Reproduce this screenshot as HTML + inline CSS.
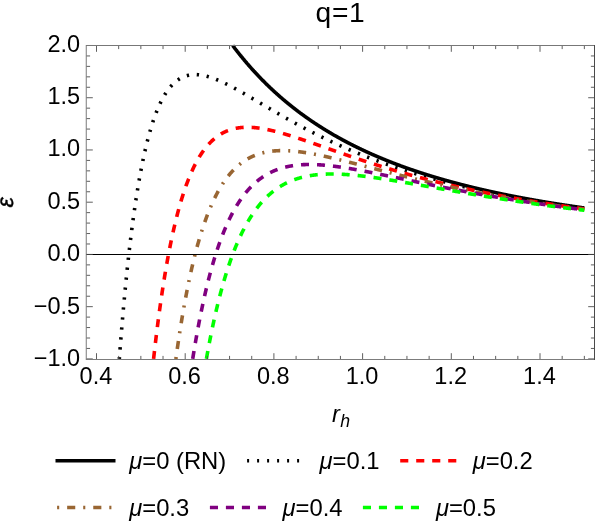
<!DOCTYPE html>
<html><head><meta charset="utf-8"><style>
html,body{margin:0;padding:0;background:#fff;}
svg{display:block;will-change:transform;}
text{font-family:"Liberation Sans",sans-serif;fill:#000;}
</style></head><body>
<svg width="595" height="522" viewBox="0 0 595 522">
<rect width="595" height="522" fill="#fff"/>
<defs><clipPath id="c"><rect x="86.5" y="45.5" width="508.0" height="314.0"/></clipPath></defs>
<g>
<path d="M232.70,45.49 L232.94,45.80 L233.17,46.11 L233.41,46.42 L233.64,46.73 L233.87,47.04 L234.11,47.35 L234.34,47.66 L234.58,47.97 L234.81,48.28 L235.05,48.58 L235.28,48.89 L235.52,49.19 L235.75,49.50 L235.99,49.80 L236.22,50.10 L236.46,50.40 L236.69,50.70 L236.92,51.01 L237.16,51.31 L237.39,51.60 L237.63,51.90 L237.86,52.20 L238.10,52.50 L238.33,52.79 L238.57,53.09 L238.80,53.39 L239.04,53.68 L239.27,53.98 L239.50,54.27 L239.74,54.56 L239.97,54.85 L240.21,55.14 L240.44,55.44 L240.68,55.73 L240.91,56.02 L241.15,56.30 L241.38,56.59 L241.62,56.88 L241.85,57.17 L242.09,57.45 L242.32,57.74 L242.55,58.03 L242.79,58.31 L243.02,58.59 L243.26,58.88 L243.49,59.16 L243.73,59.44 L243.96,59.72 L244.20,60.00 L244.43,60.28 L244.67,60.56 L244.90,60.84 L245.14,61.12 L245.37,61.40 L245.60,61.68 L245.84,61.95 L246.07,62.23 L246.31,62.51 L246.54,62.78 L246.78,63.05 L247.01,63.33 L247.25,63.60 L247.48,63.87 L247.72,64.15 L247.95,64.42 L248.18,64.69 L248.42,64.96 L248.65,65.23 L248.89,65.50 L249.12,65.77 L249.36,66.03 L249.59,66.30 L249.83,66.57 L250.06,66.83 L250.30,67.10 L250.53,67.36 L250.77,67.63 L251.00,67.89 L251.23,68.16 L251.47,68.42 L251.70,68.68 L251.94,68.94 L252.17,69.20 L252.41,69.47 L252.64,69.73 L252.88,69.98 L253.11,70.24 L253.35,70.50 L253.58,70.76 L253.81,71.02 L254.05,71.27 L254.28,71.53 L254.52,71.79 L254.75,72.04 L254.99,72.30 L255.22,72.55 L255.46,72.80 L255.69,73.06 L255.93,73.31 L256.16,73.56 L256.40,73.81 L256.63,74.06 L256.86,74.31 L257.10,74.56 L257.33,74.81 L257.57,75.06 L257.80,75.31 L258.04,75.56 L258.27,75.81 L258.51,76.05 L258.74,76.30 L258.98,76.55 L259.21,76.79 L259.44,77.04 L259.68,77.28 L259.91,77.52 L260.15,77.77 L260.38,78.01 L260.62,78.25 L260.85,78.49 L261.09,78.73 L261.32,78.98 L261.56,79.22 L261.79,79.46 L262.03,79.70 L262.26,79.93 L262.49,80.17 L262.73,80.41 L262.96,80.65 L263.20,80.88 L263.43,81.12 L263.67,81.36 L263.90,81.59 L264.14,81.83 L264.37,82.06 L264.61,82.30 L264.84,82.53 L265.08,82.76 L265.31,82.99 L265.54,83.23 L265.78,83.46 L266.01,83.69 L266.25,83.92 L266.48,84.15 L266.72,84.38 L266.95,84.61 L267.19,84.84 L267.42,85.07 L267.66,85.29 L267.89,85.52 L268.12,85.75 L268.36,85.98 L268.59,86.20 L268.83,86.43 L269.06,86.65 L269.30,86.88 L269.53,87.10 L269.77,87.32 L270.00,87.55 L270.24,87.77 L270.47,87.99 L270.71,88.22 L270.94,88.44 L271.17,88.66 L271.41,88.88 L271.64,89.10 L271.88,89.32 L272.11,89.54 L272.35,89.76 L272.58,89.98 L272.82,90.19 L273.05,90.41 L273.29,90.63 L273.52,90.85 L273.75,91.06 L273.99,91.28 L274.22,91.49 L274.46,91.71 L274.69,91.92 L274.93,92.14 L275.16,92.35 L275.40,92.56 L275.63,92.78 L275.87,92.99 L276.10,93.20 L276.34,93.41 L276.57,93.62 L276.80,93.84 L277.04,94.05 L277.27,94.26 L277.51,94.47 L277.74,94.67 L277.98,94.88 L278.21,95.09 L278.45,95.30 L278.68,95.51 L278.92,95.71 L279.15,95.92 L279.38,96.13 L279.62,96.33 L279.85,96.54 L280.09,96.74 L280.32,96.95 L280.56,97.15 L280.79,97.36 L281.03,97.56 L281.26,97.76 L281.50,97.97 L281.73,98.17 L281.97,98.37 L282.20,98.57 L282.43,98.77 L282.67,98.98 L282.90,99.18 L283.14,99.38 L283.37,99.58 L283.61,99.77 L283.84,99.97 L284.08,100.17 L284.31,100.37 L284.55,100.57 L284.78,100.76 L285.02,100.96 L285.25,101.16 L285.48,101.35 L285.72,101.55 L285.95,101.75 L286.19,101.94 L286.42,102.14 L286.66,102.33 L286.89,102.52 L287.13,102.72 L287.36,102.91 L287.60,103.10 L287.83,103.30 L288.06,103.49 L288.30,103.68 L288.53,103.87 L288.77,104.06 L289.00,104.25 L289.24,104.44 L289.47,104.63 L289.71,104.82 L289.94,105.01 L290.18,105.20 L290.41,105.39 L290.65,105.58 L290.88,105.77 L291.11,105.95 L291.35,106.14 L291.58,106.33 L291.82,106.51 L292.05,106.70 L292.29,106.88 L292.52,107.07 L292.76,107.26 L292.99,107.44 L293.23,107.62 L293.46,107.81 L293.69,107.99 L293.93,108.17 L294.16,108.36 L294.40,108.54 L294.63,108.72 L294.87,108.90 L295.10,109.09 L295.34,109.27 L295.57,109.45 L295.81,109.63 L296.04,109.81 L296.28,109.99 L296.51,110.17 L296.74,110.35 L296.98,110.53 L297.21,110.70 L297.45,110.88 L297.68,111.06 L297.92,111.24 L298.15,111.42 L298.39,111.59 L298.62,111.77 L298.86,111.94 L299.09,112.12 L299.32,112.30 L299.56,112.47 L299.79,112.65 L300.03,112.82 L300.26,113.00 L300.50,113.17 L300.73,113.34 L300.97,113.52 L301.20,113.69 L301.44,113.86 L301.67,114.03 L301.91,114.21 L302.14,114.38 L302.37,114.55 L302.61,114.72 L302.84,114.89 L303.08,115.06 L303.31,115.23 L303.55,115.40 L303.78,115.57 L304.02,115.74 L304.25,115.91 L304.49,116.08 L304.72,116.25 L304.96,116.41 L305.19,116.58 L305.42,116.75 L305.66,116.92 L305.89,117.08 L306.13,117.25 L306.36,117.42 L306.60,117.58 L306.83,117.75 L307.07,117.91 L307.30,118.08 L307.54,118.24 L307.77,118.41 L308.00,118.57 L308.24,118.73 L308.47,118.90 L308.71,119.06 L308.94,119.22 L309.18,119.39 L309.41,119.55 L309.65,119.71 L309.88,119.87 L310.12,120.03 L310.35,120.19 L310.59,120.35 L310.82,120.52 L311.05,120.68 L311.29,120.84 L311.52,121.00 L311.76,121.15 L311.99,121.31 L312.23,121.47 L312.46,121.63 L312.70,121.79 L312.93,121.95 L313.17,122.11 L313.40,122.26 L313.63,122.42 L313.87,122.58 L314.10,122.73 L314.34,122.89 L314.57,123.05 L314.81,123.20 L315.04,123.36 L315.28,123.51 L315.51,123.67 L315.75,123.82 L315.98,123.98 L316.22,124.13 L316.45,124.28 L316.68,124.44 L316.92,124.59 L317.15,124.74 L317.39,124.90 L317.62,125.05 L317.86,125.20 L318.09,125.35 L318.33,125.50 L318.56,125.66 L318.80,125.81 L319.03,125.96 L319.27,126.11 L319.50,126.26 L319.73,126.41 L319.97,126.56 L320.20,126.71 L320.44,126.86 L320.67,127.01 L320.91,127.15 L321.14,127.30 L321.38,127.45 L321.61,127.60 L321.85,127.75 L322.08,127.89 L322.31,128.04 L322.55,128.19 L322.78,128.34 L323.02,128.48 L323.25,128.63 L323.49,128.77 L323.72,128.92 L323.96,129.07 L324.19,129.21 L324.43,129.36 L324.66,129.50 L324.90,129.64 L325.13,129.79 L325.36,129.93 L325.60,130.08 L325.83,130.22 L326.07,130.36 L326.30,130.51 L326.54,130.65 L326.77,130.79 L327.01,130.93 L327.24,131.07 L327.48,131.22 L327.71,131.36 L327.94,131.50 L328.18,131.64 L328.41,131.78 L328.65,131.92 L328.88,132.06 L329.12,132.20 L329.35,132.34 L329.59,132.48 L329.82,132.62 L330.06,132.76 L330.29,132.90 L330.53,133.04 L330.76,133.17 L330.99,133.31 L331.23,133.45 L331.46,133.59 L331.70,133.73 L331.93,133.86 L332.17,134.00 L332.40,134.14 L332.64,134.27 L332.87,134.41 L333.11,134.54 L333.34,134.68 L333.57,134.82 L333.81,134.95 L334.04,135.09 L334.28,135.22 L334.51,135.36 L334.75,135.49 L334.98,135.62 L335.22,135.76 L335.45,135.89 L335.69,136.03 L335.92,136.16 L336.16,136.29 L336.39,136.42 L336.62,136.56 L336.86,136.69 L337.09,136.82 L337.33,136.95 L337.56,137.08 L337.80,137.22 L338.03,137.35 L338.27,137.48 L338.50,137.61 L338.74,137.74 L338.97,137.87 L339.21,138.00 L339.44,138.13 L339.67,138.26 L339.91,138.39 L340.14,138.52 L340.38,138.65 L340.61,138.78 L340.85,138.91 L341.08,139.03 L341.32,139.16 L341.55,139.29 L341.79,139.42 L342.02,139.55 L342.25,139.67 L342.49,139.80 L342.72,139.93 L342.96,140.05 L343.19,140.18 L343.43,140.31 L343.66,140.43 L343.90,140.56 L344.13,140.68 L344.37,140.81 L344.60,140.93 L344.84,141.06 L345.07,141.18 L345.30,141.31 L345.54,141.43 L345.77,141.56 L346.01,141.68 L346.24,141.81 L346.48,141.93 L346.71,142.05 L346.95,142.18 L347.18,142.30 L347.42,142.42 L347.65,142.54 L347.88,142.67 L348.12,142.79 L348.35,142.91 L348.59,143.03 L348.82,143.15 L349.06,143.28 L349.29,143.40 L349.53,143.52 L349.76,143.64 L350.00,143.76 L350.23,143.88 L350.47,144.00 L350.70,144.12 L350.93,144.24 L351.17,144.36 L351.40,144.48 L351.64,144.60 L351.87,144.72 L352.11,144.84 L352.34,144.95 L352.58,145.07 L352.81,145.19 L353.05,145.31 L353.28,145.43 L353.51,145.54 L353.75,145.66 L353.98,145.78 L354.22,145.90 L354.45,146.01 L354.69,146.13 L354.92,146.25 L355.16,146.36 L355.39,146.48 L355.63,146.60 L355.86,146.71 L356.10,146.83 L356.33,146.94 L356.56,147.06 L356.80,147.17 L357.03,147.29 L357.27,147.40 L357.50,147.52 L357.74,147.63 L357.97,147.75 L358.21,147.86 L358.44,147.97 L358.68,148.09 L358.91,148.20 L359.15,148.31 L359.38,148.43 L359.61,148.54 L359.85,148.65 L360.08,148.76 L360.32,148.88 L360.55,148.99 L360.79,149.10 L361.02,149.21 L361.26,149.32 L361.49,149.44 L361.73,149.55 L361.96,149.66 L362.19,149.77 L362.43,149.88 L362.66,149.99 L362.90,150.10 L363.13,150.21 L363.37,150.32 L363.60,150.43 L363.84,150.54 L364.07,150.65 L364.31,150.76 L364.54,150.87 L364.78,150.98 L365.01,151.09 L365.24,151.19 L365.48,151.30 L365.71,151.41 L365.95,151.52 L366.18,151.63 L366.42,151.74 L366.65,151.84 L366.89,151.95 L367.12,152.06 L367.36,152.16 L367.59,152.27 L367.82,152.38 L368.06,152.49 L368.29,152.59 L368.53,152.70 L368.76,152.80 L369.00,152.91 L369.23,153.02 L369.47,153.12 L369.70,153.23 L369.94,153.33 L370.17,153.44 L370.41,153.54 L370.64,153.65 L370.87,153.75 L371.11,153.86 L371.34,153.96 L371.58,154.06 L371.81,154.17 L372.05,154.27 L372.28,154.38 L372.52,154.48 L372.75,154.58 L372.99,154.69 L373.22,154.79 L373.45,154.89 L373.69,154.99 L373.92,155.10 L374.16,155.20 L374.39,155.30 L374.63,155.40 L374.86,155.51 L375.10,155.61 L375.33,155.71 L375.57,155.81 L375.80,155.91 L376.04,156.01 L376.27,156.11 L376.50,156.22 L376.74,156.32 L376.97,156.42 L377.21,156.52 L377.44,156.62 L377.68,156.72 L377.91,156.82 L378.15,156.92 L378.38,157.02 L378.62,157.12 L378.85,157.21 L379.09,157.31 L379.32,157.41 L379.55,157.51 L379.79,157.61 L380.02,157.71 L380.26,157.81 L380.49,157.91 L380.73,158.00 L380.96,158.10 L381.20,158.20 L381.43,158.30 L381.67,158.39 L381.90,158.49 L382.13,158.59 L382.37,158.69 L382.60,158.78 L382.84,158.88 L383.07,158.98 L383.31,159.07 L383.54,159.17 L383.78,159.27 L384.01,159.36 L384.25,159.46 L384.48,159.55 L384.72,159.65 L384.95,159.74 L385.18,159.84 L385.42,159.93 L385.65,160.03 L385.89,160.12 L386.12,160.22 L386.36,160.31 L386.59,160.41 L386.83,160.50 L387.06,160.60 L387.30,160.69 L387.53,160.78 L387.76,160.88 L388.00,160.97 L388.23,161.06 L388.47,161.16 L388.70,161.25 L388.94,161.34 L389.17,161.44 L389.41,161.53 L389.64,161.62 L389.88,161.72 L390.11,161.81 L390.35,161.90 L390.58,161.99 L390.81,162.08 L391.05,162.18 L391.28,162.27 L391.52,162.36 L391.75,162.45 L391.99,162.54 L392.22,162.63 L392.46,162.72 L392.69,162.81 L392.93,162.90 L393.16,163.00 L393.39,163.09 L393.63,163.18 L393.86,163.27 L394.10,163.36 L394.33,163.45 L394.57,163.54 L394.80,163.63 L395.04,163.71 L395.27,163.80 L395.51,163.89 L395.74,163.98 L395.98,164.07 L396.21,164.16 L396.44,164.25 L396.68,164.34 L396.91,164.43 L397.15,164.51 L397.38,164.60 L397.62,164.69 L397.85,164.78 L398.09,164.87 L398.32,164.95 L398.56,165.04 L398.79,165.13 L399.03,165.22 L399.26,165.30 L399.49,165.39 L399.73,165.48 L399.96,165.56 L400.20,165.65 L400.43,165.74 L400.67,165.82 L400.90,165.91 L401.14,166.00 L401.37,166.08 L401.61,166.17 L401.84,166.25 L402.07,166.34 L402.31,166.42 L402.54,166.51 L402.78,166.60 L403.01,166.68 L403.25,166.77 L403.48,166.85 L403.72,166.94 L403.95,167.02 L404.19,167.10 L404.42,167.19 L404.66,167.27 L404.89,167.36 L405.12,167.44 L405.36,167.53 L405.59,167.61 L405.83,167.69 L406.06,167.78 L406.30,167.86 L406.53,167.94 L406.77,168.03 L407.00,168.11 L407.24,168.19 L407.47,168.28 L407.70,168.36 L407.94,168.44 L408.17,168.52 L408.41,168.61 L408.64,168.69 L408.88,168.77 L409.11,168.85 L409.35,168.93 L409.58,169.02 L409.82,169.10 L410.05,169.18 L410.29,169.26 L410.52,169.34 L410.75,169.42 L410.99,169.50 L411.22,169.58 L411.46,169.67 L411.69,169.75 L411.93,169.83 L412.16,169.91 L412.40,169.99 L412.63,170.07 L412.87,170.15 L413.10,170.23 L413.33,170.31 L413.57,170.39 L413.80,170.47 L414.04,170.55 L414.27,170.63 L414.51,170.71 L414.74,170.78 L414.98,170.86 L415.21,170.94 L415.45,171.02 L415.68,171.10 L415.92,171.18 L416.15,171.26 L416.38,171.34 L416.62,171.41 L416.85,171.49 L417.09,171.57 L417.32,171.65 L417.56,171.73 L417.79,171.80 L418.03,171.88 L418.26,171.96 L418.50,172.04 L418.73,172.11 L418.97,172.19 L419.20,172.27 L419.43,172.35 L419.67,172.42 L419.90,172.50 L420.14,172.58 L420.37,172.65 L420.61,172.73 L420.84,172.81 L421.08,172.88 L421.31,172.96 L421.55,173.03 L421.78,173.11 L422.01,173.19 L422.25,173.26 L422.48,173.34 L422.72,173.41 L422.95,173.49 L423.19,173.56 L423.42,173.64 L423.66,173.71 L423.89,173.79 L424.13,173.86 L424.36,173.94 L424.60,174.01 L424.83,174.09 L425.06,174.16 L425.30,174.24 L425.53,174.31 L425.77,174.39 L426.00,174.46 L426.24,174.53 L426.47,174.61 L426.71,174.68 L426.94,174.75 L427.18,174.83 L427.41,174.90 L427.64,174.98 L427.88,175.05 L428.11,175.12 L428.35,175.19 L428.58,175.27 L428.82,175.34 L429.05,175.41 L429.29,175.49 L429.52,175.56 L429.76,175.63 L429.99,175.70 L430.23,175.78 L430.46,175.85 L430.69,175.92 L430.93,175.99 L431.16,176.06 L431.40,176.14 L431.63,176.21 L431.87,176.28 L432.10,176.35 L432.34,176.42 L432.57,176.49 L432.81,176.56 L433.04,176.63 L433.28,176.71 L433.51,176.78 L433.74,176.85 L433.98,176.92 L434.21,176.99 L434.45,177.06 L434.68,177.13 L434.92,177.20 L435.15,177.27 L435.39,177.34 L435.62,177.41 L435.86,177.48 L436.09,177.55 L436.32,177.62 L436.56,177.69 L436.79,177.76 L437.03,177.83 L437.26,177.90 L437.50,177.97 L437.73,178.04 L437.97,178.10 L438.20,178.17 L438.44,178.24 L438.67,178.31 L438.91,178.38 L439.14,178.45 L439.37,178.52 L439.61,178.59 L439.84,178.65 L440.08,178.72 L440.31,178.79 L440.55,178.86 L440.78,178.93 L441.02,178.99 L441.25,179.06 L441.49,179.13 L441.72,179.20 L441.95,179.26 L442.19,179.33 L442.42,179.40 L442.66,179.47 L442.89,179.53 L443.13,179.60 L443.36,179.67 L443.60,179.73 L443.83,179.80 L444.07,179.87 L444.30,179.93 L444.54,180.00 L444.77,180.07 L445.00,180.13 L445.24,180.20 L445.47,180.27 L445.71,180.33 L445.94,180.40 L446.18,180.46 L446.41,180.53 L446.65,180.60 L446.88,180.66 L447.12,180.73 L447.35,180.79 L447.58,180.86 L447.82,180.92 L448.05,180.99 L448.29,181.05 L448.52,181.12 L448.76,181.18 L448.99,181.25 L449.23,181.31 L449.46,181.38 L449.70,181.44 L449.93,181.51 L450.17,181.57 L450.40,181.64 L450.63,181.70 L450.87,181.76 L451.10,181.83 L451.34,181.89 L451.57,181.96 L451.81,182.02 L452.04,182.08 L452.28,182.15 L452.51,182.21 L452.75,182.27 L452.98,182.34 L453.22,182.40 L453.45,182.46 L453.68,182.53 L453.92,182.59 L454.15,182.65 L454.39,182.72 L454.62,182.78 L454.86,182.84 L455.09,182.90 L455.33,182.97 L455.56,183.03 L455.80,183.09 L456.03,183.15 L456.26,183.22 L456.50,183.28 L456.73,183.34 L456.97,183.40 L457.20,183.46 L457.44,183.53 L457.67,183.59 L457.91,183.65 L458.14,183.71 L458.38,183.77 L458.61,183.83 L458.85,183.90 L459.08,183.96 L459.31,184.02 L459.55,184.08 L459.78,184.14 L460.02,184.20 L460.25,184.26 L460.49,184.32 L460.72,184.38 L460.96,184.44 L461.19,184.50 L461.43,184.57 L461.66,184.63 L461.89,184.69 L462.13,184.75 L462.36,184.81 L462.60,184.87 L462.83,184.93 L463.07,184.99 L463.30,185.05 L463.54,185.11 L463.77,185.17 L464.01,185.23 L464.24,185.28 L464.48,185.34 L464.71,185.40 L464.94,185.46 L465.18,185.52 L465.41,185.58 L465.65,185.64 L465.88,185.70 L466.12,185.76 L466.35,185.82 L466.59,185.88 L466.82,185.93 L467.06,185.99 L467.29,186.05 L467.52,186.11 L467.76,186.17 L467.99,186.23 L468.23,186.29 L468.46,186.34 L468.70,186.40 L468.93,186.46 L469.17,186.52 L469.40,186.58 L469.64,186.63 L469.87,186.69 L470.11,186.75 L470.34,186.81 L470.57,186.86 L470.81,186.92 L471.04,186.98 L471.28,187.04 L471.51,187.09 L471.75,187.15 L471.98,187.21 L472.22,187.26 L472.45,187.32 L472.69,187.38 L472.92,187.44 L473.16,187.49 L473.39,187.55 L473.62,187.61 L473.86,187.66 L474.09,187.72 L474.33,187.77 L474.56,187.83 L474.80,187.89 L475.03,187.94 L475.27,188.00 L475.50,188.06 L475.74,188.11 L475.97,188.17 L476.20,188.22 L476.44,188.28 L476.67,188.33 L476.91,188.39 L477.14,188.45 L477.38,188.50 L477.61,188.56 L477.85,188.61 L478.08,188.67 L478.32,188.72 L478.55,188.78 L478.79,188.83 L479.02,188.89 L479.25,188.94 L479.49,189.00 L479.72,189.05 L479.96,189.11 L480.19,189.16 L480.43,189.22 L480.66,189.27 L480.90,189.32 L481.13,189.38 L481.37,189.43 L481.60,189.49 L481.83,189.54 L482.07,189.60 L482.30,189.65 L482.54,189.70 L482.77,189.76 L483.01,189.81 L483.24,189.86 L483.48,189.92 L483.71,189.97 L483.95,190.03 L484.18,190.08 L484.42,190.13 L484.65,190.19 L484.88,190.24 L485.12,190.29 L485.35,190.34 L485.59,190.40 L485.82,190.45 L486.06,190.50 L486.29,190.56 L486.53,190.61 L486.76,190.66 L487.00,190.72 L487.23,190.77 L487.46,190.82 L487.70,190.87 L487.93,190.93 L488.17,190.98 L488.40,191.03 L488.64,191.08 L488.87,191.13 L489.11,191.19 L489.34,191.24 L489.58,191.29 L489.81,191.34 L490.05,191.39 L490.28,191.45 L490.51,191.50 L490.75,191.55 L490.98,191.60 L491.22,191.65 L491.45,191.70 L491.69,191.75 L491.92,191.81 L492.16,191.86 L492.39,191.91 L492.63,191.96 L492.86,192.01 L493.10,192.06 L493.33,192.11 L493.56,192.16 L493.80,192.21 L494.03,192.27 L494.27,192.32 L494.50,192.37 L494.74,192.42 L494.97,192.47 L495.21,192.52 L495.44,192.57 L495.68,192.62 L495.91,192.67 L496.14,192.72 L496.38,192.77 L496.61,192.82 L496.85,192.87 L497.08,192.92 L497.32,192.97 L497.55,193.02 L497.79,193.07 L498.02,193.12 L498.26,193.17 L498.49,193.22 L498.73,193.27 L498.96,193.32 L499.19,193.37 L499.43,193.42 L499.66,193.47 L499.90,193.51 L500.13,193.56 L500.37,193.61 L500.60,193.66 L500.84,193.71 L501.07,193.76 L501.31,193.81 L501.54,193.86 L501.77,193.91 L502.01,193.95 L502.24,194.00 L502.48,194.05 L502.71,194.10 L502.95,194.15 L503.18,194.20 L503.42,194.25 L503.65,194.29 L503.89,194.34 L504.12,194.39 L504.36,194.44 L504.59,194.49 L504.82,194.53 L505.06,194.58 L505.29,194.63 L505.53,194.68 L505.76,194.73 L506.00,194.77 L506.23,194.82 L506.47,194.87 L506.70,194.92 L506.94,194.96 L507.17,195.01 L507.40,195.06 L507.64,195.11 L507.87,195.15 L508.11,195.20 L508.34,195.25 L508.58,195.30 L508.81,195.34 L509.05,195.39 L509.28,195.44 L509.52,195.48 L509.75,195.53 L509.99,195.58 L510.22,195.62 L510.45,195.67 L510.69,195.72 L510.92,195.76 L511.16,195.81 L511.39,195.86 L511.63,195.90 L511.86,195.95 L512.10,195.99 L512.33,196.04 L512.57,196.09 L512.80,196.13 L513.04,196.18 L513.27,196.23 L513.50,196.27 L513.74,196.32 L513.97,196.36 L514.21,196.41 L514.44,196.45 L514.68,196.50 L514.91,196.55 L515.15,196.59 L515.38,196.64 L515.62,196.68 L515.85,196.73 L516.08,196.77 L516.32,196.82 L516.55,196.86 L516.79,196.91 L517.02,196.95 L517.26,197.00 L517.49,197.04 L517.73,197.09 L517.96,197.13 L518.20,197.18 L518.43,197.22 L518.67,197.27 L518.90,197.31 L519.13,197.36 L519.37,197.40 L519.60,197.45 L519.84,197.49 L520.07,197.54 L520.31,197.58 L520.54,197.62 L520.78,197.67 L521.01,197.71 L521.25,197.76 L521.48,197.80 L521.71,197.85 L521.95,197.89 L522.18,197.93 L522.42,197.98 L522.65,198.02 L522.89,198.06 L523.12,198.11 L523.36,198.15 L523.59,198.20 L523.83,198.24 L524.06,198.28 L524.30,198.33 L524.53,198.37 L524.76,198.41 L525.00,198.46 L525.23,198.50 L525.47,198.54 L525.70,198.59 L525.94,198.63 L526.17,198.67 L526.41,198.72 L526.64,198.76 L526.88,198.80 L527.11,198.85 L527.34,198.89 L527.58,198.93 L527.81,198.97 L528.05,199.02 L528.28,199.06 L528.52,199.10 L528.75,199.14 L528.99,199.19 L529.22,199.23 L529.46,199.27 L529.69,199.31 L529.93,199.36 L530.16,199.40 L530.39,199.44 L530.63,199.48 L530.86,199.53 L531.10,199.57 L531.33,199.61 L531.57,199.65 L531.80,199.69 L532.04,199.74 L532.27,199.78 L532.51,199.82 L532.74,199.86 L532.98,199.90 L533.21,199.94 L533.44,199.99 L533.68,200.03 L533.91,200.07 L534.15,200.11 L534.38,200.15 L534.62,200.19 L534.85,200.23 L535.09,200.28 L535.32,200.32 L535.56,200.36 L535.79,200.40 L536.02,200.44 L536.26,200.48 L536.49,200.52 L536.73,200.56 L536.96,200.60 L537.20,200.64 L537.43,200.69 L537.67,200.73 L537.90,200.77 L538.14,200.81 L538.37,200.85 L538.61,200.89 L538.84,200.93 L539.07,200.97 L539.31,201.01 L539.54,201.05 L539.78,201.09 L540.01,201.13 L540.25,201.17 L540.48,201.21 L540.72,201.25 L540.95,201.29 L541.19,201.33 L541.42,201.37 L541.65,201.41 L541.89,201.45 L542.12,201.49 L542.36,201.53 L542.59,201.57 L542.83,201.61 L543.06,201.65 L543.30,201.69 L543.53,201.73 L543.77,201.77 L544.00,201.81 L544.24,201.85 L544.47,201.89 L544.70,201.93 L544.94,201.97 L545.17,202.01 L545.41,202.05 L545.64,202.08 L545.88,202.12 L546.11,202.16 L546.35,202.20 L546.58,202.24 L546.82,202.28 L547.05,202.32 L547.29,202.36 L547.52,202.40 L547.75,202.44 L547.99,202.47 L548.22,202.51 L548.46,202.55 L548.69,202.59 L548.93,202.63 L549.16,202.67 L549.40,202.71 L549.63,202.74 L549.87,202.78 L550.10,202.82 L550.33,202.86 L550.57,202.90 L550.80,202.94 L551.04,202.97 L551.27,203.01 L551.51,203.05 L551.74,203.09 L551.98,203.13 L552.21,203.17 L552.45,203.20 L552.68,203.24 L552.92,203.28 L553.15,203.32 L553.38,203.35 L553.62,203.39 L553.85,203.43 L554.09,203.47 L554.32,203.51 L554.56,203.54 L554.79,203.58 L555.03,203.62 L555.26,203.66 L555.50,203.69 L555.73,203.73 L555.96,203.77 L556.20,203.81 L556.43,203.84 L556.67,203.88 L556.90,203.92 L557.14,203.95 L557.37,203.99 L557.61,204.03 L557.84,204.07 L558.08,204.10 L558.31,204.14 L558.55,204.18 L558.78,204.21 L559.01,204.25 L559.25,204.29 L559.48,204.32 L559.72,204.36 L559.95,204.40 L560.19,204.43 L560.42,204.47 L560.66,204.51 L560.89,204.54 L561.13,204.58 L561.36,204.62 L561.59,204.65 L561.83,204.69 L562.06,204.72 L562.30,204.76 L562.53,204.80 L562.77,204.83 L563.00,204.87 L563.24,204.91 L563.47,204.94 L563.71,204.98 L563.94,205.01 L564.18,205.05 L564.41,205.09 L564.64,205.12 L564.88,205.16 L565.11,205.19 L565.35,205.23 L565.58,205.26 L565.82,205.30 L566.05,205.34 L566.29,205.37 L566.52,205.41 L566.76,205.44 L566.99,205.48 L567.23,205.51 L567.46,205.55 L567.69,205.58 L567.93,205.62 L568.16,205.65 L568.40,205.69 L568.63,205.72 L568.87,205.76 L569.10,205.79 L569.34,205.83 L569.57,205.87 L569.81,205.90 L570.04,205.94 L570.27,205.97 L570.51,206.00 L570.74,206.04 L570.98,206.07 L571.21,206.11 L571.45,206.14 L571.68,206.18 L571.92,206.21 L572.15,206.25 L572.39,206.28 L572.62,206.32 L572.86,206.35 L573.09,206.39 L573.32,206.42 L573.56,206.46 L573.79,206.49 L574.03,206.52 L574.26,206.56 L574.50,206.59 L574.73,206.63 L574.97,206.66 L575.20,206.69 L575.44,206.73 L575.67,206.76 L575.90,206.80 L576.14,206.83 L576.37,206.87 L576.61,206.90 L576.84,206.93 L577.08,206.97 L577.31,207.00 L577.55,207.03 L577.78,207.07 L578.02,207.10 L578.25,207.14 L578.49,207.17 L578.72,207.20 L578.95,207.24 L579.19,207.27 L579.42,207.30 L579.66,207.34 L579.89,207.37 L580.13,207.40 L580.36,207.44 L580.60,207.47 L580.83,207.50 L581.07,207.54 L581.30,207.57 L581.53,207.60 L581.77,207.64 L582.00,207.67 L582.24,207.70 L582.47,207.74 L582.71,207.77 L582.94,207.80 L583.18,207.83 L583.41,207.87 L583.65,207.90 L583.88,207.93 L584.12,207.97 L584.35,208.00" fill="none" stroke="#000000" stroke-width="3.6"/>
<path d="M119.32,358.90 L119.63,354.78 L119.94,350.71 L120.25,346.70 L120.56,342.74 L120.87,338.83 L121.18,334.97 L121.49,331.16 L121.80,327.41 L122.11,323.70 L122.42,320.04 L122.73,316.43 L123.04,312.87 L123.35,309.35 L123.66,305.88 L123.97,302.46 L124.28,299.08 L124.59,295.74 L124.90,292.45 L125.21,289.20 L125.52,286.00 L125.83,282.84 L126.14,279.72 L126.45,276.64 L126.76,273.60 L127.07,270.60 L127.38,267.64 L127.69,264.72 L128.00,261.83 L128.31,258.99 L128.62,256.18 L128.93,253.41 L129.24,250.68 L129.55,247.98 L129.86,245.32 L130.17,242.70 L130.48,240.11 L130.79,237.55 L131.10,235.03 L131.41,232.54 L131.72,230.08 L132.03,227.66 L132.35,225.27 L132.66,222.91 L132.97,220.58 L133.28,218.29 L133.59,216.02 L133.90,213.78 L134.21,211.58 L134.52,209.40 L134.83,207.25 L135.14,205.14 L135.45,203.05 L135.76,200.98 L136.07,198.95 L136.38,196.94 L136.69,194.96 L137.00,193.01 L137.31,191.08 L137.62,189.18 L137.93,187.31 L138.24,185.46 L138.55,183.63 L138.86,181.83 L139.17,180.06 L139.48,178.31 L139.79,176.58 L140.10,174.87 L140.41,173.19 L140.72,171.54 L141.03,169.90 L141.34,168.29 L141.65,166.70 L141.96,165.13 L142.27,163.58 L142.58,162.06 L142.89,160.55 L143.20,159.07 L143.51,157.60 L143.82,156.16 L144.13,154.74 L144.44,153.34 L144.75,151.95 L145.06,150.59 L145.37,149.24 L145.68,147.92 L146.00,146.61 L146.31,145.32 L146.62,144.05 L146.93,142.79 L147.24,141.56 L147.55,140.34 L147.86,139.14 L148.17,137.96 L148.48,136.79 L148.79,135.64 L149.10,134.51 L149.41,133.39 L149.72,132.29 L150.03,131.20 L150.34,130.13 L150.65,129.08 L150.96,128.04 L151.27,127.02 L151.58,126.01 L151.89,125.02 L152.20,124.04 L152.51,123.07 L152.82,122.12 L153.13,121.18 L153.44,120.26 L153.75,119.35 L154.06,118.46 L154.37,117.58 L154.68,116.71 L154.99,115.85 L155.30,115.01 L155.61,114.18 L155.92,113.36 L156.23,112.56 L156.54,111.76 L156.85,110.98 L157.16,110.22 L157.47,109.46 L157.78,108.71 L158.09,107.98 L158.40,107.26 L158.71,106.55 L159.02,105.85 L159.34,105.16 L159.65,104.49 L159.96,103.82 L160.27,103.16 L160.58,102.52 L160.89,101.88 L161.20,101.26 L161.51,100.64 L161.82,100.04 L162.13,99.45 L162.44,98.86 L162.75,98.29 L163.06,97.72 L163.37,97.17 L163.68,96.62 L163.99,96.08 L164.30,95.55 L164.61,95.03 L164.92,94.52 L165.23,94.02 L165.54,93.53 L165.85,93.05 L166.16,92.57 L166.47,92.10 L166.78,91.64 L167.09,91.19 L167.40,90.75 L167.71,90.32 L168.02,89.89 L168.33,89.47 L168.64,89.06 L168.95,88.66 L169.26,88.26 L169.57,87.87 L169.88,87.49 L170.19,87.12 L170.50,86.75 L170.81,86.39 L171.12,86.04 L171.43,85.69 L171.74,85.35 L172.05,85.02 L172.36,84.69 L172.67,84.38 L172.99,84.06 L173.30,83.76 L173.61,83.46 L173.92,83.16 L174.23,82.88 L174.54,82.60 L174.85,82.32 L175.16,82.05 L175.47,81.79 L175.78,81.53 L176.09,81.28 L176.40,81.04 L176.71,80.80 L177.02,80.56 L177.33,80.33 L177.64,80.11 L177.95,79.89 L178.26,79.68 L178.57,79.47 L178.88,79.27 L179.19,79.07 L179.50,78.88 L179.81,78.70 L180.12,78.51 L180.43,78.34 L180.74,78.17 L181.05,78.00 L181.36,77.84 L181.67,77.68 L181.98,77.52 L182.29,77.38 L182.60,77.23 L182.91,77.09 L183.22,76.96 L183.53,76.83 L183.84,76.70 L184.15,76.58 L184.46,76.46 L184.77,76.34 L185.08,76.23 L185.39,76.13 L185.70,76.03 L186.01,75.93 L186.33,75.83 L186.64,75.74 L186.95,75.66 L187.26,75.57 L187.57,75.49 L187.88,75.42 L188.19,75.35 L188.50,75.28 L188.81,75.21 L189.12,75.15 L189.43,75.10 L189.74,75.04 L190.05,74.99 L190.36,74.94 L190.67,74.90 L190.98,74.86 L191.29,74.82 L191.60,74.79 L191.91,74.75 L192.22,74.73 L192.53,74.70 L192.84,74.68 L193.15,74.66 L193.46,74.64 L193.77,74.63 L194.08,74.62 L194.39,74.61 L194.70,74.61 L195.01,74.60 L195.32,74.60 L195.63,74.61 L195.94,74.61 L196.25,74.62 L196.56,74.63 L196.87,74.65 L197.18,74.66 L197.49,74.68 L197.80,74.70 L198.11,74.73 L198.42,74.75 L198.73,74.78 L199.04,74.81 L199.35,74.85 L199.66,74.88 L199.98,74.92 L200.29,74.96 L200.60,75.00 L200.91,75.04 L201.22,75.09 L201.53,75.14 L201.84,75.19 L202.15,75.24 L202.46,75.30 L202.77,75.36 L203.08,75.41 L203.39,75.48 L203.70,75.54 L204.01,75.60 L204.32,75.67 L204.63,75.74 L204.94,75.81 L205.25,75.88 L205.56,75.96 L205.87,76.03 L206.18,76.11 L206.49,76.19 L206.80,76.27 L207.11,76.35 L207.42,76.44 L207.73,76.52 L208.04,76.61 L208.35,76.70 L208.66,76.79 L208.97,76.88 L209.28,76.98 L209.59,77.07 L209.90,77.17 L210.21,77.27 L210.52,77.37 L210.83,77.47 L211.14,77.57 L211.45,77.68 L211.76,77.78 L212.07,77.89 L212.38,78.00 L212.69,78.11 L213.00,78.22 L213.32,78.33 L213.63,78.44 L213.94,78.56 L214.25,78.67 L214.56,78.79 L214.87,78.91 L215.18,79.03 L215.49,79.15 L215.80,79.27 L216.11,79.40 L216.42,79.52 L216.73,79.64 L217.04,79.77 L217.35,79.90 L217.66,80.03 L217.97,80.16 L218.28,80.29 L218.59,80.42 L218.90,80.55 L219.21,80.69 L219.52,80.82 L219.83,80.96 L220.14,81.09 L220.45,81.23 L220.76,81.37 L221.07,81.51 L221.38,81.65 L221.69,81.79 L222.00,81.93 L222.31,82.08 L222.62,82.22 L222.93,82.36 L223.24,82.51 L223.55,82.66 L223.86,82.80 L224.17,82.95 L224.48,83.10 L224.79,83.25 L225.10,83.40 L225.41,83.55 L225.72,83.70 L226.03,83.85 L226.34,84.01 L226.65,84.16 L226.97,84.31 L227.28,84.47 L227.59,84.62 L227.90,84.78 L228.21,84.94 L228.52,85.10 L228.83,85.25 L229.14,85.41 L229.45,85.57 L229.76,85.73 L230.07,85.89 L230.38,86.05 L230.69,86.22 L231.00,86.38 L231.31,86.54 L231.62,86.70 L231.93,86.87 L232.24,87.03 L232.55,87.20 L232.86,87.36 L233.17,87.53 L233.48,87.69 L233.79,87.86 L234.10,88.03 L234.41,88.20 L234.72,88.36 L235.03,88.53 L235.34,88.70 L235.65,88.87 L235.96,89.04 L236.27,89.21 L236.58,89.38 L236.89,89.55 L237.20,89.72 L237.51,89.90 L237.82,90.07 L238.13,90.24 L238.44,90.41 L238.75,90.59 L239.06,90.76 L239.37,90.93 L239.68,91.11 L239.99,91.28 L240.31,91.46 L240.62,91.63 L240.93,91.81 L241.24,91.98 L241.55,92.16 L241.86,92.34 L242.17,92.51 L242.48,92.69 L242.79,92.87 L243.10,93.04 L243.41,93.22 L243.72,93.40 L244.03,93.58 L244.34,93.76 L244.65,93.93 L244.96,94.11 L245.27,94.29 L245.58,94.47 L245.89,94.65 L246.20,94.83 L246.51,95.01 L246.82,95.19 L247.13,95.37 L247.44,95.55 L247.75,95.73 L248.06,95.91 L248.37,96.09 L248.68,96.27 L248.99,96.45 L249.30,96.63 L249.61,96.82 L249.92,97.00 L250.23,97.18 L250.54,97.36 L250.85,97.54 L251.16,97.72 L251.47,97.91 L251.78,98.09 L252.09,98.27 L252.40,98.45 L252.71,98.64 L253.02,98.82 L253.33,99.00 L253.64,99.18 L253.96,99.37 L254.27,99.55 L254.58,99.73 L254.89,99.92 L255.20,100.10 L255.51,100.28 L255.82,100.46 L256.13,100.65 L256.44,100.83 L256.75,101.01 L257.06,101.20 L257.37,101.38 L257.68,101.56 L257.99,101.75 L258.30,101.93 L258.61,102.12 L258.92,102.30 L259.23,102.48 L259.54,102.67 L259.85,102.85 L260.16,103.03 L260.47,103.22 L260.78,103.40 L261.09,103.58 L261.40,103.77 L261.71,103.95 L262.02,104.13 L262.33,104.32 L262.64,104.50 L262.95,104.68 L263.26,104.87 L263.57,105.05 L263.88,105.23 L264.19,105.42 L264.50,105.60 L264.81,105.78 L265.12,105.97 L265.43,106.15 L265.74,106.33 L266.05,106.52 L266.36,106.70 L266.67,106.88 L266.98,107.07 L267.30,107.25 L267.61,107.43 L267.92,107.61 L268.23,107.80 L268.54,107.98 L268.85,108.16 L269.16,108.34 L269.47,108.53 L269.78,108.71 L270.09,108.89 L270.40,109.07 L270.71,109.25 L271.02,109.44 L271.33,109.62 L271.64,109.80 L271.95,109.98 L272.26,110.16 L272.57,110.34 L272.88,110.53 L273.19,110.71 L273.50,110.89 L273.81,111.07 L274.12,111.25 L274.43,111.43 L274.74,111.61 L275.05,111.79 L275.36,111.97 L275.67,112.15 L275.98,112.33 L276.29,112.51 L276.60,112.69 L276.91,112.87 L277.22,113.05 L277.53,113.23 L277.84,113.41 L278.15,113.59 L278.46,113.77 L278.77,113.95 L279.08,114.13 L279.39,114.31 L279.70,114.49 L280.01,114.66 L280.32,114.84 L280.63,115.02 L280.95,115.20 L281.26,115.38 L281.57,115.55 L281.88,115.73 L282.19,115.91 L282.50,116.09 L282.81,116.26 L283.12,116.44 L283.43,116.62 L283.74,116.79 L284.05,116.97 L284.36,117.15 L284.67,117.32 L284.98,117.50 L285.29,117.68 L285.60,117.85 L285.91,118.03 L286.22,118.20 L286.53,118.38 L286.84,118.55 L287.15,118.73 L287.46,118.90 L287.77,119.08 L288.08,119.25 L288.39,119.43 L288.70,119.60 L289.01,119.77 L289.32,119.95 L289.63,120.12 L289.94,120.29 L290.25,120.47 L290.56,120.64 L290.87,120.81 L291.18,120.99 L291.49,121.16 L291.80,121.33 L292.11,121.50 L292.42,121.68 L292.73,121.85 L293.04,122.02 L293.35,122.19 L293.66,122.36 L293.97,122.53 L294.29,122.70 L294.60,122.87 L294.91,123.04 L295.22,123.21 L295.53,123.38 L295.84,123.55 L296.15,123.72 L296.46,123.89 L296.77,124.06 L297.08,124.23 L297.39,124.40 L297.70,124.57 L298.01,124.74 L298.32,124.91 L298.63,125.07 L298.94,125.24 L299.25,125.41 L299.56,125.58 L299.87,125.74 L300.18,125.91 L300.49,126.08 L300.80,126.25 L301.11,126.41 L301.42,126.58 L301.73,126.74 L302.04,126.91 L302.35,127.08 L302.66,127.24 L302.97,127.41 L303.28,127.57 L303.59,127.74 L303.90,127.90 L304.21,128.07 L304.52,128.23 L304.83,128.39 L305.14,128.56 L305.45,128.72 L305.76,128.88 L306.07,129.05 L306.38,129.21 L306.69,129.37 L307.00,129.54 L307.31,129.70 L307.62,129.86 L307.94,130.02 L308.25,130.18 L308.56,130.35 L308.87,130.51 L309.18,130.67 L309.49,130.83 L309.80,130.99 L310.11,131.15 L310.42,131.31 L310.73,131.47 L311.04,131.63 L311.35,131.79 L311.66,131.95 L311.97,132.11 L312.28,132.27 L312.59,132.43 L312.90,132.58 L313.21,132.74 L313.52,132.90 L313.83,133.06 L314.14,133.22 L314.45,133.37 L314.76,133.53 L315.07,133.69 L315.38,133.84 L315.69,134.00 L316.00,134.16 L316.31,134.31 L316.62,134.47 L316.93,134.62 L317.24,134.78 L317.55,134.94 L317.86,135.09 L318.17,135.25 L318.48,135.40 L318.79,135.55 L319.10,135.71 L319.41,135.86 L319.72,136.02 L320.03,136.17 L320.34,136.32 L320.65,136.48 L320.96,136.63 L321.28,136.78 L321.59,136.93 L321.90,137.09 L322.21,137.24 L322.52,137.39 L322.83,137.54 L323.14,137.69 L323.45,137.84 L323.76,137.99 L324.07,138.15 L324.38,138.30 L324.69,138.45 L325.00,138.60 L325.31,138.75 L325.62,138.90 L325.93,139.04 L326.24,139.19 L326.55,139.34 L326.86,139.49 L327.17,139.64 L327.48,139.79 L327.79,139.94 L328.10,140.08 L328.41,140.23 L328.72,140.38 L329.03,140.53 L329.34,140.67 L329.65,140.82 L329.96,140.97 L330.27,141.11 L330.58,141.26 L330.89,141.40 L331.20,141.55 L331.51,141.70 L331.82,141.84 L332.13,141.99 L332.44,142.13 L332.75,142.27 L333.06,142.42 L333.37,142.56 L333.68,142.71 L333.99,142.85 L334.30,142.99 L334.61,143.14 L334.93,143.28 L335.24,143.42 L335.55,143.57 L335.86,143.71 L336.17,143.85 L336.48,143.99 L336.79,144.13 L337.10,144.28 L337.41,144.42 L337.72,144.56 L338.03,144.70 L338.34,144.84 L338.65,144.98 L338.96,145.12 L339.27,145.26 L339.58,145.40 L339.89,145.54 L340.20,145.68 L340.51,145.82 L340.82,145.96 L341.13,146.10 L341.44,146.23 L341.75,146.37 L342.06,146.51 L342.37,146.65 L342.68,146.79 L342.99,146.92 L343.30,147.06 L343.61,147.20 L343.92,147.33 L344.23,147.47 L344.54,147.61 L344.85,147.74 L345.16,147.88 L345.47,148.01 L345.78,148.15 L346.09,148.29 L346.40,148.42 L346.71,148.56 L347.02,148.69 L347.33,148.82 L347.64,148.96 L347.95,149.09 L348.27,149.23 L348.58,149.36 L348.89,149.49 L349.20,149.63 L349.51,149.76 L349.82,149.89 L350.13,150.02 L350.44,150.16 L350.75,150.29 L351.06,150.42 L351.37,150.55 L351.68,150.68 L351.99,150.82 L352.30,150.95 L352.61,151.08 L352.92,151.21 L353.23,151.34 L353.54,151.47 L353.85,151.60 L354.16,151.73 L354.47,151.86 L354.78,151.99 L355.09,152.12 L355.40,152.25 L355.71,152.38 L356.02,152.50 L356.33,152.63 L356.64,152.76 L356.95,152.89 L357.26,153.02 L357.57,153.14 L357.88,153.27 L358.19,153.40 L358.50,153.53 L358.81,153.65 L359.12,153.78 L359.43,153.90 L359.74,154.03 L360.05,154.16 L360.36,154.28 L360.67,154.41 L360.98,154.53 L361.29,154.66 L361.60,154.78 L361.92,154.91 L362.23,155.03 L362.54,155.16 L362.85,155.28 L363.16,155.41 L363.47,155.53 L363.78,155.65 L364.09,155.78 L364.40,155.90 L364.71,156.02 L365.02,156.15 L365.33,156.27 L365.64,156.39 L365.95,156.51 L366.26,156.63 L366.57,156.76 L366.88,156.88 L367.19,157.00 L367.50,157.12 L367.81,157.24 L368.12,157.36 L368.43,157.48 L368.74,157.60 L369.05,157.72 L369.36,157.84 L369.67,157.96 L369.98,158.08 L370.29,158.20 L370.60,158.32 L370.91,158.44 L371.22,158.56 L371.53,158.68 L371.84,158.80 L372.15,158.92 L372.46,159.03 L372.77,159.15 L373.08,159.27 L373.39,159.39 L373.70,159.50 L374.01,159.62 L374.32,159.74 L374.63,159.86 L374.94,159.97 L375.26,160.09 L375.57,160.20 L375.88,160.32 L376.19,160.44 L376.50,160.55 L376.81,160.67 L377.12,160.78 L377.43,160.90 L377.74,161.01 L378.05,161.13 L378.36,161.24 L378.67,161.36 L378.98,161.47 L379.29,161.58 L379.60,161.70 L379.91,161.81 L380.22,161.93 L380.53,162.04 L380.84,162.15 L381.15,162.26 L381.46,162.38 L381.77,162.49 L382.08,162.60 L382.39,162.71 L382.70,162.83 L383.01,162.94 L383.32,163.05 L383.63,163.16 L383.94,163.27 L384.25,163.38 L384.56,163.49 L384.87,163.61 L385.18,163.72 L385.49,163.83 L385.80,163.94 L386.11,164.05 L386.42,164.16 L386.73,164.27 L387.04,164.38 L387.35,164.48 L387.66,164.59 L387.97,164.70 L388.28,164.81 L388.59,164.92 L388.91,165.03 L389.22,165.14 L389.53,165.24 L389.84,165.35 L390.15,165.46 L390.46,165.57 L390.77,165.67 L391.08,165.78 L391.39,165.89 L391.70,166.00 L392.01,166.10 L392.32,166.21 L392.63,166.32 L392.94,166.42 L393.25,166.53 L393.56,166.63 L393.87,166.74 L394.18,166.84 L394.49,166.95 L394.80,167.05 L395.11,167.16 L395.42,167.26 L395.73,167.37 L396.04,167.47 L396.35,167.58 L396.66,167.68 L396.97,167.79 L397.28,167.89 L397.59,167.99 L397.90,168.10 L398.21,168.20 L398.52,168.30 L398.83,168.41 L399.14,168.51 L399.45,168.61 L399.76,168.71 L400.07,168.82 L400.38,168.92 L400.69,169.02 L401.00,169.12 L401.31,169.22 L401.62,169.32 L401.93,169.43 L402.25,169.53 L402.56,169.63 L402.87,169.73 L403.18,169.83 L403.49,169.93 L403.80,170.03 L404.11,170.13 L404.42,170.23 L404.73,170.33 L405.04,170.43 L405.35,170.53 L405.66,170.63 L405.97,170.73 L406.28,170.83 L406.59,170.92 L406.90,171.02 L407.21,171.12 L407.52,171.22 L407.83,171.32 L408.14,171.42 L408.45,171.51 L408.76,171.61 L409.07,171.71 L409.38,171.81 L409.69,171.90 L410.00,172.00 L410.31,172.10 L410.62,172.19 L410.93,172.29 L411.24,172.39 L411.55,172.48 L411.86,172.58 L412.17,172.68 L412.48,172.77 L412.79,172.87 L413.10,172.96 L413.41,173.06 L413.72,173.15 L414.03,173.25 L414.34,173.34 L414.65,173.44 L414.96,173.53 L415.27,173.63 L415.58,173.72 L415.90,173.82 L416.21,173.91 L416.52,174.00 L416.83,174.10 L417.14,174.19 L417.45,174.28 L417.76,174.38 L418.07,174.47 L418.38,174.56 L418.69,174.66 L419.00,174.75 L419.31,174.84 L419.62,174.93 L419.93,175.03 L420.24,175.12 L420.55,175.21 L420.86,175.30 L421.17,175.39 L421.48,175.49 L421.79,175.58 L422.10,175.67 L422.41,175.76 L422.72,175.85 L423.03,175.94 L423.34,176.03 L423.65,176.12 L423.96,176.21 L424.27,176.30 L424.58,176.39 L424.89,176.48 L425.20,176.57 L425.51,176.66 L425.82,176.75 L426.13,176.84 L426.44,176.93 L426.75,177.02 L427.06,177.11 L427.37,177.20 L427.68,177.28 L427.99,177.37 L428.30,177.46 L428.61,177.55 L428.92,177.64 L429.24,177.73 L429.55,177.81 L429.86,177.90 L430.17,177.99 L430.48,178.08 L430.79,178.16 L431.10,178.25 L431.41,178.34 L431.72,178.42 L432.03,178.51 L432.34,178.60 L432.65,178.68 L432.96,178.77 L433.27,178.85 L433.58,178.94 L433.89,179.03 L434.20,179.11 L434.51,179.20 L434.82,179.28 L435.13,179.37 L435.44,179.45 L435.75,179.54 L436.06,179.62 L436.37,179.71 L436.68,179.79 L436.99,179.88 L437.30,179.96 L437.61,180.05 L437.92,180.13 L438.23,180.21 L438.54,180.30 L438.85,180.38 L439.16,180.46 L439.47,180.55 L439.78,180.63 L440.09,180.71 L440.40,180.80 L440.71,180.88 L441.02,180.96 L441.33,181.05 L441.64,181.13 L441.95,181.21 L442.26,181.29 L442.57,181.37 L442.89,181.46 L443.20,181.54 L443.51,181.62 L443.82,181.70 L444.13,181.78 L444.44,181.86 L444.75,181.95 L445.06,182.03 L445.37,182.11 L445.68,182.19 L445.99,182.27 L446.30,182.35 L446.61,182.43 L446.92,182.51 L447.23,182.59 L447.54,182.67 L447.85,182.75 L448.16,182.83 L448.47,182.91 L448.78,182.99 L449.09,183.07 L449.40,183.15 L449.71,183.23 L450.02,183.31 L450.33,183.38 L450.64,183.46 L450.95,183.54 L451.26,183.62 L451.57,183.70 L451.88,183.78 L452.19,183.86 L452.50,183.93 L452.81,184.01 L453.12,184.09 L453.43,184.17 L453.74,184.24 L454.05,184.32 L454.36,184.40 L454.67,184.48 L454.98,184.55 L455.29,184.63 L455.60,184.71 L455.91,184.78 L456.23,184.86 L456.54,184.94 L456.85,185.01 L457.16,185.09 L457.47,185.17 L457.78,185.24 L458.09,185.32 L458.40,185.39 L458.71,185.47 L459.02,185.55 L459.33,185.62 L459.64,185.70 L459.95,185.77 L460.26,185.85 L460.57,185.92 L460.88,186.00 L461.19,186.07 L461.50,186.15 L461.81,186.22 L462.12,186.29 L462.43,186.37 L462.74,186.44 L463.05,186.52 L463.36,186.59 L463.67,186.66 L463.98,186.74 L464.29,186.81 L464.60,186.88 L464.91,186.96 L465.22,187.03 L465.53,187.10 L465.84,187.18 L466.15,187.25 L466.46,187.32 L466.77,187.40 L467.08,187.47 L467.39,187.54 L467.70,187.61 L468.01,187.69 L468.32,187.76 L468.63,187.83 L468.94,187.90 L469.25,187.97 L469.56,188.04 L469.88,188.12 L470.19,188.19 L470.50,188.26 L470.81,188.33 L471.12,188.40 L471.43,188.47 L471.74,188.54 L472.05,188.61 L472.36,188.68 L472.67,188.76 L472.98,188.83 L473.29,188.90 L473.60,188.97 L473.91,189.04 L474.22,189.11 L474.53,189.18 L474.84,189.25 L475.15,189.32 L475.46,189.39 L475.77,189.46 L476.08,189.52 L476.39,189.59 L476.70,189.66 L477.01,189.73 L477.32,189.80 L477.63,189.87 L477.94,189.94 L478.25,190.01 L478.56,190.08 L478.87,190.14 L479.18,190.21 L479.49,190.28 L479.80,190.35 L480.11,190.42 L480.42,190.48 L480.73,190.55 L481.04,190.62 L481.35,190.69 L481.66,190.76 L481.97,190.82 L482.28,190.89 L482.59,190.96 L482.90,191.02 L483.22,191.09 L483.53,191.16 L483.84,191.23 L484.15,191.29 L484.46,191.36 L484.77,191.43 L485.08,191.49 L485.39,191.56 L485.70,191.62 L486.01,191.69 L486.32,191.76 L486.63,191.82 L486.94,191.89 L487.25,191.95 L487.56,192.02 L487.87,192.08 L488.18,192.15 L488.49,192.22 L488.80,192.28 L489.11,192.35 L489.42,192.41 L489.73,192.48 L490.04,192.54 L490.35,192.60 L490.66,192.67 L490.97,192.73 L491.28,192.80 L491.59,192.86 L491.90,192.93 L492.21,192.99 L492.52,193.06 L492.83,193.12 L493.14,193.18 L493.45,193.25 L493.76,193.31 L494.07,193.37 L494.38,193.44 L494.69,193.50 L495.00,193.56 L495.31,193.63 L495.62,193.69 L495.93,193.75 L496.24,193.82 L496.55,193.88 L496.87,193.94 L497.18,194.00 L497.49,194.07 L497.80,194.13 L498.11,194.19 L498.42,194.25 L498.73,194.32 L499.04,194.38 L499.35,194.44 L499.66,194.50 L499.97,194.56 L500.28,194.63 L500.59,194.69 L500.90,194.75 L501.21,194.81 L501.52,194.87 L501.83,194.93 L502.14,194.99 L502.45,195.05 L502.76,195.12 L503.07,195.18 L503.38,195.24 L503.69,195.30 L504.00,195.36 L504.31,195.42 L504.62,195.48 L504.93,195.54 L505.24,195.60 L505.55,195.66 L505.86,195.72 L506.17,195.78 L506.48,195.84 L506.79,195.90 L507.10,195.96 L507.41,196.02 L507.72,196.08 L508.03,196.14 L508.34,196.20 L508.65,196.26 L508.96,196.32 L509.27,196.38 L509.58,196.43 L509.89,196.49 L510.21,196.55 L510.52,196.61 L510.83,196.67 L511.14,196.73 L511.45,196.79 L511.76,196.84 L512.07,196.90 L512.38,196.96 L512.69,197.02 L513.00,197.08 L513.31,197.14 L513.62,197.19 L513.93,197.25 L514.24,197.31 L514.55,197.37 L514.86,197.42 L515.17,197.48 L515.48,197.54 L515.79,197.60 L516.10,197.65 L516.41,197.71 L516.72,197.77 L517.03,197.82 L517.34,197.88 L517.65,197.94 L517.96,198.00 L518.27,198.05 L518.58,198.11 L518.89,198.17 L519.20,198.22 L519.51,198.28 L519.82,198.33 L520.13,198.39 L520.44,198.45 L520.75,198.50 L521.06,198.56 L521.37,198.61 L521.68,198.67 L521.99,198.73 L522.30,198.78 L522.61,198.84 L522.92,198.89 L523.23,198.95 L523.54,199.00 L523.86,199.06 L524.17,199.11 L524.48,199.17 L524.79,199.22 L525.10,199.28 L525.41,199.33 L525.72,199.39 L526.03,199.44 L526.34,199.50 L526.65,199.55 L526.96,199.61 L527.27,199.66 L527.58,199.71 L527.89,199.77 L528.20,199.82 L528.51,199.88 L528.82,199.93 L529.13,199.98 L529.44,200.04 L529.75,200.09 L530.06,200.14 L530.37,200.20 L530.68,200.25 L530.99,200.31 L531.30,200.36 L531.61,200.41 L531.92,200.46 L532.23,200.52 L532.54,200.57 L532.85,200.62 L533.16,200.68 L533.47,200.73 L533.78,200.78 L534.09,200.83 L534.40,200.89 L534.71,200.94 L535.02,200.99 L535.33,201.04 L535.64,201.10 L535.95,201.15 L536.26,201.20 L536.57,201.25 L536.88,201.31 L537.20,201.36 L537.51,201.41 L537.82,201.46 L538.13,201.51 L538.44,201.56 L538.75,201.62 L539.06,201.67 L539.37,201.72 L539.68,201.77 L539.99,201.82 L540.30,201.87 L540.61,201.92 L540.92,201.97 L541.23,202.02 L541.54,202.08 L541.85,202.13 L542.16,202.18 L542.47,202.23 L542.78,202.28 L543.09,202.33 L543.40,202.38 L543.71,202.43 L544.02,202.48 L544.33,202.53 L544.64,202.58 L544.95,202.63 L545.26,202.68 L545.57,202.73 L545.88,202.78 L546.19,202.83 L546.50,202.88 L546.81,202.93 L547.12,202.98 L547.43,203.03 L547.74,203.08 L548.05,203.13 L548.36,203.18 L548.67,203.23 L548.98,203.28 L549.29,203.32 L549.60,203.37 L549.91,203.42 L550.22,203.47 L550.53,203.52 L550.85,203.57 L551.16,203.62 L551.47,203.67 L551.78,203.71 L552.09,203.76 L552.40,203.81 L552.71,203.86 L553.02,203.91 L553.33,203.96 L553.64,204.00 L553.95,204.05 L554.26,204.10 L554.57,204.15 L554.88,204.20 L555.19,204.24 L555.50,204.29 L555.81,204.34 L556.12,204.39 L556.43,204.43 L556.74,204.48 L557.05,204.53 L557.36,204.58 L557.67,204.62 L557.98,204.67 L558.29,204.72 L558.60,204.77 L558.91,204.81 L559.22,204.86 L559.53,204.91 L559.84,204.95 L560.15,205.00 L560.46,205.05 L560.77,205.09 L561.08,205.14 L561.39,205.19 L561.70,205.23 L562.01,205.28 L562.32,205.33 L562.63,205.37 L562.94,205.42 L563.25,205.46 L563.56,205.51 L563.87,205.56 L564.19,205.60 L564.50,205.65 L564.81,205.69 L565.12,205.74 L565.43,205.79 L565.74,205.83 L566.05,205.88 L566.36,205.92 L566.67,205.97 L566.98,206.01 L567.29,206.06 L567.60,206.10 L567.91,206.15 L568.22,206.19 L568.53,206.24 L568.84,206.28 L569.15,206.33 L569.46,206.37 L569.77,206.42 L570.08,206.46 L570.39,206.51 L570.70,206.55 L571.01,206.60 L571.32,206.64 L571.63,206.69 L571.94,206.73 L572.25,206.77 L572.56,206.82 L572.87,206.86 L573.18,206.91 L573.49,206.95 L573.80,207.00 L574.11,207.04 L574.42,207.08 L574.73,207.13 L575.04,207.17 L575.35,207.21 L575.66,207.26 L575.97,207.30 L576.28,207.35 L576.59,207.39 L576.90,207.43 L577.21,207.48 L577.52,207.52 L577.84,207.56 L578.15,207.61 L578.46,207.65 L578.77,207.69 L579.08,207.73 L579.39,207.78 L579.70,207.82 L580.01,207.86 L580.32,207.91 L580.63,207.95 L580.94,207.99 L581.25,208.03 L581.56,208.08 L581.87,208.12 L582.18,208.16 L582.49,208.20 L582.80,208.25 L583.11,208.29 L583.42,208.33 L583.73,208.37 L584.04,208.42 L584.35,208.46" fill="none" stroke="#000000" stroke-width="3.6" stroke-dasharray="2.3 7.7" stroke-dashoffset="0.6"/>
<path d="M153.59,358.90 L153.88,356.31 L154.17,353.75 L154.45,351.22 L154.74,348.71 L155.03,346.23 L155.32,343.77 L155.60,341.34 L155.89,338.93 L156.18,336.55 L156.47,334.19 L156.75,331.86 L157.04,329.55 L157.33,327.27 L157.62,325.00 L157.90,322.76 L158.19,320.55 L158.48,318.35 L158.76,316.18 L159.05,314.03 L159.34,311.91 L159.63,309.80 L159.91,307.72 L160.20,305.66 L160.49,303.62 L160.78,301.59 L161.06,299.60 L161.35,297.62 L161.64,295.66 L161.93,293.72 L162.21,291.80 L162.50,289.90 L162.79,288.02 L163.08,286.16 L163.36,284.32 L163.65,282.50 L163.94,280.69 L164.22,278.91 L164.51,277.14 L164.80,275.39 L165.09,273.66 L165.37,271.95 L165.66,270.26 L165.95,268.58 L166.24,266.92 L166.52,265.27 L166.81,263.65 L167.10,262.04 L167.39,260.44 L167.67,258.87 L167.96,257.31 L168.25,255.76 L168.54,254.23 L168.82,252.72 L169.11,251.22 L169.40,249.74 L169.68,248.28 L169.97,246.83 L170.26,245.39 L170.55,243.97 L170.83,242.56 L171.12,241.17 L171.41,239.79 L171.70,238.43 L171.98,237.08 L172.27,235.74 L172.56,234.42 L172.85,233.11 L173.13,231.82 L173.42,230.54 L173.71,229.27 L174.00,228.02 L174.28,226.78 L174.57,225.55 L174.86,224.33 L175.14,223.13 L175.43,221.94 L175.72,220.76 L176.01,219.60 L176.29,218.45 L176.58,217.30 L176.87,216.18 L177.16,215.06 L177.44,213.95 L177.73,212.86 L178.02,211.78 L178.31,210.70 L178.59,209.65 L178.88,208.60 L179.17,207.56 L179.46,206.53 L179.74,205.52 L180.03,204.51 L180.32,203.52 L180.60,202.53 L180.89,201.56 L181.18,200.60 L181.47,199.64 L181.75,198.70 L182.04,197.77 L182.33,196.85 L182.62,195.93 L182.90,195.03 L183.19,194.14 L183.48,193.25 L183.77,192.38 L184.05,191.51 L184.34,190.66 L184.63,189.81 L184.91,188.97 L185.20,188.14 L185.49,187.32 L185.78,186.51 L186.06,185.71 L186.35,184.92 L186.64,184.13 L186.93,183.36 L187.21,182.59 L187.50,181.83 L187.79,181.08 L188.08,180.34 L188.36,179.60 L188.65,178.88 L188.94,178.16 L189.23,177.45 L189.51,176.74 L189.80,176.05 L190.09,175.36 L190.37,174.68 L190.66,174.01 L190.95,173.34 L191.24,172.68 L191.52,172.03 L191.81,171.39 L192.10,170.76 L192.39,170.13 L192.67,169.50 L192.96,168.89 L193.25,168.28 L193.54,167.68 L193.82,167.09 L194.11,166.50 L194.40,165.92 L194.69,165.34 L194.97,164.78 L195.26,164.21 L195.55,163.66 L195.83,163.11 L196.12,162.57 L196.41,162.03 L196.70,161.50 L196.98,160.98 L197.27,160.46 L197.56,159.95 L197.85,159.44 L198.13,158.94 L198.42,158.45 L198.71,157.96 L199.00,157.48 L199.28,157.00 L199.57,156.53 L199.86,156.06 L200.15,155.60 L200.43,155.15 L200.72,154.70 L201.01,154.25 L201.29,153.81 L201.58,153.38 L201.87,152.95 L202.16,152.53 L202.44,152.11 L202.73,151.70 L203.02,151.29 L203.31,150.89 L203.59,150.49 L203.88,150.09 L204.17,149.71 L204.46,149.32 L204.74,148.94 L205.03,148.57 L205.32,148.20 L205.61,147.83 L205.89,147.47 L206.18,147.12 L206.47,146.77 L206.75,146.42 L207.04,146.08 L207.33,145.74 L207.62,145.40 L207.90,145.07 L208.19,144.75 L208.48,144.43 L208.77,144.11 L209.05,143.80 L209.34,143.49 L209.63,143.18 L209.92,142.88 L210.20,142.58 L210.49,142.29 L210.78,142.00 L211.07,141.72 L211.35,141.43 L211.64,141.16 L211.93,140.88 L212.21,140.61 L212.50,140.35 L212.79,140.08 L213.08,139.82 L213.36,139.57 L213.65,139.32 L213.94,139.07 L214.23,138.82 L214.51,138.58 L214.80,138.34 L215.09,138.11 L215.38,137.88 L215.66,137.65 L215.95,137.42 L216.24,137.20 L216.52,136.98 L216.81,136.77 L217.10,136.55 L217.39,136.35 L217.67,136.14 L217.96,135.94 L218.25,135.74 L218.54,135.54 L218.82,135.35 L219.11,135.16 L219.40,134.97 L219.69,134.78 L219.97,134.60 L220.26,134.42 L220.55,134.25 L220.84,134.07 L221.12,133.90 L221.41,133.73 L221.70,133.57 L221.98,133.41 L222.27,133.25 L222.56,133.09 L222.85,132.94 L223.13,132.78 L223.42,132.63 L223.71,132.49 L224.00,132.34 L224.28,132.20 L224.57,132.06 L224.86,131.93 L225.15,131.79 L225.43,131.66 L225.72,131.53 L226.01,131.40 L226.30,131.28 L226.58,131.16 L226.87,131.04 L227.16,130.92 L227.44,130.80 L227.73,130.69 L228.02,130.58 L228.31,130.47 L228.59,130.36 L228.88,130.26 L229.17,130.16 L229.46,130.06 L229.74,129.96 L230.03,129.86 L230.32,129.77 L230.61,129.68 L230.89,129.59 L231.18,129.50 L231.47,129.41 L231.76,129.33 L232.04,129.25 L232.33,129.17 L232.62,129.09 L232.90,129.01 L233.19,128.94 L233.48,128.87 L233.77,128.80 L234.05,128.73 L234.34,128.66 L234.63,128.59 L234.92,128.53 L235.20,128.47 L235.49,128.41 L235.78,128.35 L236.07,128.29 L236.35,128.24 L236.64,128.19 L236.93,128.14 L237.22,128.09 L237.50,128.04 L237.79,127.99 L238.08,127.95 L238.36,127.90 L238.65,127.86 L238.94,127.82 L239.23,127.78 L239.51,127.75 L239.80,127.71 L240.09,127.68 L240.38,127.64 L240.66,127.61 L240.95,127.58 L241.24,127.55 L241.53,127.53 L241.81,127.50 L242.10,127.48 L242.39,127.46 L242.68,127.43 L242.96,127.41 L243.25,127.40 L243.54,127.38 L243.82,127.36 L244.11,127.35 L244.40,127.34 L244.69,127.32 L244.97,127.31 L245.26,127.30 L245.55,127.30 L245.84,127.29 L246.12,127.28 L246.41,127.28 L246.70,127.28 L246.99,127.27 L247.27,127.27 L247.56,127.27 L247.85,127.28 L248.13,127.28 L248.42,127.28 L248.71,127.29 L249.00,127.29 L249.28,127.30 L249.57,127.31 L249.86,127.32 L250.15,127.33 L250.43,127.34 L250.72,127.35 L251.01,127.37 L251.30,127.38 L251.58,127.40 L251.87,127.41 L252.16,127.43 L252.45,127.45 L252.73,127.47 L253.02,127.49 L253.31,127.51 L253.59,127.53 L253.88,127.56 L254.17,127.58 L254.46,127.61 L254.74,127.63 L255.03,127.66 L255.32,127.69 L255.61,127.72 L255.89,127.75 L256.18,127.78 L256.47,127.81 L256.76,127.84 L257.04,127.87 L257.33,127.91 L257.62,127.94 L257.91,127.98 L258.19,128.02 L258.48,128.05 L258.77,128.09 L259.05,128.13 L259.34,128.17 L259.63,128.21 L259.92,128.25 L260.20,128.29 L260.49,128.34 L260.78,128.38 L261.07,128.42 L261.35,128.47 L261.64,128.52 L261.93,128.56 L262.22,128.61 L262.50,128.66 L262.79,128.71 L263.08,128.75 L263.37,128.80 L263.65,128.86 L263.94,128.91 L264.23,128.96 L264.51,129.01 L264.80,129.06 L265.09,129.12 L265.38,129.17 L265.66,129.23 L265.95,129.28 L266.24,129.34 L266.53,129.40 L266.81,129.45 L267.10,129.51 L267.39,129.57 L267.68,129.63 L267.96,129.69 L268.25,129.75 L268.54,129.81 L268.83,129.87 L269.11,129.94 L269.40,130.00 L269.69,130.06 L269.97,130.13 L270.26,130.19 L270.55,130.26 L270.84,130.32 L271.12,130.39 L271.41,130.45 L271.70,130.52 L271.99,130.59 L272.27,130.65 L272.56,130.72 L272.85,130.79 L273.14,130.86 L273.42,130.93 L273.71,131.00 L274.00,131.07 L274.28,131.14 L274.57,131.21 L274.86,131.29 L275.15,131.36 L275.43,131.43 L275.72,131.51 L276.01,131.58 L276.30,131.65 L276.58,131.73 L276.87,131.80 L277.16,131.88 L277.45,131.95 L277.73,132.03 L278.02,132.11 L278.31,132.18 L278.60,132.26 L278.88,132.34 L279.17,132.42 L279.46,132.50 L279.74,132.57 L280.03,132.65 L280.32,132.73 L280.61,132.81 L280.89,132.89 L281.18,132.97 L281.47,133.05 L281.76,133.14 L282.04,133.22 L282.33,133.30 L282.62,133.38 L282.91,133.46 L283.19,133.55 L283.48,133.63 L283.77,133.71 L284.06,133.80 L284.34,133.88 L284.63,133.97 L284.92,134.05 L285.20,134.14 L285.49,134.22 L285.78,134.31 L286.07,134.39 L286.35,134.48 L286.64,134.57 L286.93,134.65 L287.22,134.74 L287.50,134.83 L287.79,134.91 L288.08,135.00 L288.37,135.09 L288.65,135.18 L288.94,135.27 L289.23,135.36 L289.52,135.44 L289.80,135.53 L290.09,135.62 L290.38,135.71 L290.66,135.80 L290.95,135.89 L291.24,135.98 L291.53,136.07 L291.81,136.16 L292.10,136.26 L292.39,136.35 L292.68,136.44 L292.96,136.53 L293.25,136.62 L293.54,136.71 L293.83,136.81 L294.11,136.90 L294.40,136.99 L294.69,137.08 L294.98,137.18 L295.26,137.27 L295.55,137.36 L295.84,137.46 L296.12,137.55 L296.41,137.64 L296.70,137.74 L296.99,137.83 L297.27,137.93 L297.56,138.02 L297.85,138.12 L298.14,138.21 L298.42,138.31 L298.71,138.40 L299.00,138.50 L299.29,138.59 L299.57,138.69 L299.86,138.78 L300.15,138.88 L300.44,138.98 L300.72,139.07 L301.01,139.17 L301.30,139.26 L301.58,139.36 L301.87,139.46 L302.16,139.55 L302.45,139.65 L302.73,139.75 L303.02,139.85 L303.31,139.94 L303.60,140.04 L303.88,140.14 L304.17,140.24 L304.46,140.33 L304.75,140.43 L305.03,140.53 L305.32,140.63 L305.61,140.72 L305.89,140.82 L306.18,140.92 L306.47,141.02 L306.76,141.12 L307.04,141.22 L307.33,141.32 L307.62,141.41 L307.91,141.51 L308.19,141.61 L308.48,141.71 L308.77,141.81 L309.06,141.91 L309.34,142.01 L309.63,142.11 L309.92,142.21 L310.21,142.31 L310.49,142.41 L310.78,142.51 L311.07,142.61 L311.35,142.70 L311.64,142.80 L311.93,142.90 L312.22,143.00 L312.50,143.10 L312.79,143.20 L313.08,143.30 L313.37,143.40 L313.65,143.50 L313.94,143.60 L314.23,143.71 L314.52,143.81 L314.80,143.91 L315.09,144.01 L315.38,144.11 L315.67,144.21 L315.95,144.31 L316.24,144.41 L316.53,144.51 L316.81,144.61 L317.10,144.71 L317.39,144.81 L317.68,144.91 L317.96,145.01 L318.25,145.11 L318.54,145.21 L318.83,145.31 L319.11,145.42 L319.40,145.52 L319.69,145.62 L319.98,145.72 L320.26,145.82 L320.55,145.92 L320.84,146.02 L321.13,146.12 L321.41,146.22 L321.70,146.32 L321.99,146.43 L322.27,146.53 L322.56,146.63 L322.85,146.73 L323.14,146.83 L323.42,146.93 L323.71,147.03 L324.00,147.13 L324.29,147.23 L324.57,147.33 L324.86,147.44 L325.15,147.54 L325.44,147.64 L325.72,147.74 L326.01,147.84 L326.30,147.94 L326.59,148.04 L326.87,148.14 L327.16,148.24 L327.45,148.35 L327.73,148.45 L328.02,148.55 L328.31,148.65 L328.60,148.75 L328.88,148.85 L329.17,148.95 L329.46,149.05 L329.75,149.15 L330.03,149.25 L330.32,149.36 L330.61,149.46 L330.90,149.56 L331.18,149.66 L331.47,149.76 L331.76,149.86 L332.04,149.96 L332.33,150.06 L332.62,150.16 L332.91,150.26 L333.19,150.36 L333.48,150.46 L333.77,150.56 L334.06,150.67 L334.34,150.77 L334.63,150.87 L334.92,150.97 L335.21,151.07 L335.49,151.17 L335.78,151.27 L336.07,151.37 L336.36,151.47 L336.64,151.57 L336.93,151.67 L337.22,151.77 L337.50,151.87 L337.79,151.97 L338.08,152.07 L338.37,152.17 L338.65,152.27 L338.94,152.37 L339.23,152.47 L339.52,152.57 L339.80,152.67 L340.09,152.77 L340.38,152.87 L340.67,152.97 L340.95,153.07 L341.24,153.17 L341.53,153.27 L341.82,153.37 L342.10,153.47 L342.39,153.57 L342.68,153.67 L342.96,153.77 L343.25,153.86 L343.54,153.96 L343.83,154.06 L344.11,154.16 L344.40,154.26 L344.69,154.36 L344.98,154.46 L345.26,154.56 L345.55,154.66 L345.84,154.76 L346.13,154.85 L346.41,154.95 L346.70,155.05 L346.99,155.15 L347.28,155.25 L347.56,155.35 L347.85,155.45 L348.14,155.54 L348.42,155.64 L348.71,155.74 L349.00,155.84 L349.29,155.94 L349.57,156.04 L349.86,156.13 L350.15,156.23 L350.44,156.33 L350.72,156.43 L351.01,156.52 L351.30,156.62 L351.59,156.72 L351.87,156.82 L352.16,156.91 L352.45,157.01 L352.74,157.11 L353.02,157.21 L353.31,157.30 L353.60,157.40 L353.88,157.50 L354.17,157.59 L354.46,157.69 L354.75,157.79 L355.03,157.89 L355.32,157.98 L355.61,158.08 L355.90,158.18 L356.18,158.27 L356.47,158.37 L356.76,158.46 L357.05,158.56 L357.33,158.66 L357.62,158.75 L357.91,158.85 L358.20,158.95 L358.48,159.04 L358.77,159.14 L359.06,159.23 L359.34,159.33 L359.63,159.42 L359.92,159.52 L360.21,159.61 L360.49,159.71 L360.78,159.81 L361.07,159.90 L361.36,160.00 L361.64,160.09 L361.93,160.19 L362.22,160.28 L362.51,160.38 L362.79,160.47 L363.08,160.57 L363.37,160.66 L363.65,160.75 L363.94,160.85 L364.23,160.94 L364.52,161.04 L364.80,161.13 L365.09,161.23 L365.38,161.32 L365.67,161.41 L365.95,161.51 L366.24,161.60 L366.53,161.70 L366.82,161.79 L367.10,161.88 L367.39,161.98 L367.68,162.07 L367.97,162.16 L368.25,162.26 L368.54,162.35 L368.83,162.44 L369.11,162.53 L369.40,162.63 L369.69,162.72 L369.98,162.81 L370.26,162.91 L370.55,163.00 L370.84,163.09 L371.13,163.18 L371.41,163.28 L371.70,163.37 L371.99,163.46 L372.28,163.55 L372.56,163.64 L372.85,163.74 L373.14,163.83 L373.43,163.92 L373.71,164.01 L374.00,164.10 L374.29,164.19 L374.57,164.28 L374.86,164.38 L375.15,164.47 L375.44,164.56 L375.72,164.65 L376.01,164.74 L376.30,164.83 L376.59,164.92 L376.87,165.01 L377.16,165.10 L377.45,165.19 L377.74,165.28 L378.02,165.37 L378.31,165.46 L378.60,165.55 L378.89,165.64 L379.17,165.73 L379.46,165.82 L379.75,165.91 L380.03,166.00 L380.32,166.09 L380.61,166.18 L380.90,166.27 L381.18,166.36 L381.47,166.45 L381.76,166.54 L382.05,166.63 L382.33,166.72 L382.62,166.81 L382.91,166.89 L383.20,166.98 L383.48,167.07 L383.77,167.16 L384.06,167.25 L384.35,167.34 L384.63,167.42 L384.92,167.51 L385.21,167.60 L385.49,167.69 L385.78,167.78 L386.07,167.86 L386.36,167.95 L386.64,168.04 L386.93,168.13 L387.22,168.21 L387.51,168.30 L387.79,168.39 L388.08,168.48 L388.37,168.56 L388.66,168.65 L388.94,168.74 L389.23,168.82 L389.52,168.91 L389.81,169.00 L390.09,169.08 L390.38,169.17 L390.67,169.26 L390.95,169.34 L391.24,169.43 L391.53,169.51 L391.82,169.60 L392.10,169.68 L392.39,169.77 L392.68,169.86 L392.97,169.94 L393.25,170.03 L393.54,170.11 L393.83,170.20 L394.12,170.28 L394.40,170.37 L394.69,170.45 L394.98,170.54 L395.26,170.62 L395.55,170.71 L395.84,170.79 L396.13,170.88 L396.41,170.96 L396.70,171.04 L396.99,171.13 L397.28,171.21 L397.56,171.30 L397.85,171.38 L398.14,171.46 L398.43,171.55 L398.71,171.63 L399.00,171.72 L399.29,171.80 L399.58,171.88 L399.86,171.97 L400.15,172.05 L400.44,172.13 L400.72,172.21 L401.01,172.30 L401.30,172.38 L401.59,172.46 L401.87,172.55 L402.16,172.63 L402.45,172.71 L402.74,172.79 L403.02,172.87 L403.31,172.96 L403.60,173.04 L403.89,173.12 L404.17,173.20 L404.46,173.28 L404.75,173.37 L405.04,173.45 L405.32,173.53 L405.61,173.61 L405.90,173.69 L406.18,173.77 L406.47,173.85 L406.76,173.93 L407.05,174.02 L407.33,174.10 L407.62,174.18 L407.91,174.26 L408.20,174.34 L408.48,174.42 L408.77,174.50 L409.06,174.58 L409.35,174.66 L409.63,174.74 L409.92,174.82 L410.21,174.90 L410.50,174.98 L410.78,175.06 L411.07,175.14 L411.36,175.22 L411.64,175.30 L411.93,175.38 L412.22,175.46 L412.51,175.53 L412.79,175.61 L413.08,175.69 L413.37,175.77 L413.66,175.85 L413.94,175.93 L414.23,176.01 L414.52,176.09 L414.81,176.16 L415.09,176.24 L415.38,176.32 L415.67,176.40 L415.96,176.48 L416.24,176.55 L416.53,176.63 L416.82,176.71 L417.10,176.79 L417.39,176.87 L417.68,176.94 L417.97,177.02 L418.25,177.10 L418.54,177.17 L418.83,177.25 L419.12,177.33 L419.40,177.41 L419.69,177.48 L419.98,177.56 L420.27,177.64 L420.55,177.71 L420.84,177.79 L421.13,177.86 L421.41,177.94 L421.70,178.02 L421.99,178.09 L422.28,178.17 L422.56,178.24 L422.85,178.32 L423.14,178.40 L423.43,178.47 L423.71,178.55 L424.00,178.62 L424.29,178.70 L424.58,178.77 L424.86,178.85 L425.15,178.92 L425.44,179.00 L425.73,179.07 L426.01,179.15 L426.30,179.22 L426.59,179.30 L426.87,179.37 L427.16,179.45 L427.45,179.52 L427.74,179.59 L428.02,179.67 L428.31,179.74 L428.60,179.82 L428.89,179.89 L429.17,179.96 L429.46,180.04 L429.75,180.11 L430.04,180.19 L430.32,180.26 L430.61,180.33 L430.90,180.41 L431.19,180.48 L431.47,180.55 L431.76,180.62 L432.05,180.70 L432.33,180.77 L432.62,180.84 L432.91,180.92 L433.20,180.99 L433.48,181.06 L433.77,181.13 L434.06,181.21 L434.35,181.28 L434.63,181.35 L434.92,181.42 L435.21,181.49 L435.50,181.57 L435.78,181.64 L436.07,181.71 L436.36,181.78 L436.65,181.85 L436.93,181.92 L437.22,181.99 L437.51,182.07 L437.79,182.14 L438.08,182.21 L438.37,182.28 L438.66,182.35 L438.94,182.42 L439.23,182.49 L439.52,182.56 L439.81,182.63 L440.09,182.70 L440.38,182.77 L440.67,182.84 L440.96,182.91 L441.24,182.98 L441.53,183.05 L441.82,183.12 L442.11,183.19 L442.39,183.26 L442.68,183.33 L442.97,183.40 L443.25,183.47 L443.54,183.54 L443.83,183.61 L444.12,183.68 L444.40,183.75 L444.69,183.82 L444.98,183.89 L445.27,183.95 L445.55,184.02 L445.84,184.09 L446.13,184.16 L446.42,184.23 L446.70,184.30 L446.99,184.37 L447.28,184.43 L447.57,184.50 L447.85,184.57 L448.14,184.64 L448.43,184.71 L448.71,184.77 L449.00,184.84 L449.29,184.91 L449.58,184.98 L449.86,185.04 L450.15,185.11 L450.44,185.18 L450.73,185.25 L451.01,185.31 L451.30,185.38 L451.59,185.45 L451.88,185.51 L452.16,185.58 L452.45,185.65 L452.74,185.71 L453.02,185.78 L453.31,185.85 L453.60,185.91 L453.89,185.98 L454.17,186.05 L454.46,186.11 L454.75,186.18 L455.04,186.24 L455.32,186.31 L455.61,186.38 L455.90,186.44 L456.19,186.51 L456.47,186.57 L456.76,186.64 L457.05,186.70 L457.34,186.77 L457.62,186.83 L457.91,186.90 L458.20,186.96 L458.48,187.03 L458.77,187.09 L459.06,187.16 L459.35,187.22 L459.63,187.29 L459.92,187.35 L460.21,187.42 L460.50,187.48 L460.78,187.55 L461.07,187.61 L461.36,187.67 L461.65,187.74 L461.93,187.80 L462.22,187.87 L462.51,187.93 L462.80,187.99 L463.08,188.06 L463.37,188.12 L463.66,188.19 L463.94,188.25 L464.23,188.31 L464.52,188.38 L464.81,188.44 L465.09,188.50 L465.38,188.56 L465.67,188.63 L465.96,188.69 L466.24,188.75 L466.53,188.82 L466.82,188.88 L467.11,188.94 L467.39,189.00 L467.68,189.07 L467.97,189.13 L468.26,189.19 L468.54,189.25 L468.83,189.31 L469.12,189.38 L469.40,189.44 L469.69,189.50 L469.98,189.56 L470.27,189.62 L470.55,189.69 L470.84,189.75 L471.13,189.81 L471.42,189.87 L471.70,189.93 L471.99,189.99 L472.28,190.05 L472.57,190.12 L472.85,190.18 L473.14,190.24 L473.43,190.30 L473.72,190.36 L474.00,190.42 L474.29,190.48 L474.58,190.54 L474.86,190.60 L475.15,190.66 L475.44,190.72 L475.73,190.78 L476.01,190.84 L476.30,190.90 L476.59,190.96 L476.88,191.02 L477.16,191.08 L477.45,191.14 L477.74,191.20 L478.03,191.26 L478.31,191.32 L478.60,191.38 L478.89,191.44 L479.18,191.50 L479.46,191.56 L479.75,191.62 L480.04,191.68 L480.32,191.74 L480.61,191.79 L480.90,191.85 L481.19,191.91 L481.47,191.97 L481.76,192.03 L482.05,192.09 L482.34,192.15 L482.62,192.20 L482.91,192.26 L483.20,192.32 L483.49,192.38 L483.77,192.44 L484.06,192.50 L484.35,192.55 L484.63,192.61 L484.92,192.67 L485.21,192.73 L485.50,192.79 L485.78,192.84 L486.07,192.90 L486.36,192.96 L486.65,193.02 L486.93,193.07 L487.22,193.13 L487.51,193.19 L487.80,193.24 L488.08,193.30 L488.37,193.36 L488.66,193.42 L488.95,193.47 L489.23,193.53 L489.52,193.59 L489.81,193.64 L490.09,193.70 L490.38,193.76 L490.67,193.81 L490.96,193.87 L491.24,193.92 L491.53,193.98 L491.82,194.04 L492.11,194.09 L492.39,194.15 L492.68,194.20 L492.97,194.26 L493.26,194.32 L493.54,194.37 L493.83,194.43 L494.12,194.48 L494.41,194.54 L494.69,194.59 L494.98,194.65 L495.27,194.70 L495.55,194.76 L495.84,194.81 L496.13,194.87 L496.42,194.92 L496.70,194.98 L496.99,195.03 L497.28,195.09 L497.57,195.14 L497.85,195.20 L498.14,195.25 L498.43,195.31 L498.72,195.36 L499.00,195.42 L499.29,195.47 L499.58,195.53 L499.87,195.58 L500.15,195.63 L500.44,195.69 L500.73,195.74 L501.01,195.80 L501.30,195.85 L501.59,195.90 L501.88,195.96 L502.16,196.01 L502.45,196.06 L502.74,196.12 L503.03,196.17 L503.31,196.22 L503.60,196.28 L503.89,196.33 L504.18,196.38 L504.46,196.44 L504.75,196.49 L505.04,196.54 L505.33,196.60 L505.61,196.65 L505.90,196.70 L506.19,196.75 L506.47,196.81 L506.76,196.86 L507.05,196.91 L507.34,196.96 L507.62,197.02 L507.91,197.07 L508.20,197.12 L508.49,197.17 L508.77,197.23 L509.06,197.28 L509.35,197.33 L509.64,197.38 L509.92,197.43 L510.21,197.48 L510.50,197.54 L510.78,197.59 L511.07,197.64 L511.36,197.69 L511.65,197.74 L511.93,197.79 L512.22,197.85 L512.51,197.90 L512.80,197.95 L513.08,198.00 L513.37,198.05 L513.66,198.10 L513.95,198.15 L514.23,198.20 L514.52,198.25 L514.81,198.30 L515.10,198.36 L515.38,198.41 L515.67,198.46 L515.96,198.51 L516.24,198.56 L516.53,198.61 L516.82,198.66 L517.11,198.71 L517.39,198.76 L517.68,198.81 L517.97,198.86 L518.26,198.91 L518.54,198.96 L518.83,199.01 L519.12,199.06 L519.41,199.11 L519.69,199.16 L519.98,199.21 L520.27,199.26 L520.56,199.31 L520.84,199.36 L521.13,199.41 L521.42,199.45 L521.70,199.50 L521.99,199.55 L522.28,199.60 L522.57,199.65 L522.85,199.70 L523.14,199.75 L523.43,199.80 L523.72,199.85 L524.00,199.90 L524.29,199.94 L524.58,199.99 L524.87,200.04 L525.15,200.09 L525.44,200.14 L525.73,200.19 L526.02,200.24 L526.30,200.28 L526.59,200.33 L526.88,200.38 L527.16,200.43 L527.45,200.48 L527.74,200.52 L528.03,200.57 L528.31,200.62 L528.60,200.67 L528.89,200.72 L529.18,200.76 L529.46,200.81 L529.75,200.86 L530.04,200.91 L530.33,200.95 L530.61,201.00 L530.90,201.05 L531.19,201.09 L531.48,201.14 L531.76,201.19 L532.05,201.24 L532.34,201.28 L532.62,201.33 L532.91,201.38 L533.20,201.42 L533.49,201.47 L533.77,201.52 L534.06,201.56 L534.35,201.61 L534.64,201.66 L534.92,201.70 L535.21,201.75 L535.50,201.80 L535.79,201.84 L536.07,201.89 L536.36,201.94 L536.65,201.98 L536.94,202.03 L537.22,202.07 L537.51,202.12 L537.80,202.17 L538.08,202.21 L538.37,202.26 L538.66,202.30 L538.95,202.35 L539.23,202.39 L539.52,202.44 L539.81,202.49 L540.10,202.53 L540.38,202.58 L540.67,202.62 L540.96,202.67 L541.25,202.71 L541.53,202.76 L541.82,202.80 L542.11,202.85 L542.39,202.89 L542.68,202.94 L542.97,202.98 L543.26,203.03 L543.54,203.07 L543.83,203.12 L544.12,203.16 L544.41,203.21 L544.69,203.25 L544.98,203.30 L545.27,203.34 L545.56,203.39 L545.84,203.43 L546.13,203.47 L546.42,203.52 L546.71,203.56 L546.99,203.61 L547.28,203.65 L547.57,203.70 L547.85,203.74 L548.14,203.78 L548.43,203.83 L548.72,203.87 L549.00,203.91 L549.29,203.96 L549.58,204.00 L549.87,204.05 L550.15,204.09 L550.44,204.13 L550.73,204.18 L551.02,204.22 L551.30,204.26 L551.59,204.31 L551.88,204.35 L552.17,204.39 L552.45,204.44 L552.74,204.48 L553.03,204.52 L553.31,204.57 L553.60,204.61 L553.89,204.65 L554.18,204.69 L554.46,204.74 L554.75,204.78 L555.04,204.82 L555.33,204.86 L555.61,204.91 L555.90,204.95 L556.19,204.99 L556.48,205.03 L556.76,205.08 L557.05,205.12 L557.34,205.16 L557.63,205.20 L557.91,205.25 L558.20,205.29 L558.49,205.33 L558.77,205.37 L559.06,205.41 L559.35,205.46 L559.64,205.50 L559.92,205.54 L560.21,205.58 L560.50,205.62 L560.79,205.66 L561.07,205.71 L561.36,205.75 L561.65,205.79 L561.94,205.83 L562.22,205.87 L562.51,205.91 L562.80,205.96 L563.09,206.00 L563.37,206.04 L563.66,206.08 L563.95,206.12 L564.23,206.16 L564.52,206.20 L564.81,206.24 L565.10,206.28 L565.38,206.32 L565.67,206.37 L565.96,206.41 L566.25,206.45 L566.53,206.49 L566.82,206.53 L567.11,206.57 L567.40,206.61 L567.68,206.65 L567.97,206.69 L568.26,206.73 L568.55,206.77 L568.83,206.81 L569.12,206.85 L569.41,206.89 L569.69,206.93 L569.98,206.97 L570.27,207.01 L570.56,207.05 L570.84,207.09 L571.13,207.13 L571.42,207.17 L571.71,207.21 L571.99,207.25 L572.28,207.29 L572.57,207.33 L572.86,207.37 L573.14,207.41 L573.43,207.45 L573.72,207.49 L574.00,207.53 L574.29,207.57 L574.58,207.61 L574.87,207.65 L575.15,207.69 L575.44,207.72 L575.73,207.76 L576.02,207.80 L576.30,207.84 L576.59,207.88 L576.88,207.92 L577.17,207.96 L577.45,208.00 L577.74,208.04 L578.03,208.07 L578.32,208.11 L578.60,208.15 L578.89,208.19 L579.18,208.23 L579.46,208.27 L579.75,208.31 L580.04,208.34 L580.33,208.38 L580.61,208.42 L580.90,208.46 L581.19,208.50 L581.48,208.54 L581.76,208.57 L582.05,208.61 L582.34,208.65 L582.63,208.69 L582.91,208.73 L583.20,208.76 L583.49,208.80 L583.78,208.84 L584.06,208.88 L584.35,208.92" fill="none" stroke="#ff0000" stroke-width="3.6" stroke-dasharray="8 8"/>
<path d="M175.86,358.90 L176.14,356.92 L176.41,354.96 L176.68,353.01 L176.95,351.09 L177.23,349.17 L177.50,347.28 L177.77,345.40 L178.04,343.54 L178.32,341.70 L178.59,339.87 L178.86,338.06 L179.13,336.26 L179.41,334.48 L179.68,332.71 L179.95,330.97 L180.22,329.23 L180.50,327.51 L180.77,325.81 L181.04,324.12 L181.31,322.45 L181.59,320.79 L181.86,319.14 L182.13,317.51 L182.40,315.90 L182.68,314.29 L182.95,312.71 L183.22,311.13 L183.49,309.57 L183.77,308.03 L184.04,306.50 L184.31,304.98 L184.58,303.47 L184.86,301.98 L185.13,300.50 L185.40,299.03 L185.67,297.58 L185.95,296.14 L186.22,294.71 L186.49,293.29 L186.76,291.89 L187.04,290.50 L187.31,289.12 L187.58,287.76 L187.85,286.40 L188.13,285.06 L188.40,283.73 L188.67,282.41 L188.94,281.10 L189.22,279.81 L189.49,278.52 L189.76,277.25 L190.03,275.99 L190.31,274.74 L190.58,273.50 L190.85,272.27 L191.12,271.05 L191.40,269.84 L191.67,268.65 L191.94,267.46 L192.21,266.28 L192.49,265.12 L192.76,263.96 L193.03,262.82 L193.30,261.68 L193.58,260.56 L193.85,259.44 L194.12,258.34 L194.39,257.24 L194.67,256.16 L194.94,255.08 L195.21,254.02 L195.48,252.96 L195.76,251.91 L196.03,250.87 L196.30,249.85 L196.57,248.83 L196.85,247.81 L197.12,246.81 L197.39,245.82 L197.66,244.84 L197.94,243.86 L198.21,242.89 L198.48,241.93 L198.75,240.98 L199.03,240.04 L199.30,239.11 L199.57,238.19 L199.84,237.27 L200.12,236.36 L200.39,235.46 L200.66,234.57 L200.93,233.68 L201.21,232.81 L201.48,231.94 L201.75,231.08 L202.02,230.23 L202.30,229.38 L202.57,228.54 L202.84,227.71 L203.11,226.89 L203.39,226.07 L203.66,225.27 L203.93,224.47 L204.20,223.67 L204.48,222.89 L204.75,222.11 L205.02,221.33 L205.29,220.57 L205.57,219.81 L205.84,219.06 L206.11,218.31 L206.38,217.57 L206.66,216.84 L206.93,216.12 L207.20,215.40 L207.47,214.69 L207.75,213.98 L208.02,213.28 L208.29,212.59 L208.56,211.90 L208.84,211.22 L209.11,210.55 L209.38,209.88 L209.65,209.22 L209.93,208.56 L210.20,207.91 L210.47,207.27 L210.74,206.63 L211.02,206.00 L211.29,205.37 L211.56,204.75 L211.83,204.14 L212.11,203.53 L212.38,202.93 L212.65,202.33 L212.92,201.74 L213.20,201.15 L213.47,200.57 L213.74,199.99 L214.01,199.42 L214.29,198.85 L214.56,198.29 L214.83,197.74 L215.10,197.19 L215.38,196.64 L215.65,196.10 L215.92,195.57 L216.19,195.04 L216.47,194.51 L216.74,193.99 L217.01,193.48 L217.28,192.97 L217.56,192.46 L217.83,191.96 L218.10,191.47 L218.37,190.98 L218.65,190.49 L218.92,190.01 L219.19,189.53 L219.46,189.06 L219.74,188.59 L220.01,188.12 L220.28,187.66 L220.55,187.21 L220.83,186.76 L221.10,186.31 L221.37,185.87 L221.64,185.43 L221.92,185.00 L222.19,184.57 L222.46,184.14 L222.73,183.72 L223.01,183.30 L223.28,182.89 L223.55,182.48 L223.82,182.08 L224.10,181.67 L224.37,181.28 L224.64,180.88 L224.91,180.49 L225.19,180.11 L225.46,179.73 L225.73,179.35 L226.00,178.97 L226.28,178.60 L226.55,178.23 L226.82,177.87 L227.09,177.51 L227.37,177.15 L227.64,176.80 L227.91,176.45 L228.18,176.11 L228.46,175.76 L228.73,175.42 L229.00,175.09 L229.27,174.76 L229.55,174.43 L229.82,174.10 L230.09,173.78 L230.36,173.46 L230.64,173.14 L230.91,172.83 L231.18,172.52 L231.45,172.22 L231.73,171.91 L232.00,171.61 L232.27,171.32 L232.54,171.02 L232.82,170.73 L233.09,170.44 L233.36,170.16 L233.63,169.88 L233.91,169.60 L234.18,169.32 L234.45,169.05 L234.72,168.78 L235.00,168.51 L235.27,168.25 L235.54,167.99 L235.81,167.73 L236.09,167.47 L236.36,167.22 L236.63,166.97 L236.90,166.72 L237.18,166.47 L237.45,166.23 L237.72,165.99 L237.99,165.76 L238.27,165.52 L238.54,165.29 L238.81,165.06 L239.08,164.83 L239.36,164.61 L239.63,164.38 L239.90,164.17 L240.17,163.95 L240.45,163.73 L240.72,163.52 L240.99,163.31 L241.26,163.10 L241.54,162.90 L241.81,162.70 L242.08,162.50 L242.35,162.30 L242.63,162.10 L242.90,161.91 L243.17,161.72 L243.44,161.53 L243.72,161.34 L243.99,161.15 L244.26,160.97 L244.53,160.79 L244.81,160.61 L245.08,160.44 L245.35,160.26 L245.62,160.09 L245.90,159.92 L246.17,159.75 L246.44,159.59 L246.71,159.42 L246.99,159.26 L247.26,159.10 L247.53,158.94 L247.80,158.79 L248.08,158.63 L248.35,158.48 L248.62,158.33 L248.89,158.18 L249.17,158.04 L249.44,157.89 L249.71,157.75 L249.98,157.61 L250.26,157.47 L250.53,157.33 L250.80,157.20 L251.07,157.06 L251.35,156.93 L251.62,156.80 L251.89,156.67 L252.16,156.55 L252.44,156.42 L252.71,156.30 L252.98,156.18 L253.25,156.06 L253.53,155.94 L253.80,155.82 L254.07,155.71 L254.34,155.60 L254.62,155.48 L254.89,155.37 L255.16,155.27 L255.43,155.16 L255.71,155.05 L255.98,154.95 L256.25,154.85 L256.52,154.75 L256.80,154.65 L257.07,154.55 L257.34,154.45 L257.61,154.36 L257.89,154.27 L258.16,154.17 L258.43,154.08 L258.70,153.99 L258.98,153.91 L259.25,153.82 L259.52,153.74 L259.79,153.65 L260.07,153.57 L260.34,153.49 L260.61,153.41 L260.88,153.33 L261.16,153.25 L261.43,153.18 L261.70,153.11 L261.97,153.03 L262.25,152.96 L262.52,152.89 L262.79,152.82 L263.06,152.75 L263.34,152.69 L263.61,152.62 L263.88,152.56 L264.15,152.50 L264.43,152.43 L264.70,152.37 L264.97,152.31 L265.24,152.26 L265.52,152.20 L265.79,152.14 L266.06,152.09 L266.33,152.04 L266.61,151.98 L266.88,151.93 L267.15,151.88 L267.42,151.83 L267.70,151.79 L267.97,151.74 L268.24,151.69 L268.51,151.65 L268.79,151.61 L269.06,151.56 L269.33,151.52 L269.60,151.48 L269.88,151.44 L270.15,151.40 L270.42,151.37 L270.69,151.33 L270.97,151.29 L271.24,151.26 L271.51,151.23 L271.78,151.19 L272.06,151.16 L272.33,151.13 L272.60,151.10 L272.87,151.07 L273.15,151.05 L273.42,151.02 L273.69,150.99 L273.96,150.97 L274.24,150.94 L274.51,150.92 L274.78,150.90 L275.05,150.88 L275.33,150.86 L275.60,150.84 L275.87,150.82 L276.14,150.80 L276.42,150.78 L276.69,150.77 L276.96,150.75 L277.23,150.74 L277.51,150.72 L277.78,150.71 L278.05,150.70 L278.33,150.69 L278.60,150.68 L278.87,150.67 L279.14,150.66 L279.42,150.65 L279.69,150.64 L279.96,150.63 L280.23,150.63 L280.51,150.62 L280.78,150.62 L281.05,150.61 L281.32,150.61 L281.60,150.61 L281.87,150.61 L282.14,150.61 L282.41,150.61 L282.69,150.61 L282.96,150.61 L283.23,150.61 L283.50,150.61 L283.78,150.62 L284.05,150.62 L284.32,150.62 L284.59,150.63 L284.87,150.64 L285.14,150.64 L285.41,150.65 L285.68,150.66 L285.96,150.67 L286.23,150.68 L286.50,150.69 L286.77,150.70 L287.05,150.71 L287.32,150.72 L287.59,150.73 L287.86,150.74 L288.14,150.76 L288.41,150.77 L288.68,150.78 L288.95,150.80 L289.23,150.82 L289.50,150.83 L289.77,150.85 L290.04,150.87 L290.32,150.88 L290.59,150.90 L290.86,150.92 L291.13,150.94 L291.41,150.96 L291.68,150.98 L291.95,151.00 L292.22,151.02 L292.50,151.05 L292.77,151.07 L293.04,151.09 L293.31,151.12 L293.59,151.14 L293.86,151.17 L294.13,151.19 L294.40,151.22 L294.68,151.24 L294.95,151.27 L295.22,151.30 L295.49,151.32 L295.77,151.35 L296.04,151.38 L296.31,151.41 L296.58,151.44 L296.86,151.47 L297.13,151.50 L297.40,151.53 L297.67,151.56 L297.95,151.59 L298.22,151.63 L298.49,151.66 L298.76,151.69 L299.04,151.72 L299.31,151.76 L299.58,151.79 L299.85,151.83 L300.13,151.86 L300.40,151.90 L300.67,151.93 L300.94,151.97 L301.22,152.01 L301.49,152.04 L301.76,152.08 L302.03,152.12 L302.31,152.16 L302.58,152.19 L302.85,152.23 L303.12,152.27 L303.40,152.31 L303.67,152.35 L303.94,152.39 L304.21,152.43 L304.49,152.47 L304.76,152.52 L305.03,152.56 L305.30,152.60 L305.58,152.64 L305.85,152.69 L306.12,152.73 L306.39,152.77 L306.67,152.82 L306.94,152.86 L307.21,152.90 L307.48,152.95 L307.76,152.99 L308.03,153.04 L308.30,153.08 L308.57,153.13 L308.85,153.18 L309.12,153.22 L309.39,153.27 L309.66,153.32 L309.94,153.37 L310.21,153.41 L310.48,153.46 L310.75,153.51 L311.03,153.56 L311.30,153.61 L311.57,153.66 L311.84,153.71 L312.12,153.76 L312.39,153.81 L312.66,153.86 L312.93,153.91 L313.21,153.96 L313.48,154.01 L313.75,154.06 L314.02,154.11 L314.30,154.16 L314.57,154.21 L314.84,154.27 L315.11,154.32 L315.39,154.37 L315.66,154.43 L315.93,154.48 L316.20,154.53 L316.48,154.59 L316.75,154.64 L317.02,154.69 L317.29,154.75 L317.57,154.80 L317.84,154.86 L318.11,154.91 L318.38,154.97 L318.66,155.02 L318.93,155.08 L319.20,155.14 L319.47,155.19 L319.75,155.25 L320.02,155.30 L320.29,155.36 L320.56,155.42 L320.84,155.48 L321.11,155.53 L321.38,155.59 L321.65,155.65 L321.93,155.71 L322.20,155.76 L322.47,155.82 L322.74,155.88 L323.02,155.94 L323.29,156.00 L323.56,156.06 L323.83,156.12 L324.11,156.18 L324.38,156.24 L324.65,156.30 L324.92,156.36 L325.20,156.42 L325.47,156.48 L325.74,156.54 L326.01,156.60 L326.29,156.66 L326.56,156.72 L326.83,156.78 L327.10,156.84 L327.38,156.90 L327.65,156.96 L327.92,157.03 L328.19,157.09 L328.47,157.15 L328.74,157.21 L329.01,157.27 L329.28,157.34 L329.56,157.40 L329.83,157.46 L330.10,157.52 L330.37,157.59 L330.65,157.65 L330.92,157.71 L331.19,157.78 L331.46,157.84 L331.74,157.90 L332.01,157.97 L332.28,158.03 L332.55,158.10 L332.83,158.16 L333.10,158.22 L333.37,158.29 L333.64,158.35 L333.92,158.42 L334.19,158.48 L334.46,158.55 L334.73,158.61 L335.01,158.68 L335.28,158.74 L335.55,158.81 L335.82,158.87 L336.10,158.94 L336.37,159.00 L336.64,159.07 L336.91,159.14 L337.19,159.20 L337.46,159.27 L337.73,159.33 L338.00,159.40 L338.28,159.47 L338.55,159.53 L338.82,159.60 L339.09,159.67 L339.37,159.73 L339.64,159.80 L339.91,159.87 L340.18,159.93 L340.46,160.00 L340.73,160.07 L341.00,160.13 L341.27,160.20 L341.55,160.27 L341.82,160.34 L342.09,160.40 L342.36,160.47 L342.64,160.54 L342.91,160.61 L343.18,160.67 L343.45,160.74 L343.73,160.81 L344.00,160.88 L344.27,160.95 L344.54,161.01 L344.82,161.08 L345.09,161.15 L345.36,161.22 L345.63,161.29 L345.91,161.35 L346.18,161.42 L346.45,161.49 L346.72,161.56 L347.00,161.63 L347.27,161.70 L347.54,161.77 L347.81,161.84 L348.09,161.90 L348.36,161.97 L348.63,162.04 L348.90,162.11 L349.18,162.18 L349.45,162.25 L349.72,162.32 L349.99,162.39 L350.27,162.46 L350.54,162.53 L350.81,162.60 L351.08,162.67 L351.36,162.74 L351.63,162.80 L351.90,162.87 L352.17,162.94 L352.45,163.01 L352.72,163.08 L352.99,163.15 L353.26,163.22 L353.54,163.29 L353.81,163.36 L354.08,163.43 L354.35,163.50 L354.63,163.57 L354.90,163.64 L355.17,163.71 L355.44,163.78 L355.72,163.85 L355.99,163.92 L356.26,163.99 L356.53,164.06 L356.81,164.13 L357.08,164.20 L357.35,164.27 L357.62,164.34 L357.90,164.41 L358.17,164.48 L358.44,164.55 L358.71,164.63 L358.99,164.70 L359.26,164.77 L359.53,164.84 L359.80,164.91 L360.08,164.98 L360.35,165.05 L360.62,165.12 L360.89,165.19 L361.17,165.26 L361.44,165.33 L361.71,165.40 L361.98,165.47 L362.26,165.54 L362.53,165.61 L362.80,165.68 L363.07,165.75 L363.35,165.82 L363.62,165.89 L363.89,165.97 L364.16,166.04 L364.44,166.11 L364.71,166.18 L364.98,166.25 L365.25,166.32 L365.53,166.39 L365.80,166.46 L366.07,166.53 L366.34,166.60 L366.62,166.67 L366.89,166.74 L367.16,166.81 L367.43,166.88 L367.71,166.96 L367.98,167.03 L368.25,167.10 L368.52,167.17 L368.80,167.24 L369.07,167.31 L369.34,167.38 L369.61,167.45 L369.89,167.52 L370.16,167.59 L370.43,167.66 L370.70,167.73 L370.98,167.80 L371.25,167.87 L371.52,167.95 L371.79,168.02 L372.07,168.09 L372.34,168.16 L372.61,168.23 L372.88,168.30 L373.16,168.37 L373.43,168.44 L373.70,168.51 L373.97,168.58 L374.25,168.65 L374.52,168.72 L374.79,168.79 L375.06,168.86 L375.34,168.93 L375.61,169.00 L375.88,169.07 L376.15,169.15 L376.43,169.22 L376.70,169.29 L376.97,169.36 L377.24,169.43 L377.52,169.50 L377.79,169.57 L378.06,169.64 L378.33,169.71 L378.61,169.78 L378.88,169.85 L379.15,169.92 L379.42,169.99 L379.70,170.06 L379.97,170.13 L380.24,170.20 L380.52,170.27 L380.79,170.34 L381.06,170.41 L381.33,170.48 L381.61,170.55 L381.88,170.62 L382.15,170.69 L382.42,170.76 L382.70,170.83 L382.97,170.90 L383.24,170.97 L383.51,171.04 L383.79,171.11 L384.06,171.18 L384.33,171.25 L384.60,171.32 L384.88,171.39 L385.15,171.46 L385.42,171.53 L385.69,171.60 L385.97,171.67 L386.24,171.74 L386.51,171.81 L386.78,171.88 L387.06,171.95 L387.33,172.02 L387.60,172.09 L387.87,172.16 L388.15,172.23 L388.42,172.30 L388.69,172.37 L388.96,172.44 L389.24,172.51 L389.51,172.57 L389.78,172.64 L390.05,172.71 L390.33,172.78 L390.60,172.85 L390.87,172.92 L391.14,172.99 L391.42,173.06 L391.69,173.13 L391.96,173.20 L392.23,173.27 L392.51,173.34 L392.78,173.40 L393.05,173.47 L393.32,173.54 L393.60,173.61 L393.87,173.68 L394.14,173.75 L394.41,173.82 L394.69,173.89 L394.96,173.95 L395.23,174.02 L395.50,174.09 L395.78,174.16 L396.05,174.23 L396.32,174.30 L396.59,174.37 L396.87,174.43 L397.14,174.50 L397.41,174.57 L397.68,174.64 L397.96,174.71 L398.23,174.78 L398.50,174.84 L398.77,174.91 L399.05,174.98 L399.32,175.05 L399.59,175.12 L399.86,175.18 L400.14,175.25 L400.41,175.32 L400.68,175.39 L400.95,175.46 L401.23,175.52 L401.50,175.59 L401.77,175.66 L402.04,175.73 L402.32,175.79 L402.59,175.86 L402.86,175.93 L403.13,176.00 L403.41,176.06 L403.68,176.13 L403.95,176.20 L404.22,176.27 L404.50,176.33 L404.77,176.40 L405.04,176.47 L405.31,176.53 L405.59,176.60 L405.86,176.67 L406.13,176.74 L406.40,176.80 L406.68,176.87 L406.95,176.94 L407.22,177.00 L407.49,177.07 L407.77,177.14 L408.04,177.20 L408.31,177.27 L408.58,177.34 L408.86,177.40 L409.13,177.47 L409.40,177.54 L409.67,177.60 L409.95,177.67 L410.22,177.73 L410.49,177.80 L410.76,177.87 L411.04,177.93 L411.31,178.00 L411.58,178.07 L411.85,178.13 L412.13,178.20 L412.40,178.26 L412.67,178.33 L412.94,178.39 L413.22,178.46 L413.49,178.53 L413.76,178.59 L414.03,178.66 L414.31,178.72 L414.58,178.79 L414.85,178.85 L415.12,178.92 L415.40,178.98 L415.67,179.05 L415.94,179.12 L416.21,179.18 L416.49,179.25 L416.76,179.31 L417.03,179.38 L417.30,179.44 L417.58,179.51 L417.85,179.57 L418.12,179.64 L418.39,179.70 L418.67,179.76 L418.94,179.83 L419.21,179.89 L419.48,179.96 L419.76,180.02 L420.03,180.09 L420.30,180.15 L420.57,180.22 L420.85,180.28 L421.12,180.35 L421.39,180.41 L421.66,180.47 L421.94,180.54 L422.21,180.60 L422.48,180.67 L422.75,180.73 L423.03,180.79 L423.30,180.86 L423.57,180.92 L423.84,180.99 L424.12,181.05 L424.39,181.11 L424.66,181.18 L424.93,181.24 L425.21,181.30 L425.48,181.37 L425.75,181.43 L426.02,181.49 L426.30,181.56 L426.57,181.62 L426.84,181.68 L427.11,181.75 L427.39,181.81 L427.66,181.87 L427.93,181.94 L428.20,182.00 L428.48,182.06 L428.75,182.12 L429.02,182.19 L429.29,182.25 L429.57,182.31 L429.84,182.37 L430.11,182.44 L430.38,182.50 L430.66,182.56 L430.93,182.62 L431.20,182.69 L431.47,182.75 L431.75,182.81 L432.02,182.87 L432.29,182.94 L432.56,183.00 L432.84,183.06 L433.11,183.12 L433.38,183.18 L433.65,183.24 L433.93,183.31 L434.20,183.37 L434.47,183.43 L434.74,183.49 L435.02,183.55 L435.29,183.61 L435.56,183.68 L435.83,183.74 L436.11,183.80 L436.38,183.86 L436.65,183.92 L436.92,183.98 L437.20,184.04 L437.47,184.10 L437.74,184.17 L438.01,184.23 L438.29,184.29 L438.56,184.35 L438.83,184.41 L439.10,184.47 L439.38,184.53 L439.65,184.59 L439.92,184.65 L440.19,184.71 L440.47,184.77 L440.74,184.83 L441.01,184.89 L441.28,184.95 L441.56,185.01 L441.83,185.07 L442.10,185.13 L442.37,185.19 L442.65,185.25 L442.92,185.31 L443.19,185.37 L443.46,185.43 L443.74,185.49 L444.01,185.55 L444.28,185.61 L444.55,185.67 L444.83,185.73 L445.10,185.79 L445.37,185.85 L445.64,185.91 L445.92,185.97 L446.19,186.03 L446.46,186.09 L446.73,186.15 L447.01,186.21 L447.28,186.26 L447.55,186.32 L447.82,186.38 L448.10,186.44 L448.37,186.50 L448.64,186.56 L448.91,186.62 L449.19,186.68 L449.46,186.74 L449.73,186.79 L450.00,186.85 L450.28,186.91 L450.55,186.97 L450.82,187.03 L451.09,187.09 L451.37,187.14 L451.64,187.20 L451.91,187.26 L452.18,187.32 L452.46,187.38 L452.73,187.43 L453.00,187.49 L453.27,187.55 L453.55,187.61 L453.82,187.66 L454.09,187.72 L454.36,187.78 L454.64,187.84 L454.91,187.89 L455.18,187.95 L455.45,188.01 L455.73,188.07 L456.00,188.12 L456.27,188.18 L456.54,188.24 L456.82,188.30 L457.09,188.35 L457.36,188.41 L457.63,188.47 L457.91,188.52 L458.18,188.58 L458.45,188.64 L458.72,188.69 L459.00,188.75 L459.27,188.81 L459.54,188.86 L459.81,188.92 L460.09,188.98 L460.36,189.03 L460.63,189.09 L460.90,189.14 L461.18,189.20 L461.45,189.26 L461.72,189.31 L461.99,189.37 L462.27,189.42 L462.54,189.48 L462.81,189.54 L463.08,189.59 L463.36,189.65 L463.63,189.70 L463.90,189.76 L464.17,189.81 L464.45,189.87 L464.72,189.93 L464.99,189.98 L465.26,190.04 L465.54,190.09 L465.81,190.15 L466.08,190.20 L466.35,190.26 L466.63,190.31 L466.90,190.37 L467.17,190.42 L467.44,190.48 L467.72,190.53 L467.99,190.59 L468.26,190.64 L468.53,190.70 L468.81,190.75 L469.08,190.81 L469.35,190.86 L469.62,190.91 L469.90,190.97 L470.17,191.02 L470.44,191.08 L470.71,191.13 L470.99,191.19 L471.26,191.24 L471.53,191.29 L471.80,191.35 L472.08,191.40 L472.35,191.46 L472.62,191.51 L472.89,191.56 L473.17,191.62 L473.44,191.67 L473.71,191.72 L473.98,191.78 L474.26,191.83 L474.53,191.88 L474.80,191.94 L475.07,191.99 L475.35,192.04 L475.62,192.10 L475.89,192.15 L476.16,192.20 L476.44,192.26 L476.71,192.31 L476.98,192.36 L477.25,192.42 L477.53,192.47 L477.80,192.52 L478.07,192.57 L478.34,192.63 L478.62,192.68 L478.89,192.73 L479.16,192.78 L479.43,192.84 L479.71,192.89 L479.98,192.94 L480.25,192.99 L480.52,193.05 L480.80,193.10 L481.07,193.15 L481.34,193.20 L481.61,193.25 L481.89,193.31 L482.16,193.36 L482.43,193.41 L482.71,193.46 L482.98,193.51 L483.25,193.57 L483.52,193.62 L483.80,193.67 L484.07,193.72 L484.34,193.77 L484.61,193.82 L484.89,193.87 L485.16,193.93 L485.43,193.98 L485.70,194.03 L485.98,194.08 L486.25,194.13 L486.52,194.18 L486.79,194.23 L487.07,194.28 L487.34,194.33 L487.61,194.38 L487.88,194.44 L488.16,194.49 L488.43,194.54 L488.70,194.59 L488.97,194.64 L489.25,194.69 L489.52,194.74 L489.79,194.79 L490.06,194.84 L490.34,194.89 L490.61,194.94 L490.88,194.99 L491.15,195.04 L491.43,195.09 L491.70,195.14 L491.97,195.19 L492.24,195.24 L492.52,195.29 L492.79,195.34 L493.06,195.39 L493.33,195.44 L493.61,195.49 L493.88,195.54 L494.15,195.59 L494.42,195.64 L494.70,195.69 L494.97,195.74 L495.24,195.79 L495.51,195.84 L495.79,195.88 L496.06,195.93 L496.33,195.98 L496.60,196.03 L496.88,196.08 L497.15,196.13 L497.42,196.18 L497.69,196.23 L497.97,196.28 L498.24,196.33 L498.51,196.37 L498.78,196.42 L499.06,196.47 L499.33,196.52 L499.60,196.57 L499.87,196.62 L500.15,196.66 L500.42,196.71 L500.69,196.76 L500.96,196.81 L501.24,196.86 L501.51,196.91 L501.78,196.95 L502.05,197.00 L502.33,197.05 L502.60,197.10 L502.87,197.15 L503.14,197.19 L503.42,197.24 L503.69,197.29 L503.96,197.34 L504.23,197.38 L504.51,197.43 L504.78,197.48 L505.05,197.53 L505.32,197.57 L505.60,197.62 L505.87,197.67 L506.14,197.72 L506.41,197.76 L506.69,197.81 L506.96,197.86 L507.23,197.91 L507.50,197.95 L507.78,198.00 L508.05,198.05 L508.32,198.09 L508.59,198.14 L508.87,198.19 L509.14,198.23 L509.41,198.28 L509.68,198.33 L509.96,198.37 L510.23,198.42 L510.50,198.47 L510.77,198.51 L511.05,198.56 L511.32,198.61 L511.59,198.65 L511.86,198.70 L512.14,198.74 L512.41,198.79 L512.68,198.84 L512.95,198.88 L513.23,198.93 L513.50,198.97 L513.77,199.02 L514.04,199.07 L514.32,199.11 L514.59,199.16 L514.86,199.20 L515.13,199.25 L515.41,199.29 L515.68,199.34 L515.95,199.38 L516.22,199.43 L516.50,199.48 L516.77,199.52 L517.04,199.57 L517.31,199.61 L517.59,199.66 L517.86,199.70 L518.13,199.75 L518.40,199.79 L518.68,199.84 L518.95,199.88 L519.22,199.93 L519.49,199.97 L519.77,200.02 L520.04,200.06 L520.31,200.11 L520.58,200.15 L520.86,200.20 L521.13,200.24 L521.40,200.28 L521.67,200.33 L521.95,200.37 L522.22,200.42 L522.49,200.46 L522.76,200.51 L523.04,200.55 L523.31,200.59 L523.58,200.64 L523.85,200.68 L524.13,200.73 L524.40,200.77 L524.67,200.81 L524.94,200.86 L525.22,200.90 L525.49,200.95 L525.76,200.99 L526.03,201.03 L526.31,201.08 L526.58,201.12 L526.85,201.16 L527.12,201.21 L527.40,201.25 L527.67,201.29 L527.94,201.34 L528.21,201.38 L528.49,201.42 L528.76,201.47 L529.03,201.51 L529.30,201.55 L529.58,201.60 L529.85,201.64 L530.12,201.68 L530.39,201.73 L530.67,201.77 L530.94,201.81 L531.21,201.85 L531.48,201.90 L531.76,201.94 L532.03,201.98 L532.30,202.03 L532.57,202.07 L532.85,202.11 L533.12,202.15 L533.39,202.20 L533.66,202.24 L533.94,202.28 L534.21,202.32 L534.48,202.36 L534.75,202.41 L535.03,202.45 L535.30,202.49 L535.57,202.53 L535.84,202.57 L536.12,202.62 L536.39,202.66 L536.66,202.70 L536.93,202.74 L537.21,202.78 L537.48,202.83 L537.75,202.87 L538.02,202.91 L538.30,202.95 L538.57,202.99 L538.84,203.03 L539.11,203.08 L539.39,203.12 L539.66,203.16 L539.93,203.20 L540.20,203.24 L540.48,203.28 L540.75,203.32 L541.02,203.36 L541.29,203.41 L541.57,203.45 L541.84,203.49 L542.11,203.53 L542.38,203.57 L542.66,203.61 L542.93,203.65 L543.20,203.69 L543.47,203.73 L543.75,203.77 L544.02,203.81 L544.29,203.86 L544.56,203.90 L544.84,203.94 L545.11,203.98 L545.38,204.02 L545.65,204.06 L545.93,204.10 L546.20,204.14 L546.47,204.18 L546.74,204.22 L547.02,204.26 L547.29,204.30 L547.56,204.34 L547.83,204.38 L548.11,204.42 L548.38,204.46 L548.65,204.50 L548.92,204.54 L549.20,204.58 L549.47,204.62 L549.74,204.66 L550.01,204.70 L550.29,204.74 L550.56,204.78 L550.83,204.82 L551.10,204.86 L551.38,204.90 L551.65,204.94 L551.92,204.98 L552.19,205.01 L552.47,205.05 L552.74,205.09 L553.01,205.13 L553.28,205.17 L553.56,205.21 L553.83,205.25 L554.10,205.29 L554.37,205.33 L554.65,205.37 L554.92,205.41 L555.19,205.44 L555.46,205.48 L555.74,205.52 L556.01,205.56 L556.28,205.60 L556.55,205.64 L556.83,205.68 L557.10,205.72 L557.37,205.75 L557.64,205.79 L557.92,205.83 L558.19,205.87 L558.46,205.91 L558.73,205.95 L559.01,205.99 L559.28,206.02 L559.55,206.06 L559.82,206.10 L560.10,206.14 L560.37,206.18 L560.64,206.21 L560.91,206.25 L561.19,206.29 L561.46,206.33 L561.73,206.37 L562.00,206.40 L562.28,206.44 L562.55,206.48 L562.82,206.52 L563.09,206.55 L563.37,206.59 L563.64,206.63 L563.91,206.67 L564.18,206.71 L564.46,206.74 L564.73,206.78 L565.00,206.82 L565.27,206.86 L565.55,206.89 L565.82,206.93 L566.09,206.97 L566.36,207.00 L566.64,207.04 L566.91,207.08 L567.18,207.12 L567.45,207.15 L567.73,207.19 L568.00,207.23 L568.27,207.26 L568.54,207.30 L568.82,207.34 L569.09,207.37 L569.36,207.41 L569.63,207.45 L569.91,207.48 L570.18,207.52 L570.45,207.56 L570.72,207.59 L571.00,207.63 L571.27,207.67 L571.54,207.70 L571.81,207.74 L572.09,207.78 L572.36,207.81 L572.63,207.85 L572.90,207.89 L573.18,207.92 L573.45,207.96 L573.72,207.99 L573.99,208.03 L574.27,208.07 L574.54,208.10 L574.81,208.14 L575.08,208.17 L575.36,208.21 L575.63,208.25 L575.90,208.28 L576.17,208.32 L576.45,208.35 L576.72,208.39 L576.99,208.43 L577.26,208.46 L577.54,208.50 L577.81,208.53 L578.08,208.57 L578.35,208.60 L578.63,208.64 L578.90,208.67 L579.17,208.71 L579.44,208.74 L579.72,208.78 L579.99,208.82 L580.26,208.85 L580.53,208.89 L580.81,208.92 L581.08,208.96 L581.35,208.99 L581.62,209.03 L581.90,209.06 L582.17,209.10 L582.44,209.13 L582.71,209.17 L582.99,209.20 L583.26,209.24 L583.53,209.27 L583.80,209.31 L584.08,209.34 L584.35,209.37" fill="none" stroke="#996633" stroke-width="3.6" stroke-dasharray="2 8 8 8"/>
<path d="M192.71,358.90 L192.97,357.26 L193.23,355.63 L193.49,354.02 L193.76,352.42 L194.02,350.83 L194.28,349.25 L194.54,347.68 L194.80,346.13 L195.06,344.59 L195.32,343.06 L195.58,341.55 L195.85,340.04 L196.11,338.55 L196.37,337.07 L196.63,335.60 L196.89,334.15 L197.15,332.70 L197.41,331.26 L197.67,329.84 L197.94,328.43 L198.20,327.03 L198.46,325.64 L198.72,324.26 L198.98,322.89 L199.24,321.53 L199.50,320.19 L199.77,318.85 L200.03,317.52 L200.29,316.21 L200.55,314.90 L200.81,313.61 L201.07,312.32 L201.33,311.05 L201.59,309.78 L201.86,308.53 L202.12,307.28 L202.38,306.05 L202.64,304.82 L202.90,303.61 L203.16,302.40 L203.42,301.20 L203.68,300.02 L203.95,298.84 L204.21,297.67 L204.47,296.51 L204.73,295.36 L204.99,294.22 L205.25,293.09 L205.51,291.96 L205.77,290.85 L206.04,289.74 L206.30,288.64 L206.56,287.55 L206.82,286.47 L207.08,285.40 L207.34,284.34 L207.60,283.28 L207.86,282.24 L208.13,281.20 L208.39,280.17 L208.65,279.14 L208.91,278.13 L209.17,277.12 L209.43,276.12 L209.69,275.13 L209.95,274.15 L210.22,273.18 L210.48,272.21 L210.74,271.25 L211.00,270.30 L211.26,269.35 L211.52,268.41 L211.78,267.48 L212.04,266.56 L212.31,265.64 L212.57,264.74 L212.83,263.84 L213.09,262.94 L213.35,262.05 L213.61,261.17 L213.87,260.30 L214.13,259.43 L214.40,258.58 L214.66,257.72 L214.92,256.88 L215.18,256.04 L215.44,255.21 L215.70,254.38 L215.96,253.56 L216.22,252.75 L216.49,251.94 L216.75,251.14 L217.01,250.35 L217.27,249.56 L217.53,248.78 L217.79,248.00 L218.05,247.23 L218.32,246.47 L218.58,245.71 L218.84,244.96 L219.10,244.22 L219.36,243.48 L219.62,242.75 L219.88,242.02 L220.14,241.30 L220.41,240.58 L220.67,239.87 L220.93,239.17 L221.19,238.47 L221.45,237.77 L221.71,237.09 L221.97,236.40 L222.23,235.73 L222.50,235.05 L222.76,234.39 L223.02,233.73 L223.28,233.07 L223.54,232.42 L223.80,231.78 L224.06,231.14 L224.32,230.50 L224.59,229.87 L224.85,229.25 L225.11,228.63 L225.37,228.01 L225.63,227.40 L225.89,226.80 L226.15,226.20 L226.41,225.60 L226.68,225.01 L226.94,224.43 L227.20,223.85 L227.46,223.27 L227.72,222.70 L227.98,222.13 L228.24,221.57 L228.50,221.01 L228.77,220.46 L229.03,219.91 L229.29,219.36 L229.55,218.82 L229.81,218.29 L230.07,217.76 L230.33,217.23 L230.59,216.71 L230.86,216.19 L231.12,215.67 L231.38,215.16 L231.64,214.66 L231.90,214.16 L232.16,213.66 L232.42,213.16 L232.68,212.67 L232.95,212.19 L233.21,211.71 L233.47,211.23 L233.73,210.76 L233.99,210.29 L234.25,209.82 L234.51,209.36 L234.77,208.90 L235.04,208.44 L235.30,207.99 L235.56,207.55 L235.82,207.10 L236.08,206.66 L236.34,206.23 L236.60,205.79 L236.87,205.36 L237.13,204.94 L237.39,204.52 L237.65,204.10 L237.91,203.68 L238.17,203.27 L238.43,202.86 L238.69,202.46 L238.96,202.06 L239.22,201.66 L239.48,201.27 L239.74,200.87 L240.00,200.49 L240.26,200.10 L240.52,199.72 L240.78,199.34 L241.05,198.97 L241.31,198.60 L241.57,198.23 L241.83,197.86 L242.09,197.50 L242.35,197.14 L242.61,196.78 L242.87,196.43 L243.14,196.08 L243.40,195.73 L243.66,195.39 L243.92,195.05 L244.18,194.71 L244.44,194.37 L244.70,194.04 L244.96,193.71 L245.23,193.38 L245.49,193.06 L245.75,192.74 L246.01,192.42 L246.27,192.10 L246.53,191.79 L246.79,191.48 L247.05,191.17 L247.32,190.86 L247.58,190.56 L247.84,190.26 L248.10,189.97 L248.36,189.67 L248.62,189.38 L248.88,189.09 L249.14,188.80 L249.41,188.52 L249.67,188.24 L249.93,187.96 L250.19,187.68 L250.45,187.41 L250.71,187.13 L250.97,186.86 L251.23,186.60 L251.50,186.33 L251.76,186.07 L252.02,185.81 L252.28,185.55 L252.54,185.30 L252.80,185.04 L253.06,184.79 L253.32,184.54 L253.59,184.30 L253.85,184.05 L254.11,183.81 L254.37,183.57 L254.63,183.33 L254.89,183.10 L255.15,182.87 L255.41,182.64 L255.68,182.41 L255.94,182.18 L256.20,181.96 L256.46,181.73 L256.72,181.51 L256.98,181.29 L257.24,181.08 L257.51,180.86 L257.77,180.65 L258.03,180.44 L258.29,180.23 L258.55,180.03 L258.81,179.82 L259.07,179.62 L259.33,179.42 L259.60,179.22 L259.86,179.02 L260.12,178.83 L260.38,178.63 L260.64,178.44 L260.90,178.25 L261.16,178.07 L261.42,177.88 L261.69,177.70 L261.95,177.52 L262.21,177.33 L262.47,177.16 L262.73,176.98 L262.99,176.80 L263.25,176.63 L263.51,176.46 L263.78,176.29 L264.04,176.12 L264.30,175.95 L264.56,175.79 L264.82,175.63 L265.08,175.47 L265.34,175.31 L265.60,175.15 L265.87,174.99 L266.13,174.84 L266.39,174.68 L266.65,174.53 L266.91,174.38 L267.17,174.23 L267.43,174.08 L267.69,173.94 L267.96,173.79 L268.22,173.65 L268.48,173.51 L268.74,173.37 L269.00,173.23 L269.26,173.09 L269.52,172.96 L269.78,172.83 L270.05,172.69 L270.31,172.56 L270.57,172.43 L270.83,172.30 L271.09,172.18 L271.35,172.05 L271.61,171.93 L271.87,171.81 L272.14,171.68 L272.40,171.56 L272.66,171.45 L272.92,171.33 L273.18,171.21 L273.44,171.10 L273.70,170.98 L273.96,170.87 L274.23,170.76 L274.49,170.65 L274.75,170.54 L275.01,170.44 L275.27,170.33 L275.53,170.23 L275.79,170.12 L276.06,170.02 L276.32,169.92 L276.58,169.82 L276.84,169.72 L277.10,169.62 L277.36,169.53 L277.62,169.43 L277.88,169.34 L278.15,169.25 L278.41,169.16 L278.67,169.07 L278.93,168.98 L279.19,168.89 L279.45,168.80 L279.71,168.72 L279.97,168.63 L280.24,168.55 L280.50,168.46 L280.76,168.38 L281.02,168.30 L281.28,168.22 L281.54,168.14 L281.80,168.07 L282.06,167.99 L282.33,167.92 L282.59,167.84 L282.85,167.77 L283.11,167.70 L283.37,167.62 L283.63,167.55 L283.89,167.49 L284.15,167.42 L284.42,167.35 L284.68,167.28 L284.94,167.22 L285.20,167.15 L285.46,167.09 L285.72,167.03 L285.98,166.97 L286.24,166.91 L286.51,166.85 L286.77,166.79 L287.03,166.73 L287.29,166.67 L287.55,166.62 L287.81,166.56 L288.07,166.51 L288.33,166.45 L288.60,166.40 L288.86,166.35 L289.12,166.30 L289.38,166.25 L289.64,166.20 L289.90,166.15 L290.16,166.10 L290.42,166.05 L290.69,166.01 L290.95,165.96 L291.21,165.92 L291.47,165.88 L291.73,165.83 L291.99,165.79 L292.25,165.75 L292.51,165.71 L292.78,165.67 L293.04,165.63 L293.30,165.59 L293.56,165.56 L293.82,165.52 L294.08,165.48 L294.34,165.45 L294.61,165.41 L294.87,165.38 L295.13,165.35 L295.39,165.32 L295.65,165.28 L295.91,165.25 L296.17,165.22 L296.43,165.19 L296.70,165.17 L296.96,165.14 L297.22,165.11 L297.48,165.08 L297.74,165.06 L298.00,165.03 L298.26,165.01 L298.52,164.98 L298.79,164.96 L299.05,164.94 L299.31,164.92 L299.57,164.89 L299.83,164.87 L300.09,164.85 L300.35,164.83 L300.61,164.82 L300.88,164.80 L301.14,164.78 L301.40,164.76 L301.66,164.75 L301.92,164.73 L302.18,164.72 L302.44,164.70 L302.70,164.69 L302.97,164.67 L303.23,164.66 L303.49,164.65 L303.75,164.64 L304.01,164.63 L304.27,164.62 L304.53,164.61 L304.79,164.60 L305.06,164.59 L305.32,164.58 L305.58,164.57 L305.84,164.56 L306.10,164.56 L306.36,164.55 L306.62,164.55 L306.88,164.54 L307.15,164.54 L307.41,164.53 L307.67,164.53 L307.93,164.52 L308.19,164.52 L308.45,164.52 L308.71,164.52 L308.97,164.52 L309.24,164.52 L309.50,164.52 L309.76,164.52 L310.02,164.52 L310.28,164.52 L310.54,164.52 L310.80,164.52 L311.06,164.53 L311.33,164.53 L311.59,164.53 L311.85,164.54 L312.11,164.54 L312.37,164.55 L312.63,164.55 L312.89,164.56 L313.15,164.56 L313.42,164.57 L313.68,164.58 L313.94,164.59 L314.20,164.59 L314.46,164.60 L314.72,164.61 L314.98,164.62 L315.25,164.63 L315.51,164.64 L315.77,164.65 L316.03,164.66 L316.29,164.67 L316.55,164.68 L316.81,164.70 L317.07,164.71 L317.34,164.72 L317.60,164.74 L317.86,164.75 L318.12,164.76 L318.38,164.78 L318.64,164.79 L318.90,164.81 L319.16,164.82 L319.43,164.84 L319.69,164.86 L319.95,164.87 L320.21,164.89 L320.47,164.91 L320.73,164.92 L320.99,164.94 L321.25,164.96 L321.52,164.98 L321.78,165.00 L322.04,165.02 L322.30,165.04 L322.56,165.06 L322.82,165.08 L323.08,165.10 L323.34,165.12 L323.61,165.14 L323.87,165.16 L324.13,165.19 L324.39,165.21 L324.65,165.23 L324.91,165.25 L325.17,165.28 L325.43,165.30 L325.70,165.32 L325.96,165.35 L326.22,165.37 L326.48,165.40 L326.74,165.42 L327.00,165.45 L327.26,165.47 L327.52,165.50 L327.79,165.53 L328.05,165.55 L328.31,165.58 L328.57,165.61 L328.83,165.63 L329.09,165.66 L329.35,165.69 L329.61,165.72 L329.88,165.75 L330.14,165.78 L330.40,165.80 L330.66,165.83 L330.92,165.86 L331.18,165.89 L331.44,165.92 L331.70,165.95 L331.97,165.98 L332.23,166.01 L332.49,166.05 L332.75,166.08 L333.01,166.11 L333.27,166.14 L333.53,166.17 L333.80,166.20 L334.06,166.24 L334.32,166.27 L334.58,166.30 L334.84,166.34 L335.10,166.37 L335.36,166.40 L335.62,166.44 L335.89,166.47 L336.15,166.51 L336.41,166.54 L336.67,166.57 L336.93,166.61 L337.19,166.64 L337.45,166.68 L337.71,166.72 L337.98,166.75 L338.24,166.79 L338.50,166.82 L338.76,166.86 L339.02,166.90 L339.28,166.93 L339.54,166.97 L339.80,167.01 L340.07,167.05 L340.33,167.08 L340.59,167.12 L340.85,167.16 L341.11,167.20 L341.37,167.24 L341.63,167.27 L341.89,167.31 L342.16,167.35 L342.42,167.39 L342.68,167.43 L342.94,167.47 L343.20,167.51 L343.46,167.55 L343.72,167.59 L343.98,167.63 L344.25,167.67 L344.51,167.71 L344.77,167.75 L345.03,167.79 L345.29,167.83 L345.55,167.87 L345.81,167.92 L346.07,167.96 L346.34,168.00 L346.60,168.04 L346.86,168.08 L347.12,168.12 L347.38,168.17 L347.64,168.21 L347.90,168.25 L348.16,168.30 L348.43,168.34 L348.69,168.38 L348.95,168.42 L349.21,168.47 L349.47,168.51 L349.73,168.55 L349.99,168.60 L350.25,168.64 L350.52,168.69 L350.78,168.73 L351.04,168.77 L351.30,168.82 L351.56,168.86 L351.82,168.91 L352.08,168.95 L352.34,169.00 L352.61,169.04 L352.87,169.09 L353.13,169.13 L353.39,169.18 L353.65,169.23 L353.91,169.27 L354.17,169.32 L354.44,169.36 L354.70,169.41 L354.96,169.46 L355.22,169.50 L355.48,169.55 L355.74,169.59 L356.00,169.64 L356.26,169.69 L356.53,169.73 L356.79,169.78 L357.05,169.83 L357.31,169.88 L357.57,169.92 L357.83,169.97 L358.09,170.02 L358.35,170.07 L358.62,170.11 L358.88,170.16 L359.14,170.21 L359.40,170.26 L359.66,170.31 L359.92,170.35 L360.18,170.40 L360.44,170.45 L360.71,170.50 L360.97,170.55 L361.23,170.60 L361.49,170.65 L361.75,170.69 L362.01,170.74 L362.27,170.79 L362.53,170.84 L362.80,170.89 L363.06,170.94 L363.32,170.99 L363.58,171.04 L363.84,171.09 L364.10,171.14 L364.36,171.19 L364.62,171.24 L364.89,171.29 L365.15,171.34 L365.41,171.39 L365.67,171.44 L365.93,171.49 L366.19,171.54 L366.45,171.59 L366.71,171.64 L366.98,171.69 L367.24,171.74 L367.50,171.79 L367.76,171.84 L368.02,171.89 L368.28,171.94 L368.54,171.99 L368.80,172.05 L369.07,172.10 L369.33,172.15 L369.59,172.20 L369.85,172.25 L370.11,172.30 L370.37,172.35 L370.63,172.40 L370.89,172.46 L371.16,172.51 L371.42,172.56 L371.68,172.61 L371.94,172.66 L372.20,172.71 L372.46,172.77 L372.72,172.82 L372.99,172.87 L373.25,172.92 L373.51,172.97 L373.77,173.03 L374.03,173.08 L374.29,173.13 L374.55,173.18 L374.81,173.24 L375.08,173.29 L375.34,173.34 L375.60,173.39 L375.86,173.45 L376.12,173.50 L376.38,173.55 L376.64,173.60 L376.90,173.66 L377.17,173.71 L377.43,173.76 L377.69,173.82 L377.95,173.87 L378.21,173.92 L378.47,173.97 L378.73,174.03 L378.99,174.08 L379.26,174.13 L379.52,174.19 L379.78,174.24 L380.04,174.29 L380.30,174.35 L380.56,174.40 L380.82,174.45 L381.08,174.51 L381.35,174.56 L381.61,174.61 L381.87,174.67 L382.13,174.72 L382.39,174.77 L382.65,174.83 L382.91,174.88 L383.17,174.93 L383.44,174.99 L383.70,175.04 L383.96,175.10 L384.22,175.15 L384.48,175.20 L384.74,175.26 L385.00,175.31 L385.26,175.37 L385.53,175.42 L385.79,175.47 L386.05,175.53 L386.31,175.58 L386.57,175.63 L386.83,175.69 L387.09,175.74 L387.35,175.80 L387.62,175.85 L387.88,175.91 L388.14,175.96 L388.40,176.01 L388.66,176.07 L388.92,176.12 L389.18,176.18 L389.44,176.23 L389.71,176.28 L389.97,176.34 L390.23,176.39 L390.49,176.45 L390.75,176.50 L391.01,176.56 L391.27,176.61 L391.54,176.66 L391.80,176.72 L392.06,176.77 L392.32,176.83 L392.58,176.88 L392.84,176.94 L393.10,176.99 L393.36,177.05 L393.63,177.10 L393.89,177.15 L394.15,177.21 L394.41,177.26 L394.67,177.32 L394.93,177.37 L395.19,177.43 L395.45,177.48 L395.72,177.54 L395.98,177.59 L396.24,177.65 L396.50,177.70 L396.76,177.75 L397.02,177.81 L397.28,177.86 L397.54,177.92 L397.81,177.97 L398.07,178.03 L398.33,178.08 L398.59,178.14 L398.85,178.19 L399.11,178.25 L399.37,178.30 L399.63,178.36 L399.90,178.41 L400.16,178.46 L400.42,178.52 L400.68,178.57 L400.94,178.63 L401.20,178.68 L401.46,178.74 L401.72,178.79 L401.99,178.85 L402.25,178.90 L402.51,178.96 L402.77,179.01 L403.03,179.07 L403.29,179.12 L403.55,179.18 L403.81,179.23 L404.08,179.28 L404.34,179.34 L404.60,179.39 L404.86,179.45 L405.12,179.50 L405.38,179.56 L405.64,179.61 L405.90,179.67 L406.17,179.72 L406.43,179.78 L406.69,179.83 L406.95,179.89 L407.21,179.94 L407.47,179.99 L407.73,180.05 L407.99,180.10 L408.26,180.16 L408.52,180.21 L408.78,180.27 L409.04,180.32 L409.30,180.38 L409.56,180.43 L409.82,180.49 L410.08,180.54 L410.35,180.59 L410.61,180.65 L410.87,180.70 L411.13,180.76 L411.39,180.81 L411.65,180.87 L411.91,180.92 L412.18,180.98 L412.44,181.03 L412.70,181.08 L412.96,181.14 L413.22,181.19 L413.48,181.25 L413.74,181.30 L414.00,181.36 L414.27,181.41 L414.53,181.46 L414.79,181.52 L415.05,181.57 L415.31,181.63 L415.57,181.68 L415.83,181.74 L416.09,181.79 L416.36,181.84 L416.62,181.90 L416.88,181.95 L417.14,182.01 L417.40,182.06 L417.66,182.11 L417.92,182.17 L418.18,182.22 L418.45,182.28 L418.71,182.33 L418.97,182.38 L419.23,182.44 L419.49,182.49 L419.75,182.55 L420.01,182.60 L420.27,182.65 L420.54,182.71 L420.80,182.76 L421.06,182.82 L421.32,182.87 L421.58,182.92 L421.84,182.98 L422.10,183.03 L422.36,183.09 L422.63,183.14 L422.89,183.19 L423.15,183.25 L423.41,183.30 L423.67,183.35 L423.93,183.41 L424.19,183.46 L424.45,183.51 L424.72,183.57 L424.98,183.62 L425.24,183.68 L425.50,183.73 L425.76,183.78 L426.02,183.84 L426.28,183.89 L426.54,183.94 L426.81,184.00 L427.07,184.05 L427.33,184.10 L427.59,184.16 L427.85,184.21 L428.11,184.26 L428.37,184.32 L428.63,184.37 L428.90,184.42 L429.16,184.48 L429.42,184.53 L429.68,184.58 L429.94,184.63 L430.20,184.69 L430.46,184.74 L430.73,184.79 L430.99,184.85 L431.25,184.90 L431.51,184.95 L431.77,185.01 L432.03,185.06 L432.29,185.11 L432.55,185.16 L432.82,185.22 L433.08,185.27 L433.34,185.32 L433.60,185.38 L433.86,185.43 L434.12,185.48 L434.38,185.53 L434.64,185.59 L434.91,185.64 L435.17,185.69 L435.43,185.74 L435.69,185.80 L435.95,185.85 L436.21,185.90 L436.47,185.95 L436.73,186.01 L437.00,186.06 L437.26,186.11 L437.52,186.16 L437.78,186.22 L438.04,186.27 L438.30,186.32 L438.56,186.37 L438.82,186.42 L439.09,186.48 L439.35,186.53 L439.61,186.58 L439.87,186.63 L440.13,186.68 L440.39,186.74 L440.65,186.79 L440.91,186.84 L441.18,186.89 L441.44,186.94 L441.70,187.00 L441.96,187.05 L442.22,187.10 L442.48,187.15 L442.74,187.20 L443.00,187.25 L443.27,187.31 L443.53,187.36 L443.79,187.41 L444.05,187.46 L444.31,187.51 L444.57,187.56 L444.83,187.62 L445.09,187.67 L445.36,187.72 L445.62,187.77 L445.88,187.82 L446.14,187.87 L446.40,187.92 L446.66,187.97 L446.92,188.03 L447.18,188.08 L447.45,188.13 L447.71,188.18 L447.97,188.23 L448.23,188.28 L448.49,188.33 L448.75,188.38 L449.01,188.43 L449.28,188.49 L449.54,188.54 L449.80,188.59 L450.06,188.64 L450.32,188.69 L450.58,188.74 L450.84,188.79 L451.10,188.84 L451.37,188.89 L451.63,188.94 L451.89,188.99 L452.15,189.04 L452.41,189.09 L452.67,189.14 L452.93,189.19 L453.19,189.24 L453.46,189.30 L453.72,189.35 L453.98,189.40 L454.24,189.45 L454.50,189.50 L454.76,189.55 L455.02,189.60 L455.28,189.65 L455.55,189.70 L455.81,189.75 L456.07,189.80 L456.33,189.85 L456.59,189.90 L456.85,189.95 L457.11,190.00 L457.37,190.05 L457.64,190.10 L457.90,190.15 L458.16,190.20 L458.42,190.25 L458.68,190.29 L458.94,190.34 L459.20,190.39 L459.46,190.44 L459.73,190.49 L459.99,190.54 L460.25,190.59 L460.51,190.64 L460.77,190.69 L461.03,190.74 L461.29,190.79 L461.55,190.84 L461.82,190.89 L462.08,190.94 L462.34,190.99 L462.60,191.04 L462.86,191.08 L463.12,191.13 L463.38,191.18 L463.64,191.23 L463.91,191.28 L464.17,191.33 L464.43,191.38 L464.69,191.43 L464.95,191.48 L465.21,191.52 L465.47,191.57 L465.73,191.62 L466.00,191.67 L466.26,191.72 L466.52,191.77 L466.78,191.82 L467.04,191.86 L467.30,191.91 L467.56,191.96 L467.82,192.01 L468.09,192.06 L468.35,192.11 L468.61,192.15 L468.87,192.20 L469.13,192.25 L469.39,192.30 L469.65,192.35 L469.92,192.40 L470.18,192.44 L470.44,192.49 L470.70,192.54 L470.96,192.59 L471.22,192.64 L471.48,192.68 L471.74,192.73 L472.01,192.78 L472.27,192.83 L472.53,192.87 L472.79,192.92 L473.05,192.97 L473.31,193.02 L473.57,193.06 L473.83,193.11 L474.10,193.16 L474.36,193.21 L474.62,193.25 L474.88,193.30 L475.14,193.35 L475.40,193.40 L475.66,193.44 L475.92,193.49 L476.19,193.54 L476.45,193.58 L476.71,193.63 L476.97,193.68 L477.23,193.73 L477.49,193.77 L477.75,193.82 L478.01,193.87 L478.28,193.91 L478.54,193.96 L478.80,194.01 L479.06,194.05 L479.32,194.10 L479.58,194.15 L479.84,194.19 L480.10,194.24 L480.37,194.29 L480.63,194.33 L480.89,194.38 L481.15,194.43 L481.41,194.47 L481.67,194.52 L481.93,194.57 L482.19,194.61 L482.46,194.66 L482.72,194.70 L482.98,194.75 L483.24,194.80 L483.50,194.84 L483.76,194.89 L484.02,194.93 L484.28,194.98 L484.55,195.03 L484.81,195.07 L485.07,195.12 L485.33,195.16 L485.59,195.21 L485.85,195.26 L486.11,195.30 L486.37,195.35 L486.64,195.39 L486.90,195.44 L487.16,195.48 L487.42,195.53 L487.68,195.57 L487.94,195.62 L488.20,195.67 L488.47,195.71 L488.73,195.76 L488.99,195.80 L489.25,195.85 L489.51,195.89 L489.77,195.94 L490.03,195.98 L490.29,196.03 L490.56,196.07 L490.82,196.12 L491.08,196.16 L491.34,196.21 L491.60,196.25 L491.86,196.30 L492.12,196.34 L492.38,196.39 L492.65,196.43 L492.91,196.48 L493.17,196.52 L493.43,196.56 L493.69,196.61 L493.95,196.65 L494.21,196.70 L494.47,196.74 L494.74,196.79 L495.00,196.83 L495.26,196.88 L495.52,196.92 L495.78,196.96 L496.04,197.01 L496.30,197.05 L496.56,197.10 L496.83,197.14 L497.09,197.18 L497.35,197.23 L497.61,197.27 L497.87,197.32 L498.13,197.36 L498.39,197.40 L498.65,197.45 L498.92,197.49 L499.18,197.54 L499.44,197.58 L499.70,197.62 L499.96,197.67 L500.22,197.71 L500.48,197.75 L500.74,197.80 L501.01,197.84 L501.27,197.88 L501.53,197.93 L501.79,197.97 L502.05,198.01 L502.31,198.06 L502.57,198.10 L502.83,198.14 L503.10,198.19 L503.36,198.23 L503.62,198.27 L503.88,198.32 L504.14,198.36 L504.40,198.40 L504.66,198.45 L504.92,198.49 L505.19,198.53 L505.45,198.57 L505.71,198.62 L505.97,198.66 L506.23,198.70 L506.49,198.75 L506.75,198.79 L507.01,198.83 L507.28,198.87 L507.54,198.92 L507.80,198.96 L508.06,199.00 L508.32,199.04 L508.58,199.09 L508.84,199.13 L509.11,199.17 L509.37,199.21 L509.63,199.25 L509.89,199.30 L510.15,199.34 L510.41,199.38 L510.67,199.42 L510.93,199.46 L511.20,199.51 L511.46,199.55 L511.72,199.59 L511.98,199.63 L512.24,199.67 L512.50,199.72 L512.76,199.76 L513.02,199.80 L513.29,199.84 L513.55,199.88 L513.81,199.92 L514.07,199.97 L514.33,200.01 L514.59,200.05 L514.85,200.09 L515.11,200.13 L515.38,200.17 L515.64,200.21 L515.90,200.26 L516.16,200.30 L516.42,200.34 L516.68,200.38 L516.94,200.42 L517.20,200.46 L517.47,200.50 L517.73,200.54 L517.99,200.58 L518.25,200.63 L518.51,200.67 L518.77,200.71 L519.03,200.75 L519.29,200.79 L519.56,200.83 L519.82,200.87 L520.08,200.91 L520.34,200.95 L520.60,200.99 L520.86,201.03 L521.12,201.07 L521.38,201.11 L521.65,201.15 L521.91,201.20 L522.17,201.24 L522.43,201.28 L522.69,201.32 L522.95,201.36 L523.21,201.40 L523.47,201.44 L523.74,201.48 L524.00,201.52 L524.26,201.56 L524.52,201.60 L524.78,201.64 L525.04,201.68 L525.30,201.72 L525.56,201.76 L525.83,201.80 L526.09,201.84 L526.35,201.88 L526.61,201.92 L526.87,201.96 L527.13,202.00 L527.39,202.04 L527.66,202.07 L527.92,202.11 L528.18,202.15 L528.44,202.19 L528.70,202.23 L528.96,202.27 L529.22,202.31 L529.48,202.35 L529.75,202.39 L530.01,202.43 L530.27,202.47 L530.53,202.51 L530.79,202.55 L531.05,202.59 L531.31,202.63 L531.57,202.66 L531.84,202.70 L532.10,202.74 L532.36,202.78 L532.62,202.82 L532.88,202.86 L533.14,202.90 L533.40,202.94 L533.66,202.98 L533.93,203.01 L534.19,203.05 L534.45,203.09 L534.71,203.13 L534.97,203.17 L535.23,203.21 L535.49,203.25 L535.75,203.28 L536.02,203.32 L536.28,203.36 L536.54,203.40 L536.80,203.44 L537.06,203.48 L537.32,203.51 L537.58,203.55 L537.84,203.59 L538.11,203.63 L538.37,203.67 L538.63,203.70 L538.89,203.74 L539.15,203.78 L539.41,203.82 L539.67,203.86 L539.93,203.89 L540.20,203.93 L540.46,203.97 L540.72,204.01 L540.98,204.05 L541.24,204.08 L541.50,204.12 L541.76,204.16 L542.02,204.20 L542.29,204.23 L542.55,204.27 L542.81,204.31 L543.07,204.35 L543.33,204.38 L543.59,204.42 L543.85,204.46 L544.11,204.50 L544.38,204.53 L544.64,204.57 L544.90,204.61 L545.16,204.64 L545.42,204.68 L545.68,204.72 L545.94,204.76 L546.21,204.79 L546.47,204.83 L546.73,204.87 L546.99,204.90 L547.25,204.94 L547.51,204.98 L547.77,205.01 L548.03,205.05 L548.30,205.09 L548.56,205.12 L548.82,205.16 L549.08,205.20 L549.34,205.23 L549.60,205.27 L549.86,205.31 L550.12,205.34 L550.39,205.38 L550.65,205.42 L550.91,205.45 L551.17,205.49 L551.43,205.53 L551.69,205.56 L551.95,205.60 L552.21,205.63 L552.48,205.67 L552.74,205.71 L553.00,205.74 L553.26,205.78 L553.52,205.82 L553.78,205.85 L554.04,205.89 L554.30,205.92 L554.57,205.96 L554.83,205.99 L555.09,206.03 L555.35,206.07 L555.61,206.10 L555.87,206.14 L556.13,206.17 L556.39,206.21 L556.66,206.24 L556.92,206.28 L557.18,206.32 L557.44,206.35 L557.70,206.39 L557.96,206.42 L558.22,206.46 L558.48,206.49 L558.75,206.53 L559.01,206.56 L559.27,206.60 L559.53,206.63 L559.79,206.67 L560.05,206.70 L560.31,206.74 L560.57,206.78 L560.84,206.81 L561.10,206.85 L561.36,206.88 L561.62,206.92 L561.88,206.95 L562.14,206.99 L562.40,207.02 L562.66,207.05 L562.93,207.09 L563.19,207.12 L563.45,207.16 L563.71,207.19 L563.97,207.23 L564.23,207.26 L564.49,207.30 L564.75,207.33 L565.02,207.37 L565.28,207.40 L565.54,207.44 L565.80,207.47 L566.06,207.50 L566.32,207.54 L566.58,207.57 L566.85,207.61 L567.11,207.64 L567.37,207.68 L567.63,207.71 L567.89,207.74 L568.15,207.78 L568.41,207.81 L568.67,207.85 L568.94,207.88 L569.20,207.92 L569.46,207.95 L569.72,207.98 L569.98,208.02 L570.24,208.05 L570.50,208.08 L570.76,208.12 L571.03,208.15 L571.29,208.19 L571.55,208.22 L571.81,208.25 L572.07,208.29 L572.33,208.32 L572.59,208.35 L572.85,208.39 L573.12,208.42 L573.38,208.46 L573.64,208.49 L573.90,208.52 L574.16,208.56 L574.42,208.59 L574.68,208.62 L574.94,208.66 L575.21,208.69 L575.47,208.72 L575.73,208.76 L575.99,208.79 L576.25,208.82 L576.51,208.85 L576.77,208.89 L577.03,208.92 L577.30,208.95 L577.56,208.99 L577.82,209.02 L578.08,209.05 L578.34,209.09 L578.60,209.12 L578.86,209.15 L579.12,209.18 L579.39,209.22 L579.65,209.25 L579.91,209.28 L580.17,209.31 L580.43,209.35 L580.69,209.38 L580.95,209.41 L581.21,209.45 L581.48,209.48 L581.74,209.51 L582.00,209.54 L582.26,209.58 L582.52,209.61 L582.78,209.64 L583.04,209.67 L583.30,209.70 L583.57,209.74 L583.83,209.77 L584.09,209.80 L584.35,209.83" fill="none" stroke="#800080" stroke-width="3.6" stroke-dasharray="8 8"/>
<path d="M206.40,358.90 L206.65,357.48 L206.90,356.07 L207.16,354.67 L207.41,353.29 L207.66,351.91 L207.91,350.54 L208.16,349.18 L208.42,347.83 L208.67,346.49 L208.92,345.16 L209.17,343.84 L209.42,342.53 L209.68,341.23 L209.93,339.94 L210.18,338.65 L210.43,337.38 L210.69,336.12 L210.94,334.86 L211.19,333.62 L211.44,332.38 L211.69,331.15 L211.95,329.93 L212.20,328.72 L212.45,327.52 L212.70,326.32 L212.95,325.14 L213.21,323.96 L213.46,322.79 L213.71,321.63 L213.96,320.48 L214.22,319.34 L214.47,318.20 L214.72,317.08 L214.97,315.96 L215.22,314.85 L215.48,313.75 L215.73,312.65 L215.98,311.56 L216.23,310.48 L216.48,309.41 L216.74,308.35 L216.99,307.29 L217.24,306.24 L217.49,305.20 L217.74,304.17 L218.00,303.14 L218.25,302.12 L218.50,301.11 L218.75,300.11 L219.01,299.11 L219.26,298.12 L219.51,297.14 L219.76,296.16 L220.01,295.19 L220.27,294.23 L220.52,293.28 L220.77,292.33 L221.02,291.39 L221.27,290.45 L221.53,289.52 L221.78,288.60 L222.03,287.69 L222.28,286.78 L222.54,285.88 L222.79,284.98 L223.04,284.09 L223.29,283.21 L223.54,282.33 L223.80,281.46 L224.05,280.60 L224.30,279.74 L224.55,278.89 L224.80,278.05 L225.06,277.21 L225.31,276.37 L225.56,275.55 L225.81,274.72 L226.07,273.91 L226.32,273.10 L226.57,272.30 L226.82,271.50 L227.07,270.71 L227.33,269.92 L227.58,269.14 L227.83,268.36 L228.08,267.59 L228.33,266.83 L228.59,266.07 L228.84,265.32 L229.09,264.57 L229.34,263.83 L229.60,263.09 L229.85,262.36 L230.10,261.63 L230.35,260.91 L230.60,260.19 L230.86,259.48 L231.11,258.78 L231.36,258.08 L231.61,257.38 L231.86,256.69 L232.12,256.00 L232.37,255.32 L232.62,254.65 L232.87,253.97 L233.13,253.31 L233.38,252.65 L233.63,251.99 L233.88,251.34 L234.13,250.69 L234.39,250.05 L234.64,249.41 L234.89,248.78 L235.14,248.15 L235.39,247.52 L235.65,246.91 L235.90,246.29 L236.15,245.68 L236.40,245.07 L236.66,244.47 L236.91,243.87 L237.16,243.28 L237.41,242.69 L237.66,242.11 L237.92,241.53 L238.17,240.95 L238.42,240.38 L238.67,239.81 L238.92,239.25 L239.18,238.69 L239.43,238.13 L239.68,237.58 L239.93,237.03 L240.18,236.49 L240.44,235.95 L240.69,235.41 L240.94,234.88 L241.19,234.35 L241.45,233.83 L241.70,233.31 L241.95,232.79 L242.20,232.28 L242.45,231.77 L242.71,231.27 L242.96,230.77 L243.21,230.27 L243.46,229.77 L243.71,229.28 L243.97,228.80 L244.22,228.31 L244.47,227.83 L244.72,227.36 L244.98,226.88 L245.23,226.42 L245.48,225.95 L245.73,225.49 L245.98,225.03 L246.24,224.57 L246.49,224.12 L246.74,223.67 L246.99,223.23 L247.24,222.78 L247.50,222.34 L247.75,221.91 L248.00,221.48 L248.25,221.05 L248.51,220.62 L248.76,220.20 L249.01,219.78 L249.26,219.36 L249.51,218.95 L249.77,218.54 L250.02,218.13 L250.27,217.73 L250.52,217.32 L250.77,216.93 L251.03,216.53 L251.28,216.14 L251.53,215.75 L251.78,215.36 L252.04,214.98 L252.29,214.60 L252.54,214.22 L252.79,213.84 L253.04,213.47 L253.30,213.10 L253.55,212.74 L253.80,212.37 L254.05,212.01 L254.30,211.65 L254.56,211.30 L254.81,210.94 L255.06,210.59 L255.31,210.24 L255.57,209.90 L255.82,209.56 L256.07,209.22 L256.32,208.88 L256.57,208.54 L256.83,208.21 L257.08,207.88 L257.33,207.56 L257.58,207.23 L257.83,206.91 L258.09,206.59 L258.34,206.27 L258.59,205.96 L258.84,205.64 L259.10,205.33 L259.35,205.03 L259.60,204.72 L259.85,204.42 L260.10,204.12 L260.36,203.82 L260.61,203.52 L260.86,203.23 L261.11,202.94 L261.36,202.65 L261.62,202.36 L261.87,202.08 L262.12,201.80 L262.37,201.52 L262.63,201.24 L262.88,200.96 L263.13,200.69 L263.38,200.42 L263.63,200.15 L263.89,199.88 L264.14,199.61 L264.39,199.35 L264.64,199.09 L264.89,198.83 L265.15,198.57 L265.40,198.32 L265.65,198.07 L265.90,197.82 L266.15,197.57 L266.41,197.32 L266.66,197.07 L266.91,196.83 L267.16,196.59 L267.42,196.35 L267.67,196.11 L267.92,195.88 L268.17,195.65 L268.42,195.41 L268.68,195.18 L268.93,194.96 L269.18,194.73 L269.43,194.51 L269.68,194.28 L269.94,194.06 L270.19,193.84 L270.44,193.63 L270.69,193.41 L270.95,193.20 L271.20,192.99 L271.45,192.78 L271.70,192.57 L271.95,192.36 L272.21,192.16 L272.46,191.96 L272.71,191.75 L272.96,191.55 L273.21,191.36 L273.47,191.16 L273.72,190.96 L273.97,190.77 L274.22,190.58 L274.48,190.39 L274.73,190.20 L274.98,190.02 L275.23,189.83 L275.48,189.65 L275.74,189.46 L275.99,189.28 L276.24,189.10 L276.49,188.93 L276.74,188.75 L277.00,188.58 L277.25,188.40 L277.50,188.23 L277.75,188.06 L278.01,187.89 L278.26,187.73 L278.51,187.56 L278.76,187.40 L279.01,187.23 L279.27,187.07 L279.52,186.91 L279.77,186.75 L280.02,186.60 L280.27,186.44 L280.53,186.29 L280.78,186.13 L281.03,185.98 L281.28,185.83 L281.54,185.68 L281.79,185.54 L282.04,185.39 L282.29,185.24 L282.54,185.10 L282.80,184.96 L283.05,184.82 L283.30,184.68 L283.55,184.54 L283.80,184.40 L284.06,184.26 L284.31,184.13 L284.56,184.00 L284.81,183.86 L285.07,183.73 L285.32,183.60 L285.57,183.47 L285.82,183.35 L286.07,183.22 L286.33,183.09 L286.58,182.97 L286.83,182.85 L287.08,182.73 L287.33,182.61 L287.59,182.49 L287.84,182.37 L288.09,182.25 L288.34,182.13 L288.59,182.02 L288.85,181.91 L289.10,181.79 L289.35,181.68 L289.60,181.57 L289.86,181.46 L290.11,181.35 L290.36,181.25 L290.61,181.14 L290.86,181.03 L291.12,180.93 L291.37,180.83 L291.62,180.73 L291.87,180.62 L292.12,180.52 L292.38,180.42 L292.63,180.33 L292.88,180.23 L293.13,180.13 L293.39,180.04 L293.64,179.94 L293.89,179.85 L294.14,179.76 L294.39,179.67 L294.65,179.58 L294.90,179.49 L295.15,179.40 L295.40,179.31 L295.65,179.23 L295.91,179.14 L296.16,179.06 L296.41,178.97 L296.66,178.89 L296.92,178.81 L297.17,178.73 L297.42,178.65 L297.67,178.57 L297.92,178.49 L298.18,178.41 L298.43,178.34 L298.68,178.26 L298.93,178.18 L299.18,178.11 L299.44,178.04 L299.69,177.96 L299.94,177.89 L300.19,177.82 L300.45,177.75 L300.70,177.68 L300.95,177.62 L301.20,177.55 L301.45,177.48 L301.71,177.41 L301.96,177.35 L302.21,177.29 L302.46,177.22 L302.71,177.16 L302.97,177.10 L303.22,177.04 L303.47,176.98 L303.72,176.92 L303.98,176.86 L304.23,176.80 L304.48,176.74 L304.73,176.68 L304.98,176.63 L305.24,176.57 L305.49,176.52 L305.74,176.46 L305.99,176.41 L306.24,176.36 L306.50,176.31 L306.75,176.26 L307.00,176.21 L307.25,176.16 L307.51,176.11 L307.76,176.06 L308.01,176.01 L308.26,175.96 L308.51,175.92 L308.77,175.87 L309.02,175.83 L309.27,175.78 L309.52,175.74 L309.77,175.70 L310.03,175.65 L310.28,175.61 L310.53,175.57 L310.78,175.53 L311.04,175.49 L311.29,175.45 L311.54,175.41 L311.79,175.38 L312.04,175.34 L312.30,175.30 L312.55,175.27 L312.80,175.23 L313.05,175.19 L313.30,175.16 L313.56,175.13 L313.81,175.09 L314.06,175.06 L314.31,175.03 L314.56,175.00 L314.82,174.97 L315.07,174.94 L315.32,174.91 L315.57,174.88 L315.83,174.85 L316.08,174.82 L316.33,174.79 L316.58,174.77 L316.83,174.74 L317.09,174.71 L317.34,174.69 L317.59,174.66 L317.84,174.64 L318.09,174.61 L318.35,174.59 L318.60,174.57 L318.85,174.55 L319.10,174.52 L319.36,174.50 L319.61,174.48 L319.86,174.46 L320.11,174.44 L320.36,174.42 L320.62,174.40 L320.87,174.38 L321.12,174.37 L321.37,174.35 L321.62,174.33 L321.88,174.32 L322.13,174.30 L322.38,174.28 L322.63,174.27 L322.89,174.25 L323.14,174.24 L323.39,174.23 L323.64,174.21 L323.89,174.20 L324.15,174.19 L324.40,174.18 L324.65,174.16 L324.90,174.15 L325.15,174.14 L325.41,174.13 L325.66,174.12 L325.91,174.11 L326.16,174.10 L326.42,174.10 L326.67,174.09 L326.92,174.08 L327.17,174.07 L327.42,174.07 L327.68,174.06 L327.93,174.05 L328.18,174.05 L328.43,174.04 L328.68,174.04 L328.94,174.03 L329.19,174.03 L329.44,174.03 L329.69,174.02 L329.95,174.02 L330.20,174.02 L330.45,174.01 L330.70,174.01 L330.95,174.01 L331.21,174.01 L331.46,174.01 L331.71,174.01 L331.96,174.01 L332.21,174.01 L332.47,174.01 L332.72,174.01 L332.97,174.01 L333.22,174.01 L333.48,174.02 L333.73,174.02 L333.98,174.02 L334.23,174.03 L334.48,174.03 L334.74,174.03 L334.99,174.04 L335.24,174.04 L335.49,174.05 L335.74,174.05 L336.00,174.06 L336.25,174.06 L336.50,174.07 L336.75,174.07 L337.01,174.08 L337.26,174.09 L337.51,174.10 L337.76,174.10 L338.01,174.11 L338.27,174.12 L338.52,174.13 L338.77,174.14 L339.02,174.15 L339.27,174.16 L339.53,174.17 L339.78,174.18 L340.03,174.19 L340.28,174.20 L340.53,174.21 L340.79,174.22 L341.04,174.23 L341.29,174.24 L341.54,174.25 L341.80,174.27 L342.05,174.28 L342.30,174.29 L342.55,174.31 L342.80,174.32 L343.06,174.33 L343.31,174.35 L343.56,174.36 L343.81,174.38 L344.06,174.39 L344.32,174.41 L344.57,174.42 L344.82,174.44 L345.07,174.45 L345.33,174.47 L345.58,174.48 L345.83,174.50 L346.08,174.52 L346.33,174.53 L346.59,174.55 L346.84,174.57 L347.09,174.59 L347.34,174.61 L347.59,174.62 L347.85,174.64 L348.10,174.66 L348.35,174.68 L348.60,174.70 L348.86,174.72 L349.11,174.74 L349.36,174.76 L349.61,174.78 L349.86,174.80 L350.12,174.82 L350.37,174.84 L350.62,174.86 L350.87,174.88 L351.12,174.90 L351.38,174.92 L351.63,174.95 L351.88,174.97 L352.13,174.99 L352.39,175.01 L352.64,175.04 L352.89,175.06 L353.14,175.08 L353.39,175.10 L353.65,175.13 L353.90,175.15 L354.15,175.18 L354.40,175.20 L354.65,175.22 L354.91,175.25 L355.16,175.27 L355.41,175.30 L355.66,175.32 L355.92,175.35 L356.17,175.37 L356.42,175.40 L356.67,175.42 L356.92,175.45 L357.18,175.48 L357.43,175.50 L357.68,175.53 L357.93,175.56 L358.18,175.58 L358.44,175.61 L358.69,175.64 L358.94,175.66 L359.19,175.69 L359.45,175.72 L359.70,175.75 L359.95,175.77 L360.20,175.80 L360.45,175.83 L360.71,175.86 L360.96,175.89 L361.21,175.92 L361.46,175.95 L361.71,175.97 L361.97,176.00 L362.22,176.03 L362.47,176.06 L362.72,176.09 L362.97,176.12 L363.23,176.15 L363.48,176.18 L363.73,176.21 L363.98,176.24 L364.24,176.27 L364.49,176.30 L364.74,176.33 L364.99,176.37 L365.24,176.40 L365.50,176.43 L365.75,176.46 L366.00,176.49 L366.25,176.52 L366.50,176.55 L366.76,176.59 L367.01,176.62 L367.26,176.65 L367.51,176.68 L367.77,176.72 L368.02,176.75 L368.27,176.78 L368.52,176.81 L368.77,176.85 L369.03,176.88 L369.28,176.91 L369.53,176.95 L369.78,176.98 L370.03,177.01 L370.29,177.05 L370.54,177.08 L370.79,177.12 L371.04,177.15 L371.30,177.18 L371.55,177.22 L371.80,177.25 L372.05,177.29 L372.30,177.32 L372.56,177.36 L372.81,177.39 L373.06,177.43 L373.31,177.46 L373.56,177.50 L373.82,177.53 L374.07,177.57 L374.32,177.60 L374.57,177.64 L374.83,177.68 L375.08,177.71 L375.33,177.75 L375.58,177.78 L375.83,177.82 L376.09,177.86 L376.34,177.89 L376.59,177.93 L376.84,177.97 L377.09,178.00 L377.35,178.04 L377.60,178.08 L377.85,178.11 L378.10,178.15 L378.36,178.19 L378.61,178.22 L378.86,178.26 L379.11,178.30 L379.36,178.34 L379.62,178.37 L379.87,178.41 L380.12,178.45 L380.37,178.49 L380.62,178.53 L380.88,178.56 L381.13,178.60 L381.38,178.64 L381.63,178.68 L381.89,178.72 L382.14,178.75 L382.39,178.79 L382.64,178.83 L382.89,178.87 L383.15,178.91 L383.40,178.95 L383.65,178.99 L383.90,179.03 L384.15,179.07 L384.41,179.10 L384.66,179.14 L384.91,179.18 L385.16,179.22 L385.42,179.26 L385.67,179.30 L385.92,179.34 L386.17,179.38 L386.42,179.42 L386.68,179.46 L386.93,179.50 L387.18,179.54 L387.43,179.58 L387.68,179.62 L387.94,179.66 L388.19,179.70 L388.44,179.74 L388.69,179.78 L388.94,179.82 L389.20,179.86 L389.45,179.90 L389.70,179.94 L389.95,179.98 L390.21,180.02 L390.46,180.06 L390.71,180.11 L390.96,180.15 L391.21,180.19 L391.47,180.23 L391.72,180.27 L391.97,180.31 L392.22,180.35 L392.47,180.39 L392.73,180.43 L392.98,180.48 L393.23,180.52 L393.48,180.56 L393.74,180.60 L393.99,180.64 L394.24,180.68 L394.49,180.72 L394.74,180.77 L395.00,180.81 L395.25,180.85 L395.50,180.89 L395.75,180.93 L396.00,180.98 L396.26,181.02 L396.51,181.06 L396.76,181.10 L397.01,181.14 L397.27,181.19 L397.52,181.23 L397.77,181.27 L398.02,181.31 L398.27,181.35 L398.53,181.40 L398.78,181.44 L399.03,181.48 L399.28,181.52 L399.53,181.57 L399.79,181.61 L400.04,181.65 L400.29,181.69 L400.54,181.74 L400.80,181.78 L401.05,181.82 L401.30,181.87 L401.55,181.91 L401.80,181.95 L402.06,181.99 L402.31,182.04 L402.56,182.08 L402.81,182.12 L403.06,182.17 L403.32,182.21 L403.57,182.25 L403.82,182.30 L404.07,182.34 L404.33,182.38 L404.58,182.43 L404.83,182.47 L405.08,182.51 L405.33,182.56 L405.59,182.60 L405.84,182.64 L406.09,182.69 L406.34,182.73 L406.59,182.77 L406.85,182.82 L407.10,182.86 L407.35,182.90 L407.60,182.95 L407.86,182.99 L408.11,183.03 L408.36,183.08 L408.61,183.12 L408.86,183.16 L409.12,183.21 L409.37,183.25 L409.62,183.30 L409.87,183.34 L410.12,183.38 L410.38,183.43 L410.63,183.47 L410.88,183.52 L411.13,183.56 L411.39,183.60 L411.64,183.65 L411.89,183.69 L412.14,183.74 L412.39,183.78 L412.65,183.82 L412.90,183.87 L413.15,183.91 L413.40,183.96 L413.65,184.00 L413.91,184.04 L414.16,184.09 L414.41,184.13 L414.66,184.18 L414.91,184.22 L415.17,184.26 L415.42,184.31 L415.67,184.35 L415.92,184.40 L416.18,184.44 L416.43,184.49 L416.68,184.53 L416.93,184.57 L417.18,184.62 L417.44,184.66 L417.69,184.71 L417.94,184.75 L418.19,184.80 L418.44,184.84 L418.70,184.88 L418.95,184.93 L419.20,184.97 L419.45,185.02 L419.71,185.06 L419.96,185.11 L420.21,185.15 L420.46,185.20 L420.71,185.24 L420.97,185.28 L421.22,185.33 L421.47,185.37 L421.72,185.42 L421.97,185.46 L422.23,185.51 L422.48,185.55 L422.73,185.60 L422.98,185.64 L423.24,185.69 L423.49,185.73 L423.74,185.77 L423.99,185.82 L424.24,185.86 L424.50,185.91 L424.75,185.95 L425.00,186.00 L425.25,186.04 L425.50,186.09 L425.76,186.13 L426.01,186.18 L426.26,186.22 L426.51,186.26 L426.77,186.31 L427.02,186.35 L427.27,186.40 L427.52,186.44 L427.77,186.49 L428.03,186.53 L428.28,186.58 L428.53,186.62 L428.78,186.67 L429.03,186.71 L429.29,186.76 L429.54,186.80 L429.79,186.84 L430.04,186.89 L430.30,186.93 L430.55,186.98 L430.80,187.02 L431.05,187.07 L431.30,187.11 L431.56,187.16 L431.81,187.20 L432.06,187.25 L432.31,187.29 L432.56,187.34 L432.82,187.38 L433.07,187.42 L433.32,187.47 L433.57,187.51 L433.83,187.56 L434.08,187.60 L434.33,187.65 L434.58,187.69 L434.83,187.74 L435.09,187.78 L435.34,187.83 L435.59,187.87 L435.84,187.91 L436.09,187.96 L436.35,188.00 L436.60,188.05 L436.85,188.09 L437.10,188.14 L437.35,188.18 L437.61,188.23 L437.86,188.27 L438.11,188.32 L438.36,188.36 L438.62,188.40 L438.87,188.45 L439.12,188.49 L439.37,188.54 L439.62,188.58 L439.88,188.63 L440.13,188.67 L440.38,188.72 L440.63,188.76 L440.88,188.80 L441.14,188.85 L441.39,188.89 L441.64,188.94 L441.89,188.98 L442.15,189.03 L442.40,189.07 L442.65,189.11 L442.90,189.16 L443.15,189.20 L443.41,189.25 L443.66,189.29 L443.91,189.34 L444.16,189.38 L444.41,189.42 L444.67,189.47 L444.92,189.51 L445.17,189.56 L445.42,189.60 L445.68,189.65 L445.93,189.69 L446.18,189.73 L446.43,189.78 L446.68,189.82 L446.94,189.87 L447.19,189.91 L447.44,189.95 L447.69,190.00 L447.94,190.04 L448.20,190.09 L448.45,190.13 L448.70,190.18 L448.95,190.22 L449.21,190.26 L449.46,190.31 L449.71,190.35 L449.96,190.39 L450.21,190.44 L450.47,190.48 L450.72,190.53 L450.97,190.57 L451.22,190.61 L451.47,190.66 L451.73,190.70 L451.98,190.75 L452.23,190.79 L452.48,190.83 L452.74,190.88 L452.99,190.92 L453.24,190.97 L453.49,191.01 L453.74,191.05 L454.00,191.10 L454.25,191.14 L454.50,191.18 L454.75,191.23 L455.00,191.27 L455.26,191.31 L455.51,191.36 L455.76,191.40 L456.01,191.45 L456.27,191.49 L456.52,191.53 L456.77,191.58 L457.02,191.62 L457.27,191.66 L457.53,191.71 L457.78,191.75 L458.03,191.79 L458.28,191.84 L458.53,191.88 L458.79,191.92 L459.04,191.97 L459.29,192.01 L459.54,192.05 L459.80,192.10 L460.05,192.14 L460.30,192.18 L460.55,192.23 L460.80,192.27 L461.06,192.31 L461.31,192.36 L461.56,192.40 L461.81,192.44 L462.06,192.49 L462.32,192.53 L462.57,192.57 L462.82,192.62 L463.07,192.66 L463.32,192.70 L463.58,192.74 L463.83,192.79 L464.08,192.83 L464.33,192.87 L464.59,192.92 L464.84,192.96 L465.09,193.00 L465.34,193.04 L465.59,193.09 L465.85,193.13 L466.10,193.17 L466.35,193.22 L466.60,193.26 L466.85,193.30 L467.11,193.34 L467.36,193.39 L467.61,193.43 L467.86,193.47 L468.12,193.51 L468.37,193.56 L468.62,193.60 L468.87,193.64 L469.12,193.69 L469.38,193.73 L469.63,193.77 L469.88,193.81 L470.13,193.86 L470.38,193.90 L470.64,193.94 L470.89,193.98 L471.14,194.02 L471.39,194.07 L471.65,194.11 L471.90,194.15 L472.15,194.19 L472.40,194.24 L472.65,194.28 L472.91,194.32 L473.16,194.36 L473.41,194.40 L473.66,194.45 L473.91,194.49 L474.17,194.53 L474.42,194.57 L474.67,194.62 L474.92,194.66 L475.18,194.70 L475.43,194.74 L475.68,194.78 L475.93,194.83 L476.18,194.87 L476.44,194.91 L476.69,194.95 L476.94,194.99 L477.19,195.03 L477.44,195.08 L477.70,195.12 L477.95,195.16 L478.20,195.20 L478.45,195.24 L478.71,195.28 L478.96,195.33 L479.21,195.37 L479.46,195.41 L479.71,195.45 L479.97,195.49 L480.22,195.53 L480.47,195.58 L480.72,195.62 L480.97,195.66 L481.23,195.70 L481.48,195.74 L481.73,195.78 L481.98,195.82 L482.24,195.87 L482.49,195.91 L482.74,195.95 L482.99,195.99 L483.24,196.03 L483.50,196.07 L483.75,196.11 L484.00,196.15 L484.25,196.19 L484.50,196.24 L484.76,196.28 L485.01,196.32 L485.26,196.36 L485.51,196.40 L485.76,196.44 L486.02,196.48 L486.27,196.52 L486.52,196.56 L486.77,196.60 L487.03,196.64 L487.28,196.69 L487.53,196.73 L487.78,196.77 L488.03,196.81 L488.29,196.85 L488.54,196.89 L488.79,196.93 L489.04,196.97 L489.29,197.01 L489.55,197.05 L489.80,197.09 L490.05,197.13 L490.30,197.17 L490.56,197.21 L490.81,197.25 L491.06,197.29 L491.31,197.33 L491.56,197.37 L491.82,197.41 L492.07,197.46 L492.32,197.50 L492.57,197.54 L492.82,197.58 L493.08,197.62 L493.33,197.66 L493.58,197.70 L493.83,197.74 L494.09,197.78 L494.34,197.82 L494.59,197.86 L494.84,197.90 L495.09,197.94 L495.35,197.98 L495.60,198.02 L495.85,198.06 L496.10,198.10 L496.35,198.14 L496.61,198.18 L496.86,198.22 L497.11,198.25 L497.36,198.29 L497.62,198.33 L497.87,198.37 L498.12,198.41 L498.37,198.45 L498.62,198.49 L498.88,198.53 L499.13,198.57 L499.38,198.61 L499.63,198.65 L499.88,198.69 L500.14,198.73 L500.39,198.77 L500.64,198.81 L500.89,198.85 L501.15,198.89 L501.40,198.93 L501.65,198.97 L501.90,199.00 L502.15,199.04 L502.41,199.08 L502.66,199.12 L502.91,199.16 L503.16,199.20 L503.41,199.24 L503.67,199.28 L503.92,199.32 L504.17,199.36 L504.42,199.39 L504.68,199.43 L504.93,199.47 L505.18,199.51 L505.43,199.55 L505.68,199.59 L505.94,199.63 L506.19,199.67 L506.44,199.71 L506.69,199.74 L506.94,199.78 L507.20,199.82 L507.45,199.86 L507.70,199.90 L507.95,199.94 L508.21,199.98 L508.46,200.01 L508.71,200.05 L508.96,200.09 L509.21,200.13 L509.47,200.17 L509.72,200.21 L509.97,200.24 L510.22,200.28 L510.47,200.32 L510.73,200.36 L510.98,200.40 L511.23,200.43 L511.48,200.47 L511.73,200.51 L511.99,200.55 L512.24,200.59 L512.49,200.62 L512.74,200.66 L513.00,200.70 L513.25,200.74 L513.50,200.78 L513.75,200.81 L514.00,200.85 L514.26,200.89 L514.51,200.93 L514.76,200.97 L515.01,201.00 L515.26,201.04 L515.52,201.08 L515.77,201.12 L516.02,201.15 L516.27,201.19 L516.53,201.23 L516.78,201.27 L517.03,201.30 L517.28,201.34 L517.53,201.38 L517.79,201.42 L518.04,201.45 L518.29,201.49 L518.54,201.53 L518.79,201.57 L519.05,201.60 L519.30,201.64 L519.55,201.68 L519.80,201.71 L520.06,201.75 L520.31,201.79 L520.56,201.83 L520.81,201.86 L521.06,201.90 L521.32,201.94 L521.57,201.97 L521.82,202.01 L522.07,202.05 L522.32,202.08 L522.58,202.12 L522.83,202.16 L523.08,202.20 L523.33,202.23 L523.59,202.27 L523.84,202.31 L524.09,202.34 L524.34,202.38 L524.59,202.42 L524.85,202.45 L525.10,202.49 L525.35,202.52 L525.60,202.56 L525.85,202.60 L526.11,202.63 L526.36,202.67 L526.61,202.71 L526.86,202.74 L527.12,202.78 L527.37,202.82 L527.62,202.85 L527.87,202.89 L528.12,202.92 L528.38,202.96 L528.63,203.00 L528.88,203.03 L529.13,203.07 L529.38,203.11 L529.64,203.14 L529.89,203.18 L530.14,203.21 L530.39,203.25 L530.65,203.29 L530.90,203.32 L531.15,203.36 L531.40,203.39 L531.65,203.43 L531.91,203.46 L532.16,203.50 L532.41,203.54 L532.66,203.57 L532.91,203.61 L533.17,203.64 L533.42,203.68 L533.67,203.71 L533.92,203.75 L534.18,203.79 L534.43,203.82 L534.68,203.86 L534.93,203.89 L535.18,203.93 L535.44,203.96 L535.69,204.00 L535.94,204.03 L536.19,204.07 L536.44,204.10 L536.70,204.14 L536.95,204.17 L537.20,204.21 L537.45,204.24 L537.70,204.28 L537.96,204.31 L538.21,204.35 L538.46,204.38 L538.71,204.42 L538.97,204.45 L539.22,204.49 L539.47,204.52 L539.72,204.56 L539.97,204.59 L540.23,204.63 L540.48,204.66 L540.73,204.70 L540.98,204.73 L541.23,204.77 L541.49,204.80 L541.74,204.84 L541.99,204.87 L542.24,204.91 L542.50,204.94 L542.75,204.98 L543.00,205.01 L543.25,205.04 L543.50,205.08 L543.76,205.11 L544.01,205.15 L544.26,205.18 L544.51,205.22 L544.76,205.25 L545.02,205.29 L545.27,205.32 L545.52,205.35 L545.77,205.39 L546.03,205.42 L546.28,205.46 L546.53,205.49 L546.78,205.52 L547.03,205.56 L547.29,205.59 L547.54,205.63 L547.79,205.66 L548.04,205.69 L548.29,205.73 L548.55,205.76 L548.80,205.80 L549.05,205.83 L549.30,205.86 L549.56,205.90 L549.81,205.93 L550.06,205.96 L550.31,206.00 L550.56,206.03 L550.82,206.07 L551.07,206.10 L551.32,206.13 L551.57,206.17 L551.82,206.20 L552.08,206.23 L552.33,206.27 L552.58,206.30 L552.83,206.33 L553.09,206.37 L553.34,206.40 L553.59,206.43 L553.84,206.47 L554.09,206.50 L554.35,206.53 L554.60,206.57 L554.85,206.60 L555.10,206.63 L555.35,206.67 L555.61,206.70 L555.86,206.73 L556.11,206.77 L556.36,206.80 L556.62,206.83 L556.87,206.86 L557.12,206.90 L557.37,206.93 L557.62,206.96 L557.88,207.00 L558.13,207.03 L558.38,207.06 L558.63,207.09 L558.88,207.13 L559.14,207.16 L559.39,207.19 L559.64,207.23 L559.89,207.26 L560.14,207.29 L560.40,207.32 L560.65,207.36 L560.90,207.39 L561.15,207.42 L561.41,207.45 L561.66,207.49 L561.91,207.52 L562.16,207.55 L562.41,207.58 L562.67,207.61 L562.92,207.65 L563.17,207.68 L563.42,207.71 L563.67,207.74 L563.93,207.78 L564.18,207.81 L564.43,207.84 L564.68,207.87 L564.94,207.90 L565.19,207.94 L565.44,207.97 L565.69,208.00 L565.94,208.03 L566.20,208.06 L566.45,208.10 L566.70,208.13 L566.95,208.16 L567.20,208.19 L567.46,208.22 L567.71,208.26 L567.96,208.29 L568.21,208.32 L568.47,208.35 L568.72,208.38 L568.97,208.41 L569.22,208.45 L569.47,208.48 L569.73,208.51 L569.98,208.54 L570.23,208.57 L570.48,208.60 L570.73,208.63 L570.99,208.67 L571.24,208.70 L571.49,208.73 L571.74,208.76 L572.00,208.79 L572.25,208.82 L572.50,208.85 L572.75,208.88 L573.00,208.92 L573.26,208.95 L573.51,208.98 L573.76,209.01 L574.01,209.04 L574.26,209.07 L574.52,209.10 L574.77,209.13 L575.02,209.16 L575.27,209.20 L575.53,209.23 L575.78,209.26 L576.03,209.29 L576.28,209.32 L576.53,209.35 L576.79,209.38 L577.04,209.41 L577.29,209.44 L577.54,209.47 L577.79,209.50 L578.05,209.53 L578.30,209.56 L578.55,209.60 L578.80,209.63 L579.06,209.66 L579.31,209.69 L579.56,209.72 L579.81,209.75 L580.06,209.78 L580.32,209.81 L580.57,209.84 L580.82,209.87 L581.07,209.90 L581.32,209.93 L581.58,209.96 L581.83,209.99 L582.08,210.02 L582.33,210.05 L582.59,210.08 L582.84,210.11 L583.09,210.14 L583.34,210.17 L583.59,210.20 L583.85,210.23 L584.10,210.26 L584.35,210.29" fill="none" stroke="#00ff00" stroke-width="3.6" stroke-dasharray="8 8"/>
</g>
<line x1="86.5" y1="254.5" x2="594.5" y2="254.5" stroke="#000" stroke-width="1.1"/>
<g stroke="#4d4d4d" stroke-width="0.9" fill="none">
<line x1="96.50" y1="359.5" x2="96.50" y2="353.2"/>
<line x1="96.50" y1="45.5" x2="96.50" y2="51.8"/>
<line x1="118.67" y1="359.5" x2="118.67" y2="355.9"/>
<line x1="118.67" y1="45.5" x2="118.67" y2="49.1"/>
<line x1="140.85" y1="359.5" x2="140.85" y2="355.9"/>
<line x1="140.85" y1="45.5" x2="140.85" y2="49.1"/>
<line x1="163.03" y1="359.5" x2="163.03" y2="355.9"/>
<line x1="163.03" y1="45.5" x2="163.03" y2="49.1"/>
<line x1="185.20" y1="359.5" x2="185.20" y2="353.2"/>
<line x1="185.20" y1="45.5" x2="185.20" y2="51.8"/>
<line x1="207.38" y1="359.5" x2="207.38" y2="355.9"/>
<line x1="207.38" y1="45.5" x2="207.38" y2="49.1"/>
<line x1="229.55" y1="359.5" x2="229.55" y2="355.9"/>
<line x1="229.55" y1="45.5" x2="229.55" y2="49.1"/>
<line x1="251.72" y1="359.5" x2="251.72" y2="355.9"/>
<line x1="251.72" y1="45.5" x2="251.72" y2="49.1"/>
<line x1="273.90" y1="359.5" x2="273.90" y2="353.2"/>
<line x1="273.90" y1="45.5" x2="273.90" y2="51.8"/>
<line x1="296.08" y1="359.5" x2="296.08" y2="355.9"/>
<line x1="296.08" y1="45.5" x2="296.08" y2="49.1"/>
<line x1="318.25" y1="359.5" x2="318.25" y2="355.9"/>
<line x1="318.25" y1="45.5" x2="318.25" y2="49.1"/>
<line x1="340.43" y1="359.5" x2="340.43" y2="355.9"/>
<line x1="340.43" y1="45.5" x2="340.43" y2="49.1"/>
<line x1="362.60" y1="359.5" x2="362.60" y2="353.2"/>
<line x1="362.60" y1="45.5" x2="362.60" y2="51.8"/>
<line x1="384.78" y1="359.5" x2="384.78" y2="355.9"/>
<line x1="384.78" y1="45.5" x2="384.78" y2="49.1"/>
<line x1="406.95" y1="359.5" x2="406.95" y2="355.9"/>
<line x1="406.95" y1="45.5" x2="406.95" y2="49.1"/>
<line x1="429.13" y1="359.5" x2="429.13" y2="355.9"/>
<line x1="429.13" y1="45.5" x2="429.13" y2="49.1"/>
<line x1="451.30" y1="359.5" x2="451.30" y2="353.2"/>
<line x1="451.30" y1="45.5" x2="451.30" y2="51.8"/>
<line x1="473.47" y1="359.5" x2="473.47" y2="355.9"/>
<line x1="473.47" y1="45.5" x2="473.47" y2="49.1"/>
<line x1="495.65" y1="359.5" x2="495.65" y2="355.9"/>
<line x1="495.65" y1="45.5" x2="495.65" y2="49.1"/>
<line x1="517.83" y1="359.5" x2="517.83" y2="355.9"/>
<line x1="517.83" y1="45.5" x2="517.83" y2="49.1"/>
<line x1="540.00" y1="359.5" x2="540.00" y2="353.2"/>
<line x1="540.00" y1="45.5" x2="540.00" y2="51.8"/>
<line x1="562.18" y1="359.5" x2="562.18" y2="355.9"/>
<line x1="562.18" y1="45.5" x2="562.18" y2="49.1"/>
<line x1="584.35" y1="359.5" x2="584.35" y2="355.9"/>
<line x1="584.35" y1="45.5" x2="584.35" y2="49.1"/>
<line x1="86.5" y1="358.90" x2="92.8" y2="358.90"/>
<line x1="594.5" y1="358.90" x2="588.2" y2="358.90"/>
<line x1="86.5" y1="348.45" x2="90.1" y2="348.45"/>
<line x1="594.5" y1="348.45" x2="590.9" y2="348.45"/>
<line x1="86.5" y1="338.01" x2="90.1" y2="338.01"/>
<line x1="594.5" y1="338.01" x2="590.9" y2="338.01"/>
<line x1="86.5" y1="327.56" x2="90.1" y2="327.56"/>
<line x1="594.5" y1="327.56" x2="590.9" y2="327.56"/>
<line x1="86.5" y1="317.11" x2="90.1" y2="317.11"/>
<line x1="594.5" y1="317.11" x2="590.9" y2="317.11"/>
<line x1="86.5" y1="306.66" x2="92.8" y2="306.66"/>
<line x1="594.5" y1="306.66" x2="588.2" y2="306.66"/>
<line x1="86.5" y1="296.22" x2="90.1" y2="296.22"/>
<line x1="594.5" y1="296.22" x2="590.9" y2="296.22"/>
<line x1="86.5" y1="285.77" x2="90.1" y2="285.77"/>
<line x1="594.5" y1="285.77" x2="590.9" y2="285.77"/>
<line x1="86.5" y1="275.32" x2="90.1" y2="275.32"/>
<line x1="594.5" y1="275.32" x2="590.9" y2="275.32"/>
<line x1="86.5" y1="264.88" x2="90.1" y2="264.88"/>
<line x1="594.5" y1="264.88" x2="590.9" y2="264.88"/>
<line x1="86.5" y1="254.43" x2="92.8" y2="254.43"/>
<line x1="594.5" y1="254.43" x2="588.2" y2="254.43"/>
<line x1="86.5" y1="243.98" x2="90.1" y2="243.98"/>
<line x1="594.5" y1="243.98" x2="590.9" y2="243.98"/>
<line x1="86.5" y1="233.54" x2="90.1" y2="233.54"/>
<line x1="594.5" y1="233.54" x2="590.9" y2="233.54"/>
<line x1="86.5" y1="223.09" x2="90.1" y2="223.09"/>
<line x1="594.5" y1="223.09" x2="590.9" y2="223.09"/>
<line x1="86.5" y1="212.64" x2="90.1" y2="212.64"/>
<line x1="594.5" y1="212.64" x2="590.9" y2="212.64"/>
<line x1="86.5" y1="202.19" x2="92.8" y2="202.19"/>
<line x1="594.5" y1="202.19" x2="588.2" y2="202.19"/>
<line x1="86.5" y1="191.75" x2="90.1" y2="191.75"/>
<line x1="594.5" y1="191.75" x2="590.9" y2="191.75"/>
<line x1="86.5" y1="181.30" x2="90.1" y2="181.30"/>
<line x1="594.5" y1="181.30" x2="590.9" y2="181.30"/>
<line x1="86.5" y1="170.85" x2="90.1" y2="170.85"/>
<line x1="594.5" y1="170.85" x2="590.9" y2="170.85"/>
<line x1="86.5" y1="160.41" x2="90.1" y2="160.41"/>
<line x1="594.5" y1="160.41" x2="590.9" y2="160.41"/>
<line x1="86.5" y1="149.96" x2="92.8" y2="149.96"/>
<line x1="594.5" y1="149.96" x2="588.2" y2="149.96"/>
<line x1="86.5" y1="139.51" x2="90.1" y2="139.51"/>
<line x1="594.5" y1="139.51" x2="590.9" y2="139.51"/>
<line x1="86.5" y1="129.07" x2="90.1" y2="129.07"/>
<line x1="594.5" y1="129.07" x2="590.9" y2="129.07"/>
<line x1="86.5" y1="118.62" x2="90.1" y2="118.62"/>
<line x1="594.5" y1="118.62" x2="590.9" y2="118.62"/>
<line x1="86.5" y1="108.17" x2="90.1" y2="108.17"/>
<line x1="594.5" y1="108.17" x2="590.9" y2="108.17"/>
<line x1="86.5" y1="97.72" x2="92.8" y2="97.72"/>
<line x1="594.5" y1="97.72" x2="588.2" y2="97.72"/>
<line x1="86.5" y1="87.28" x2="90.1" y2="87.28"/>
<line x1="594.5" y1="87.28" x2="590.9" y2="87.28"/>
<line x1="86.5" y1="76.83" x2="90.1" y2="76.83"/>
<line x1="594.5" y1="76.83" x2="590.9" y2="76.83"/>
<line x1="86.5" y1="66.38" x2="90.1" y2="66.38"/>
<line x1="594.5" y1="66.38" x2="590.9" y2="66.38"/>
<line x1="86.5" y1="55.94" x2="90.1" y2="55.94"/>
<line x1="594.5" y1="55.94" x2="590.9" y2="55.94"/>
<line x1="86.5" y1="45.49" x2="92.8" y2="45.49"/>
<line x1="594.5" y1="45.49" x2="588.2" y2="45.49"/>
</g>
<line x1="86.25" y1="45" x2="86.25" y2="360" stroke="#595959" stroke-width="0.8"/>
<line x1="86" y1="45.5" x2="595" y2="45.5" stroke="#777" stroke-width="1"/>
<line x1="86" y1="359.5" x2="595" y2="359.5" stroke="#7c7c7c" stroke-width="1"/>
<line x1="594.5" y1="45" x2="594.5" y2="360" stroke="#4a4a4a" stroke-width="1"/>
<g font-size="23.5">
<text x="95.90" y="383.7" text-anchor="middle">0.4</text>
<text x="184.60" y="383.7" text-anchor="middle">0.6</text>
<text x="273.30" y="383.7" text-anchor="middle">0.8</text>
<text x="362.00" y="383.7" text-anchor="middle">1.0</text>
<text x="450.70" y="383.7" text-anchor="middle">1.2</text>
<text x="539.40" y="383.7" text-anchor="middle">1.4</text>
<text x="80.1" y="366.00" text-anchor="end">−1.0</text>
<text x="80.1" y="313.80" text-anchor="end">−0.5</text>
<text x="80.1" y="260.73" text-anchor="end">0.0</text>
<text x="80.1" y="208.50" text-anchor="end">0.5</text>
<text x="80.1" y="156.26" text-anchor="end">1.0</text>
<text x="80.1" y="104.02" text-anchor="end">1.5</text>
<text x="80.1" y="51.79" text-anchor="end">2.0</text>
</g>
<text x="340.5" y="22.4" font-size="28.2" letter-spacing="0.7" text-anchor="middle">q=1</text>
<text x="332" y="421.8" font-size="23.5" font-style="italic">r<tspan font-size="17.7" dy="5" dx="0.3">h</tspan></text>
<text transform="translate(13.3,203) rotate(-90) skewX(-8)" font-size="23.5" font-weight="normal" text-anchor="middle" stroke="#000" stroke-width="0.4">ε</text>
<!-- legend -->
<g stroke-width="3.5" fill="none">
<line x1="55.5" y1="460.8" x2="115.5" y2="460.8" stroke="#000"/>
<line x1="247.1" y1="460.8" x2="306" y2="460.8" stroke="#000" stroke-dasharray="2 8"/>
<line x1="400.2" y1="460.8" x2="459" y2="460.8" stroke="#ff0000" stroke-dasharray="8.1 7.9"/>
<line x1="57.1" y1="507.6" x2="113" y2="507.6" stroke="#996633" stroke-dasharray="2.1 7.95 8.1 7.95"/>
<line x1="209.9" y1="507.6" x2="269" y2="507.6" stroke="#800080" stroke-dasharray="8.1 7.9"/>
<line x1="362.9" y1="507.6" x2="422" y2="507.6" stroke="#00ff00" stroke-dasharray="8.1 7.9"/>
</g>
<g font-size="23.8">
<text x="129.2" y="468.9"><tspan font-style="italic">μ</tspan>=0 (RN)</text>
<text x="319.5" y="468.9"><tspan font-style="italic">μ</tspan>=0.1</text>
<text x="472.7" y="468.9"><tspan font-style="italic">μ</tspan>=0.2</text>
<text x="129.2" y="515.6"><tspan font-style="italic">μ</tspan>=0.3</text>
<text x="282.5" y="515.6"><tspan font-style="italic">μ</tspan>=0.4</text>
<text x="435.9" y="515.6"><tspan font-style="italic">μ</tspan>=0.5</text>
</g>
</svg>
</body></html>
